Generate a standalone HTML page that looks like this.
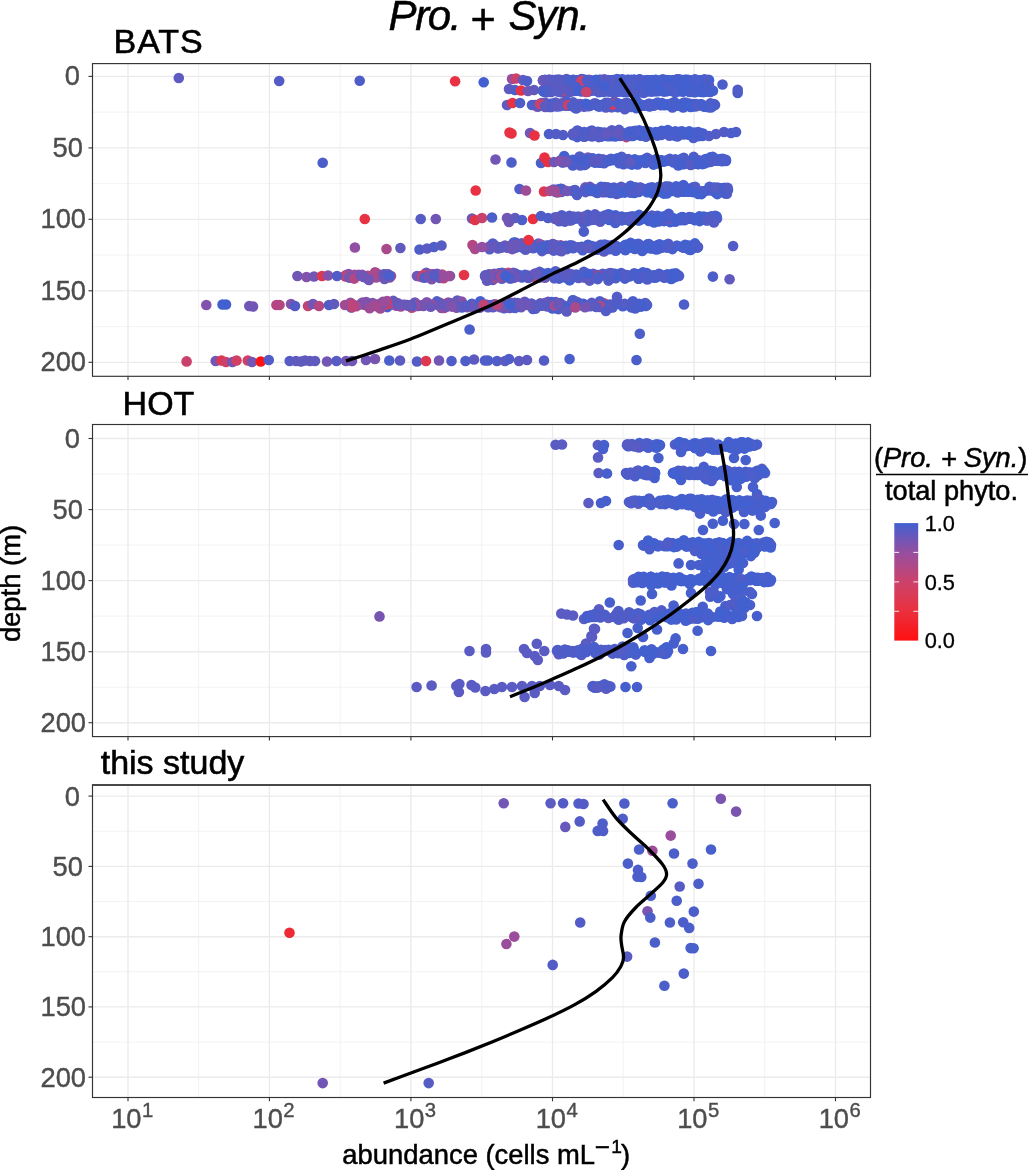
<!DOCTYPE html>
<html lang="en"><head><meta charset="utf-8"><title>Pro. + Syn.</title>
<style>html,body{margin:0;padding:0;background:#fff}body{width:1028px;height:1170px;overflow:hidden}svg{display:block}</style>
</head><body>
<svg width="1028" height="1170" viewBox="0 0 1028 1170" font-family='"Liberation Sans", Arial, Helvetica, sans-serif'>
<defs><linearGradient id="cb" x1="0" y1="1" x2="0" y2="0">
<stop offset="0" stop-color="#ff1010"/>
<stop offset="0.25" stop-color="#ea303e"/>
<stop offset="0.5" stop-color="#cc426a"/>
<stop offset="0.75" stop-color="#964ea0"/>
<stop offset="1" stop-color="#4260d0"/>
</linearGradient></defs>
<rect width="1028" height="1170" fill="#fff"/>
<text y="30.1" font-size="42" fill="#000" stroke="#000" stroke-width="0.5"><tspan x="388.6" font-style="italic" letter-spacing="-1.4">Pro. </tspan><tspan x="470.6" y="33.7" font-size="43.3">+ </tspan><tspan x="508.6" y="30.1" font-style="italic" letter-spacing="-0.7">Syn.</tspan></text>
<g>
<line x1="198.7" x2="198.7" y1="63.6" y2="376.3" stroke="#eeeeee" stroke-width="0.7"/>
<line x1="340.2" x2="340.2" y1="63.6" y2="376.3" stroke="#eeeeee" stroke-width="0.7"/>
<line x1="481.7" x2="481.7" y1="63.6" y2="376.3" stroke="#eeeeee" stroke-width="0.7"/>
<line x1="623.2" x2="623.2" y1="63.6" y2="376.3" stroke="#eeeeee" stroke-width="0.7"/>
<line x1="764.7" x2="764.7" y1="63.6" y2="376.3" stroke="#eeeeee" stroke-width="0.7"/>
<line x1="92.5" x2="870.5" y1="112.1" y2="112.1" stroke="#eeeeee" stroke-width="0.7"/>
<line x1="92.5" x2="870.5" y1="183.6" y2="183.6" stroke="#eeeeee" stroke-width="0.7"/>
<line x1="92.5" x2="870.5" y1="255.1" y2="255.1" stroke="#eeeeee" stroke-width="0.7"/>
<line x1="92.5" x2="870.5" y1="326.6" y2="326.6" stroke="#eeeeee" stroke-width="0.7"/>
<line x1="128.0" x2="128.0" y1="63.6" y2="376.3" stroke="#ebebeb" stroke-width="1.35"/>
<line x1="269.4" x2="269.4" y1="63.6" y2="376.3" stroke="#ebebeb" stroke-width="1.35"/>
<line x1="410.9" x2="410.9" y1="63.6" y2="376.3" stroke="#ebebeb" stroke-width="1.35"/>
<line x1="552.5" x2="552.5" y1="63.6" y2="376.3" stroke="#ebebeb" stroke-width="1.35"/>
<line x1="694.0" x2="694.0" y1="63.6" y2="376.3" stroke="#ebebeb" stroke-width="1.35"/>
<line x1="835.5" x2="835.5" y1="63.6" y2="376.3" stroke="#ebebeb" stroke-width="1.35"/>
<line x1="92.5" x2="870.5" y1="76.4" y2="76.4" stroke="#ebebeb" stroke-width="1.35"/>
<line x1="92.5" x2="870.5" y1="147.9" y2="147.9" stroke="#ebebeb" stroke-width="1.35"/>
<line x1="92.5" x2="870.5" y1="219.3" y2="219.3" stroke="#ebebeb" stroke-width="1.35"/>
<line x1="92.5" x2="870.5" y1="290.8" y2="290.8" stroke="#ebebeb" stroke-width="1.35"/>
<line x1="92.5" x2="870.5" y1="362.3" y2="362.3" stroke="#ebebeb" stroke-width="1.35"/>
<circle cx="500.9" cy="304.7" r="5.3" fill="#4d5eca"/>
<circle cx="694.7" cy="219.6" r="5.3" fill="#4260d0"/>
<circle cx="581.8" cy="79.1" r="5.3" fill="#4e5dc9"/>
<circle cx="572.7" cy="89.7" r="5.3" fill="#565cc5"/>
<circle cx="629.8" cy="216.7" r="5.3" fill="#4c5eca"/>
<circle cx="595.7" cy="248.5" r="5.3" fill="#4260d0"/>
<circle cx="632.4" cy="216.3" r="5.3" fill="#4260d0"/>
<circle cx="555.3" cy="248.8" r="5.3" fill="#465fce"/>
<circle cx="625.4" cy="250.2" r="5.3" fill="#4260d0"/>
<circle cx="697.5" cy="163.9" r="5.3" fill="#4260d0"/>
<circle cx="584.8" cy="80.5" r="5.3" fill="#545cc6"/>
<circle cx="599.4" cy="191.1" r="5.3" fill="#4260d0"/>
<circle cx="637.4" cy="90.7" r="5.3" fill="#4460cf"/>
<circle cx="695.3" cy="89.8" r="5.3" fill="#475fcd"/>
<circle cx="682.4" cy="162.1" r="5.3" fill="#4b5ecb"/>
<circle cx="696.8" cy="246.7" r="5.3" fill="#495fcc"/>
<circle cx="636.7" cy="216.3" r="5.3" fill="#4e5dc9"/>
<circle cx="667.2" cy="80.7" r="5.3" fill="#4f5dc8"/>
<circle cx="516.1" cy="273.9" r="5.3" fill="#495ecc"/>
<circle cx="380.1" cy="275.0" r="5.3" fill="#8851a8"/>
<circle cx="624.3" cy="188.4" r="5.3" fill="#4260d0"/>
<circle cx="647.8" cy="245.4" r="5.3" fill="#4360cf"/>
<circle cx="597.9" cy="131.8" r="5.3" fill="#535cc7"/>
<circle cx="567.4" cy="92.3" r="5.3" fill="#4e5dc9"/>
<circle cx="540.0" cy="277.5" r="5.3" fill="#6259be"/>
<circle cx="586.2" cy="83.1" r="5.3" fill="#5b5bc2"/>
<circle cx="555.4" cy="80.2" r="5.3" fill="#4260d0"/>
<circle cx="650.0" cy="80.6" r="5.3" fill="#4260d0"/>
<circle cx="690.4" cy="191.4" r="5.3" fill="#515dc7"/>
<circle cx="535.0" cy="105.0" r="5.3" fill="#4260d0"/>
<circle cx="572.7" cy="306.1" r="5.3" fill="#5c5ac1"/>
<circle cx="643.4" cy="218.8" r="5.3" fill="#4c5ecb"/>
<circle cx="634.5" cy="79.7" r="5.3" fill="#495fcc"/>
<circle cx="675.3" cy="276.9" r="5.3" fill="#4460cf"/>
<circle cx="622.2" cy="220.1" r="5.3" fill="#4260d0"/>
<circle cx="558.8" cy="104.9" r="5.3" fill="#545cc6"/>
<circle cx="566.9" cy="105.6" r="5.3" fill="#4f5dc9"/>
<circle cx="659.0" cy="273.7" r="5.3" fill="#4b5ecb"/>
<circle cx="644.4" cy="216.6" r="5.3" fill="#4e5dc9"/>
<circle cx="589.9" cy="159.3" r="5.3" fill="#4260d0"/>
<circle cx="646.7" cy="275.6" r="5.3" fill="#4260d0"/>
<circle cx="541.4" cy="103.1" r="5.3" fill="#515dc7"/>
<circle cx="691.6" cy="217.6" r="5.3" fill="#465fce"/>
<circle cx="628.6" cy="79.7" r="5.3" fill="#535cc6"/>
<circle cx="536.3" cy="276.6" r="5.3" fill="#6159be"/>
<circle cx="680.5" cy="161.9" r="5.3" fill="#4e5ec9"/>
<circle cx="585.1" cy="133.6" r="5.3" fill="#485fcc"/>
<circle cx="677.2" cy="79.4" r="5.3" fill="#585bc3"/>
<circle cx="674.6" cy="90.3" r="5.3" fill="#545cc6"/>
<circle cx="596.9" cy="86.7" r="5.3" fill="#4e5dc9"/>
<circle cx="692.4" cy="217.9" r="5.3" fill="#4a5ecb"/>
<circle cx="646.4" cy="134.9" r="5.3" fill="#4c5eca"/>
<circle cx="633.1" cy="132.5" r="5.3" fill="#525dc7"/>
<circle cx="567.1" cy="308.0" r="5.3" fill="#575bc4"/>
<circle cx="545.7" cy="246.6" r="5.3" fill="#8352ab"/>
<circle cx="693.5" cy="188.6" r="5.3" fill="#4360d0"/>
<circle cx="480.4" cy="303.2" r="5.3" fill="#7655b3"/>
<circle cx="710.3" cy="91.9" r="5.3" fill="#4a5ecb"/>
<circle cx="619.2" cy="163.3" r="5.3" fill="#4460cf"/>
<circle cx="573.1" cy="300.2" r="5.3" fill="#485fcd"/>
<circle cx="583.5" cy="79.8" r="5.3" fill="#595bc3"/>
<circle cx="594.3" cy="90.2" r="5.3" fill="#4c5eca"/>
<circle cx="572.8" cy="300.2" r="5.3" fill="#4f5dc8"/>
<circle cx="633.6" cy="192.1" r="5.3" fill="#4d5eca"/>
<circle cx="654.1" cy="105.6" r="5.3" fill="#4c5eca"/>
<circle cx="584.7" cy="165.0" r="5.3" fill="#4260d0"/>
<circle cx="486.7" cy="275.0" r="5.3" fill="#7555b3"/>
<circle cx="612.5" cy="307.5" r="5.3" fill="#485fcd"/>
<circle cx="608.7" cy="135.8" r="5.3" fill="#4d5eca"/>
<circle cx="562.6" cy="162.4" r="5.3" fill="#4260d0"/>
<circle cx="542.1" cy="104.2" r="5.3" fill="#475fcd"/>
<circle cx="656.6" cy="249.4" r="5.3" fill="#4260d0"/>
<circle cx="560.3" cy="189.6" r="5.3" fill="#6858ba"/>
<circle cx="552.7" cy="274.9" r="5.3" fill="#4260d0"/>
<circle cx="693.7" cy="156.9" r="5.3" fill="#505dc8"/>
<circle cx="689.0" cy="105.1" r="5.3" fill="#4c5eca"/>
<circle cx="440.0" cy="302.7" r="5.3" fill="#b54781"/>
<circle cx="598.2" cy="105.0" r="5.3" fill="#495ecc"/>
<circle cx="570.2" cy="86.5" r="5.3" fill="#595bc3"/>
<circle cx="630.6" cy="242.9" r="5.3" fill="#4260d0"/>
<circle cx="590.1" cy="158.6" r="5.3" fill="#4b5ecb"/>
<circle cx="621.4" cy="90.9" r="5.3" fill="#4b5ecb"/>
<circle cx="595.3" cy="274.8" r="5.3" fill="#4e5dc9"/>
<circle cx="562.0" cy="92.3" r="5.3" fill="#515dc7"/>
<circle cx="549.7" cy="80.2" r="5.3" fill="#525dc7"/>
<circle cx="700.2" cy="80.6" r="5.3" fill="#455fce"/>
<circle cx="634.9" cy="248.9" r="5.3" fill="#515dc7"/>
<circle cx="560.0" cy="303.1" r="5.3" fill="#595bc3"/>
<circle cx="699.1" cy="105.0" r="5.3" fill="#475fcd"/>
<circle cx="558.5" cy="309.1" r="5.3" fill="#585bc3"/>
<circle cx="713.5" cy="220.9" r="5.3" fill="#465fce"/>
<circle cx="547.9" cy="89.9" r="5.3" fill="#6758bb"/>
<circle cx="526.6" cy="247.0" r="5.3" fill="#495fcc"/>
<circle cx="540.2" cy="104.6" r="5.3" fill="#595bc3"/>
<circle cx="594.0" cy="132.3" r="5.3" fill="#485fcd"/>
<circle cx="496.0" cy="246.6" r="5.3" fill="#7056b6"/>
<circle cx="650.8" cy="248.5" r="5.3" fill="#4b5ecb"/>
<circle cx="637.7" cy="216.9" r="5.3" fill="#495fcc"/>
<circle cx="646.5" cy="305.1" r="5.3" fill="#4c5eca"/>
<circle cx="615.3" cy="222.9" r="5.3" fill="#495ecc"/>
<circle cx="599.2" cy="91.8" r="5.3" fill="#515dc7"/>
<circle cx="639.3" cy="130.4" r="5.3" fill="#4360cf"/>
<circle cx="619.6" cy="193.0" r="5.3" fill="#4c5eca"/>
<circle cx="644.1" cy="276.3" r="5.3" fill="#4260d0"/>
<circle cx="687.5" cy="162.9" r="5.3" fill="#465fce"/>
<circle cx="568.2" cy="103.7" r="5.3" fill="#5b5bc2"/>
<circle cx="604.0" cy="218.3" r="5.3" fill="#b7477f"/>
<circle cx="549.2" cy="80.1" r="5.3" fill="#575cc4"/>
<circle cx="604.6" cy="190.6" r="5.3" fill="#575cc4"/>
<circle cx="565.2" cy="275.9" r="5.3" fill="#6a57b9"/>
<circle cx="558.0" cy="104.7" r="5.3" fill="#4360cf"/>
<circle cx="665.8" cy="80.9" r="5.3" fill="#485fcc"/>
<circle cx="624.4" cy="192.0" r="5.3" fill="#505dc8"/>
<circle cx="682.8" cy="91.0" r="5.3" fill="#4f5dc8"/>
<circle cx="715.2" cy="192.2" r="5.3" fill="#4a5ecc"/>
<circle cx="668.7" cy="213.7" r="5.3" fill="#495fcc"/>
<circle cx="703.6" cy="92.1" r="5.3" fill="#4d5ec9"/>
<circle cx="612.9" cy="132.8" r="5.3" fill="#4260d0"/>
<circle cx="619.0" cy="129.9" r="5.3" fill="#4c5eca"/>
<circle cx="655.1" cy="249.0" r="5.3" fill="#4260d0"/>
<circle cx="621.7" cy="132.8" r="5.3" fill="#495ecc"/>
<circle cx="689.1" cy="85.6" r="5.3" fill="#4260d0"/>
<circle cx="669.7" cy="219.2" r="5.3" fill="#455fce"/>
<circle cx="645.6" cy="158.7" r="5.3" fill="#475fcd"/>
<circle cx="615.8" cy="90.0" r="5.3" fill="#575bc4"/>
<circle cx="543.0" cy="80.3" r="5.3" fill="#4e5dc9"/>
<circle cx="608.3" cy="132.6" r="5.3" fill="#535cc6"/>
<circle cx="631.6" cy="105.7" r="5.3" fill="#565cc5"/>
<circle cx="672.3" cy="273.8" r="5.3" fill="#4460cf"/>
<circle cx="546.3" cy="304.8" r="5.3" fill="#b7477f"/>
<circle cx="637.8" cy="104.2" r="5.3" fill="#545cc6"/>
<circle cx="557.7" cy="104.7" r="5.3" fill="#6259be"/>
<circle cx="463.5" cy="304.4" r="5.3" fill="#7355b4"/>
<circle cx="617.1" cy="91.8" r="5.3" fill="#545cc6"/>
<circle cx="697.0" cy="90.9" r="5.3" fill="#4b5ecb"/>
<circle cx="577.2" cy="84.7" r="5.3" fill="#525dc7"/>
<circle cx="692.3" cy="135.0" r="5.3" fill="#495ecc"/>
<circle cx="517.8" cy="306.6" r="5.3" fill="#6359bd"/>
<circle cx="629.8" cy="244.9" r="5.3" fill="#4f5dc9"/>
<circle cx="503.4" cy="246.9" r="5.3" fill="#565cc5"/>
<circle cx="545.6" cy="92.4" r="5.3" fill="#585bc4"/>
<circle cx="602.8" cy="106.0" r="5.3" fill="#515dc7"/>
<circle cx="595.2" cy="219.6" r="5.3" fill="#4d5eca"/>
<circle cx="617.9" cy="86.3" r="5.3" fill="#455fce"/>
<circle cx="571.4" cy="220.3" r="5.3" fill="#6a57b9"/>
<circle cx="653.7" cy="160.8" r="5.3" fill="#4b5ecb"/>
<circle cx="700.4" cy="104.4" r="5.3" fill="#4a5ecb"/>
<circle cx="646.8" cy="218.5" r="5.3" fill="#4e5dc9"/>
<circle cx="488.9" cy="274.4" r="5.3" fill="#6558bc"/>
<circle cx="624.6" cy="80.0" r="5.3" fill="#4d5eca"/>
<circle cx="537.4" cy="106.7" r="5.3" fill="#8452aa"/>
<circle cx="690.2" cy="85.4" r="5.3" fill="#495ecc"/>
<circle cx="592.7" cy="89.8" r="5.3" fill="#4260d0"/>
<circle cx="457.3" cy="300.6" r="5.3" fill="#5b5bc2"/>
<circle cx="393.2" cy="300.9" r="5.3" fill="#6159be"/>
<circle cx="612.8" cy="80.4" r="5.3" fill="#485fcd"/>
<circle cx="433.7" cy="274.3" r="5.3" fill="#7655b2"/>
<circle cx="589.5" cy="134.1" r="5.3" fill="#495fcc"/>
<circle cx="679.9" cy="105.8" r="5.3" fill="#4260d0"/>
<circle cx="669.8" cy="132.2" r="5.3" fill="#4460cf"/>
<circle cx="562.3" cy="189.3" r="5.3" fill="#4e5dc9"/>
<circle cx="532.7" cy="276.4" r="5.3" fill="#545cc6"/>
<circle cx="559.6" cy="106.2" r="5.3" fill="#5c5ac1"/>
<circle cx="610.8" cy="86.1" r="5.3" fill="#515dc8"/>
<circle cx="579.5" cy="303.3" r="5.3" fill="#595bc3"/>
<circle cx="652.4" cy="190.8" r="5.3" fill="#4260d0"/>
<circle cx="648.4" cy="277.0" r="5.3" fill="#4f5dc9"/>
<circle cx="586.6" cy="135.2" r="5.3" fill="#9d4c99"/>
<circle cx="625.9" cy="105.2" r="5.3" fill="#4260d0"/>
<circle cx="723.4" cy="159.9" r="5.3" fill="#475fcd"/>
<circle cx="604.0" cy="303.2" r="5.3" fill="#c64370"/>
<circle cx="549.3" cy="305.2" r="5.3" fill="#4c5ecb"/>
<circle cx="642.2" cy="251.0" r="5.3" fill="#4a5ecb"/>
<circle cx="659.0" cy="248.6" r="5.3" fill="#485fcc"/>
<circle cx="442.1" cy="274.6" r="5.3" fill="#c8436e"/>
<circle cx="689.7" cy="80.7" r="5.3" fill="#475fcd"/>
<circle cx="539.2" cy="106.1" r="5.3" fill="#5e5ac0"/>
<circle cx="510.1" cy="248.0" r="5.3" fill="#4360cf"/>
<circle cx="387.4" cy="302.5" r="5.3" fill="#a74a8f"/>
<circle cx="676.7" cy="163.2" r="5.3" fill="#475fcd"/>
<circle cx="472.0" cy="304.7" r="5.3" fill="#7b54af"/>
<circle cx="655.7" cy="277.5" r="5.3" fill="#445fcf"/>
<circle cx="605.8" cy="245.6" r="5.3" fill="#4c5eca"/>
<circle cx="683.8" cy="246.1" r="5.3" fill="#4260d0"/>
<circle cx="687.6" cy="189.0" r="5.3" fill="#4260d0"/>
<circle cx="667.7" cy="90.9" r="5.3" fill="#455fce"/>
<circle cx="655.9" cy="79.9" r="5.3" fill="#445fcf"/>
<circle cx="611.3" cy="273.7" r="5.3" fill="#575bc4"/>
<circle cx="662.9" cy="134.1" r="5.3" fill="#4e5dc9"/>
<circle cx="709.4" cy="218.8" r="5.3" fill="#4460cf"/>
<circle cx="545.4" cy="107.0" r="5.3" fill="#5b5bc1"/>
<circle cx="350.9" cy="277.1" r="5.3" fill="#b64780"/>
<circle cx="602.5" cy="159.6" r="5.3" fill="#465fce"/>
<circle cx="541.4" cy="249.1" r="5.3" fill="#5d5ac1"/>
<circle cx="682.7" cy="80.5" r="5.3" fill="#4a5ecc"/>
<circle cx="594.1" cy="133.2" r="5.3" fill="#4c5eca"/>
<circle cx="618.1" cy="90.9" r="5.3" fill="#4260d0"/>
<circle cx="622.4" cy="275.5" r="5.3" fill="#4360d0"/>
<circle cx="641.2" cy="306.6" r="5.3" fill="#4260d0"/>
<circle cx="649.8" cy="103.9" r="5.3" fill="#475fcd"/>
<circle cx="562.1" cy="247.1" r="5.3" fill="#6858ba"/>
<circle cx="608.2" cy="187.6" r="5.3" fill="#5f5abf"/>
<circle cx="548.5" cy="304.3" r="5.3" fill="#4260d0"/>
<circle cx="400.7" cy="306.5" r="5.3" fill="#a44b92"/>
<circle cx="684.1" cy="161.0" r="5.3" fill="#4c5eca"/>
<circle cx="652.0" cy="275.9" r="5.3" fill="#495fcc"/>
<circle cx="350.6" cy="277.4" r="5.3" fill="#9c4d9a"/>
<circle cx="535.9" cy="246.2" r="5.3" fill="#b54781"/>
<circle cx="559.1" cy="221.2" r="5.3" fill="#525dc7"/>
<circle cx="649.0" cy="221.0" r="5.3" fill="#455fce"/>
<circle cx="683.1" cy="107.5" r="5.3" fill="#4b5ecb"/>
<circle cx="549.4" cy="106.9" r="5.3" fill="#515dc7"/>
<circle cx="709.8" cy="158.8" r="5.3" fill="#4b5ecb"/>
<circle cx="673.0" cy="84.5" r="5.3" fill="#465fce"/>
<circle cx="548.6" cy="79.9" r="5.3" fill="#5d5ac0"/>
<circle cx="677.0" cy="91.1" r="5.3" fill="#4b5ecb"/>
<circle cx="607.0" cy="80.2" r="5.3" fill="#505dc8"/>
<circle cx="492.0" cy="278.1" r="5.3" fill="#6a57b9"/>
<circle cx="481.9" cy="305.9" r="5.3" fill="#545cc6"/>
<circle cx="634.6" cy="246.5" r="5.3" fill="#465fce"/>
<circle cx="515.4" cy="242.6" r="5.3" fill="#495fcc"/>
<circle cx="646.2" cy="274.8" r="5.3" fill="#505dc8"/>
<circle cx="608.1" cy="106.5" r="5.3" fill="#535cc6"/>
<circle cx="675.7" cy="273.3" r="5.3" fill="#4260d0"/>
<circle cx="606.2" cy="247.9" r="5.3" fill="#575cc4"/>
<circle cx="601.2" cy="105.0" r="5.3" fill="#4260d0"/>
<circle cx="617.9" cy="105.7" r="5.3" fill="#4260d0"/>
<circle cx="631.6" cy="307.5" r="5.3" fill="#4260d0"/>
<circle cx="639.1" cy="214.9" r="5.3" fill="#4260d0"/>
<circle cx="709.7" cy="217.9" r="5.3" fill="#455fcf"/>
<circle cx="696.9" cy="246.9" r="5.3" fill="#4c5eca"/>
<circle cx="620.4" cy="80.1" r="5.3" fill="#4c5eca"/>
<circle cx="572.7" cy="161.6" r="5.3" fill="#6c57b8"/>
<circle cx="426.3" cy="272.8" r="5.3" fill="#6858ba"/>
<circle cx="711.1" cy="105.8" r="5.3" fill="#4e5dc9"/>
<circle cx="676.1" cy="186.4" r="5.3" fill="#4260d0"/>
<circle cx="350.5" cy="302.8" r="5.3" fill="#904fa3"/>
<circle cx="548.2" cy="301.8" r="5.3" fill="#6459bc"/>
<circle cx="692.0" cy="106.3" r="5.3" fill="#4260d0"/>
<circle cx="683.4" cy="185.0" r="5.3" fill="#475fcd"/>
<circle cx="661.8" cy="132.7" r="5.3" fill="#455fce"/>
<circle cx="702.6" cy="164.1" r="5.3" fill="#4260d0"/>
<circle cx="618.1" cy="131.0" r="5.3" fill="#5f5abf"/>
<circle cx="600.2" cy="221.7" r="5.3" fill="#5b5bc2"/>
<circle cx="618.9" cy="87.0" r="5.3" fill="#575bc4"/>
<circle cx="654.1" cy="80.5" r="5.3" fill="#4460cf"/>
<circle cx="565.3" cy="105.3" r="5.3" fill="#4260d0"/>
<circle cx="605.3" cy="187.5" r="5.3" fill="#4b5ecb"/>
<circle cx="657.6" cy="215.9" r="5.3" fill="#455fce"/>
<circle cx="585.4" cy="134.4" r="5.3" fill="#4f5dc9"/>
<circle cx="603.4" cy="91.4" r="5.3" fill="#4c5eca"/>
<circle cx="461.9" cy="307.4" r="5.3" fill="#4260d0"/>
<circle cx="684.2" cy="187.7" r="5.3" fill="#4260d0"/>
<circle cx="694.2" cy="246.9" r="5.3" fill="#4260d0"/>
<circle cx="387.3" cy="307.1" r="5.3" fill="#4a5ecb"/>
<circle cx="700.5" cy="80.7" r="5.3" fill="#4b5ecb"/>
<circle cx="564.6" cy="102.1" r="5.3" fill="#6658bc"/>
<circle cx="612.7" cy="276.8" r="5.3" fill="#4360d0"/>
<circle cx="636.6" cy="162.8" r="5.3" fill="#4260d0"/>
<circle cx="550.9" cy="306.5" r="5.3" fill="#6059bf"/>
<circle cx="702.5" cy="105.8" r="5.3" fill="#4c5eca"/>
<circle cx="561.0" cy="160.0" r="5.3" fill="#5d5ac0"/>
<circle cx="647.3" cy="217.4" r="5.3" fill="#485fcd"/>
<circle cx="559.7" cy="219.3" r="5.3" fill="#4260d0"/>
<circle cx="512.9" cy="277.9" r="5.3" fill="#e53345"/>
<circle cx="605.7" cy="192.0" r="5.3" fill="#4260d0"/>
<circle cx="628.5" cy="162.9" r="5.3" fill="#535cc6"/>
<circle cx="346.1" cy="275.0" r="5.3" fill="#9e4c98"/>
<circle cx="651.8" cy="248.2" r="5.3" fill="#4260d0"/>
<circle cx="564.2" cy="105.4" r="5.3" fill="#4c5eca"/>
<circle cx="696.0" cy="87.5" r="5.3" fill="#4360cf"/>
<circle cx="504.1" cy="305.1" r="5.3" fill="#4260d0"/>
<circle cx="640.1" cy="161.6" r="5.3" fill="#4460cf"/>
<circle cx="650.0" cy="217.6" r="5.3" fill="#4460cf"/>
<circle cx="565.7" cy="245.9" r="5.3" fill="#5b5bc2"/>
<circle cx="602.0" cy="161.4" r="5.3" fill="#575bc4"/>
<circle cx="639.7" cy="162.5" r="5.3" fill="#485fcd"/>
<circle cx="539.2" cy="274.9" r="5.3" fill="#475fcd"/>
<circle cx="591.2" cy="134.7" r="5.3" fill="#4f5dc8"/>
<circle cx="606.8" cy="135.7" r="5.3" fill="#4260d0"/>
<circle cx="580.9" cy="161.9" r="5.3" fill="#555cc5"/>
<circle cx="570.7" cy="80.4" r="5.3" fill="#6459bc"/>
<circle cx="640.9" cy="105.9" r="5.3" fill="#4e5dc9"/>
<circle cx="677.5" cy="105.7" r="5.3" fill="#4260d0"/>
<circle cx="514.0" cy="277.5" r="5.3" fill="#485fcc"/>
<circle cx="376.9" cy="305.6" r="5.3" fill="#8f4fa4"/>
<circle cx="691.7" cy="189.9" r="5.3" fill="#4360cf"/>
<circle cx="655.0" cy="80.4" r="5.3" fill="#475fcd"/>
<circle cx="711.7" cy="217.2" r="5.3" fill="#4260d0"/>
<circle cx="666.0" cy="80.4" r="5.3" fill="#465fce"/>
<circle cx="621.7" cy="191.0" r="5.3" fill="#4e5dc9"/>
<circle cx="376.4" cy="273.3" r="5.3" fill="#5b5bc2"/>
<circle cx="608.1" cy="214.2" r="5.3" fill="#475fcd"/>
<circle cx="606.9" cy="307.0" r="5.3" fill="#495ecc"/>
<circle cx="572.9" cy="191.0" r="5.3" fill="#6259be"/>
<circle cx="609.6" cy="90.9" r="5.3" fill="#495ecc"/>
<circle cx="656.9" cy="188.3" r="5.3" fill="#4a5ecb"/>
<circle cx="437.9" cy="305.0" r="5.3" fill="#5a5bc2"/>
<circle cx="599.3" cy="79.9" r="5.3" fill="#495fcc"/>
<circle cx="567.2" cy="160.0" r="5.3" fill="#505dc8"/>
<circle cx="711.9" cy="217.4" r="5.3" fill="#4260d0"/>
<circle cx="397.4" cy="305.7" r="5.3" fill="#984d9e"/>
<circle cx="599.9" cy="80.2" r="5.3" fill="#4260d0"/>
<circle cx="599.0" cy="135.6" r="5.3" fill="#535cc6"/>
<circle cx="559.8" cy="303.9" r="5.3" fill="#4360d0"/>
<circle cx="690.3" cy="80.9" r="5.3" fill="#4d5eca"/>
<circle cx="369.5" cy="305.4" r="5.3" fill="#6f56b6"/>
<circle cx="682.4" cy="85.8" r="5.3" fill="#495fcc"/>
<circle cx="590.7" cy="247.5" r="5.3" fill="#5c5bc1"/>
<circle cx="636.3" cy="108.3" r="5.3" fill="#4260d0"/>
<circle cx="675.7" cy="80.3" r="5.3" fill="#525dc7"/>
<circle cx="581.6" cy="246.7" r="5.3" fill="#6459bc"/>
<circle cx="601.5" cy="306.8" r="5.3" fill="#505dc8"/>
<circle cx="574.8" cy="161.6" r="5.3" fill="#465fce"/>
<circle cx="555.1" cy="217.2" r="5.3" fill="#575cc4"/>
<circle cx="720.1" cy="159.6" r="5.3" fill="#4e5dc9"/>
<circle cx="597.5" cy="191.8" r="5.3" fill="#495ecc"/>
<circle cx="617.5" cy="190.5" r="5.3" fill="#4260d0"/>
<circle cx="568.4" cy="90.6" r="5.3" fill="#6658bb"/>
<circle cx="674.4" cy="104.9" r="5.3" fill="#455fce"/>
<circle cx="515.0" cy="306.7" r="5.3" fill="#6758bb"/>
<circle cx="699.9" cy="192.0" r="5.3" fill="#4b5ecb"/>
<circle cx="564.5" cy="80.3" r="5.3" fill="#495ecc"/>
<circle cx="633.2" cy="189.8" r="5.3" fill="#555cc5"/>
<circle cx="678.2" cy="275.3" r="5.3" fill="#495ecc"/>
<circle cx="688.9" cy="163.3" r="5.3" fill="#4f5dc9"/>
<circle cx="588.0" cy="157.5" r="5.3" fill="#6c57b8"/>
<circle cx="592.8" cy="160.6" r="5.3" fill="#455fce"/>
<circle cx="624.2" cy="135.2" r="5.3" fill="#555cc5"/>
<circle cx="385.4" cy="305.1" r="5.3" fill="#5d5ac1"/>
<circle cx="645.9" cy="136.8" r="5.3" fill="#525dc7"/>
<circle cx="485.9" cy="304.5" r="5.3" fill="#6259bd"/>
<circle cx="643.1" cy="87.5" r="5.3" fill="#4d5eca"/>
<circle cx="649.7" cy="90.3" r="5.3" fill="#4260d0"/>
<circle cx="696.7" cy="90.9" r="5.3" fill="#4b5ecb"/>
<circle cx="493.8" cy="275.4" r="5.3" fill="#6c57b8"/>
<circle cx="573.9" cy="84.2" r="5.3" fill="#4c5eca"/>
<circle cx="657.3" cy="87.8" r="5.3" fill="#4a5ecc"/>
<circle cx="565.0" cy="85.5" r="5.3" fill="#555cc5"/>
<circle cx="689.1" cy="218.2" r="5.3" fill="#475fcd"/>
<circle cx="566.6" cy="248.1" r="5.3" fill="#545cc6"/>
<circle cx="633.9" cy="80.5" r="5.3" fill="#495fcc"/>
<circle cx="690.4" cy="104.6" r="5.3" fill="#485fcc"/>
<circle cx="439.8" cy="277.9" r="5.3" fill="#595bc3"/>
<circle cx="564.0" cy="218.6" r="5.3" fill="#4c5eca"/>
<circle cx="609.9" cy="307.5" r="5.3" fill="#4c5eca"/>
<circle cx="629.1" cy="92.0" r="5.3" fill="#4d5eca"/>
<circle cx="665.5" cy="80.4" r="5.3" fill="#4260d0"/>
<circle cx="681.8" cy="158.7" r="5.3" fill="#4260d0"/>
<circle cx="658.4" cy="276.2" r="5.3" fill="#4260d0"/>
<circle cx="553.3" cy="80.6" r="5.3" fill="#545cc5"/>
<circle cx="567.2" cy="104.7" r="5.3" fill="#4a5ecc"/>
<circle cx="573.5" cy="276.3" r="5.3" fill="#535cc6"/>
<circle cx="443.7" cy="278.3" r="5.3" fill="#b8467e"/>
<circle cx="657.6" cy="245.0" r="5.3" fill="#4d5eca"/>
<circle cx="638.9" cy="278.8" r="5.3" fill="#4260d0"/>
<circle cx="662.2" cy="104.8" r="5.3" fill="#4260d0"/>
<circle cx="423.4" cy="306.0" r="5.3" fill="#7355b4"/>
<circle cx="656.8" cy="189.6" r="5.3" fill="#4460cf"/>
<circle cx="597.9" cy="275.1" r="5.3" fill="#455fce"/>
<circle cx="705.1" cy="219.5" r="5.3" fill="#515dc7"/>
<circle cx="467.2" cy="307.2" r="5.3" fill="#7c54af"/>
<circle cx="612.8" cy="91.3" r="5.3" fill="#505dc8"/>
<circle cx="659.0" cy="187.0" r="5.3" fill="#4260d0"/>
<circle cx="565.4" cy="277.6" r="5.3" fill="#575bc4"/>
<circle cx="649.9" cy="85.3" r="5.3" fill="#465fce"/>
<circle cx="543.0" cy="90.8" r="5.3" fill="#4e5dc9"/>
<circle cx="681.7" cy="162.7" r="5.3" fill="#4460cf"/>
<circle cx="651.3" cy="277.2" r="5.3" fill="#4360cf"/>
<circle cx="611.5" cy="219.2" r="5.3" fill="#4c5eca"/>
<circle cx="578.7" cy="132.5" r="5.3" fill="#605abf"/>
<circle cx="603.9" cy="251.4" r="5.3" fill="#6359bd"/>
<circle cx="496.1" cy="246.8" r="5.3" fill="#7c54af"/>
<circle cx="700.0" cy="80.8" r="5.3" fill="#4260d0"/>
<circle cx="577.7" cy="107.2" r="5.3" fill="#505dc8"/>
<circle cx="683.5" cy="247.2" r="5.3" fill="#475fcd"/>
<circle cx="510.9" cy="278.3" r="5.3" fill="#5e5ac0"/>
<circle cx="707.2" cy="217.4" r="5.3" fill="#475fcd"/>
<circle cx="597.4" cy="249.7" r="5.3" fill="#525dc7"/>
<circle cx="652.1" cy="90.7" r="5.3" fill="#4460cf"/>
<circle cx="582.4" cy="84.8" r="5.3" fill="#6858ba"/>
<circle cx="586.0" cy="306.0" r="5.3" fill="#595bc3"/>
<circle cx="564.1" cy="80.6" r="5.3" fill="#5c5ac1"/>
<circle cx="635.5" cy="219.2" r="5.3" fill="#4260d0"/>
<circle cx="623.5" cy="164.2" r="5.3" fill="#4b5ecb"/>
<circle cx="597.3" cy="192.9" r="5.3" fill="#485fcc"/>
<circle cx="604.5" cy="189.5" r="5.3" fill="#4a5ecb"/>
<circle cx="598.7" cy="158.7" r="5.3" fill="#445fcf"/>
<circle cx="652.8" cy="193.6" r="5.3" fill="#475fcd"/>
<circle cx="664.8" cy="80.4" r="5.3" fill="#4a5ecb"/>
<circle cx="681.9" cy="104.3" r="5.3" fill="#4260d0"/>
<circle cx="587.9" cy="134.5" r="5.3" fill="#4260d0"/>
<circle cx="683.9" cy="87.0" r="5.3" fill="#4a5ecc"/>
<circle cx="603.2" cy="191.6" r="5.3" fill="#545cc6"/>
<circle cx="623.7" cy="91.9" r="5.3" fill="#465fce"/>
<circle cx="568.8" cy="90.9" r="5.3" fill="#555cc5"/>
<circle cx="476.4" cy="305.7" r="5.3" fill="#af4887"/>
<circle cx="574.7" cy="160.6" r="5.3" fill="#4260d0"/>
<circle cx="587.1" cy="218.2" r="5.3" fill="#5d5ac1"/>
<circle cx="559.2" cy="218.2" r="5.3" fill="#535cc6"/>
<circle cx="498.1" cy="248.5" r="5.3" fill="#6a57b9"/>
<circle cx="369.0" cy="280.0" r="5.3" fill="#7954b0"/>
<circle cx="691.8" cy="105.1" r="5.3" fill="#4f5dc8"/>
<circle cx="561.8" cy="215.2" r="5.3" fill="#4e5dc9"/>
<circle cx="651.7" cy="91.2" r="5.3" fill="#455fce"/>
<circle cx="543.1" cy="245.5" r="5.3" fill="#7056b6"/>
<circle cx="618.8" cy="131.2" r="5.3" fill="#5f5ac0"/>
<circle cx="667.6" cy="217.5" r="5.3" fill="#4460cf"/>
<circle cx="572.7" cy="190.7" r="5.3" fill="#4c5eca"/>
<circle cx="511.4" cy="275.6" r="5.3" fill="#485fcc"/>
<circle cx="500.6" cy="276.2" r="5.3" fill="#6f56b6"/>
<circle cx="705.6" cy="90.7" r="5.3" fill="#4260d0"/>
<circle cx="620.7" cy="133.1" r="5.3" fill="#515dc7"/>
<circle cx="673.5" cy="276.6" r="5.3" fill="#465fce"/>
<circle cx="569.3" cy="105.4" r="5.3" fill="#4260d0"/>
<circle cx="680.0" cy="105.6" r="5.3" fill="#585bc3"/>
<circle cx="691.0" cy="218.7" r="5.3" fill="#495ecc"/>
<circle cx="678.0" cy="161.4" r="5.3" fill="#4260d0"/>
<circle cx="624.5" cy="189.2" r="5.3" fill="#555cc5"/>
<circle cx="566.5" cy="79.1" r="5.3" fill="#5b5bc2"/>
<circle cx="532.2" cy="247.7" r="5.3" fill="#505dc8"/>
<circle cx="513.6" cy="248.2" r="5.3" fill="#4f5dc8"/>
<circle cx="607.6" cy="217.2" r="5.3" fill="#545cc6"/>
<circle cx="662.6" cy="87.7" r="5.3" fill="#465fce"/>
<circle cx="519.6" cy="306.6" r="5.3" fill="#4260d0"/>
<circle cx="644.1" cy="303.9" r="5.3" fill="#565cc5"/>
<circle cx="689.4" cy="247.2" r="5.3" fill="#4260d0"/>
<circle cx="486.2" cy="276.3" r="5.3" fill="#6f56b7"/>
<circle cx="681.9" cy="162.1" r="5.3" fill="#555cc5"/>
<circle cx="616.5" cy="217.0" r="5.3" fill="#4460cf"/>
<circle cx="525.5" cy="249.8" r="5.3" fill="#5d5ac1"/>
<circle cx="693.0" cy="187.2" r="5.3" fill="#4260d0"/>
<circle cx="656.1" cy="84.2" r="5.3" fill="#4260d0"/>
<circle cx="665.2" cy="186.9" r="5.3" fill="#4460cf"/>
<circle cx="580.6" cy="79.8" r="5.3" fill="#cb426b"/>
<circle cx="637.4" cy="105.0" r="5.3" fill="#4260d0"/>
<circle cx="597.7" cy="105.7" r="5.3" fill="#485fcc"/>
<circle cx="660.0" cy="81.6" r="5.3" fill="#4260d0"/>
<circle cx="367.9" cy="275.7" r="5.3" fill="#b64780"/>
<circle cx="504.1" cy="308.2" r="5.3" fill="#525cc7"/>
<circle cx="632.0" cy="80.2" r="5.3" fill="#485fcd"/>
<circle cx="588.2" cy="135.3" r="5.3" fill="#575bc4"/>
<circle cx="551.2" cy="107.0" r="5.3" fill="#6858ba"/>
<circle cx="690.1" cy="191.0" r="5.3" fill="#485fcc"/>
<circle cx="560.6" cy="245.3" r="5.3" fill="#c64370"/>
<circle cx="513.6" cy="247.0" r="5.3" fill="#585bc3"/>
<circle cx="667.4" cy="274.4" r="5.3" fill="#455fce"/>
<circle cx="546.1" cy="80.2" r="5.3" fill="#595bc3"/>
<circle cx="355.7" cy="275.7" r="5.3" fill="#aa498c"/>
<circle cx="515.5" cy="276.3" r="5.3" fill="#8b50a6"/>
<circle cx="581.8" cy="132.7" r="5.3" fill="#4f5dc9"/>
<circle cx="496.5" cy="276.9" r="5.3" fill="#6758bb"/>
<circle cx="726.7" cy="188.4" r="5.3" fill="#475fcd"/>
<circle cx="615.2" cy="134.3" r="5.3" fill="#555cc5"/>
<circle cx="639.3" cy="303.8" r="5.3" fill="#4b5ecb"/>
<circle cx="667.6" cy="80.3" r="5.3" fill="#4260d0"/>
<circle cx="624.6" cy="103.9" r="5.3" fill="#4e5ec9"/>
<circle cx="699.9" cy="133.5" r="5.3" fill="#4260d0"/>
<circle cx="602.7" cy="273.7" r="5.3" fill="#5b5bc2"/>
<circle cx="551.2" cy="80.1" r="5.3" fill="#6f56b6"/>
<circle cx="437.0" cy="273.7" r="5.3" fill="#6159be"/>
<circle cx="696.0" cy="104.0" r="5.3" fill="#535cc7"/>
<circle cx="675.2" cy="221.8" r="5.3" fill="#4260d0"/>
<circle cx="675.4" cy="132.5" r="5.3" fill="#4260d0"/>
<circle cx="650.2" cy="188.3" r="5.3" fill="#455fce"/>
<circle cx="608.3" cy="80.4" r="5.3" fill="#4260d0"/>
<circle cx="582.4" cy="134.5" r="5.3" fill="#485fcd"/>
<circle cx="566.2" cy="92.2" r="5.3" fill="#4260d0"/>
<circle cx="599.7" cy="216.7" r="5.3" fill="#555cc5"/>
<circle cx="560.0" cy="91.9" r="5.3" fill="#4a5ecb"/>
<circle cx="589.6" cy="280.6" r="5.3" fill="#5c5bc1"/>
<circle cx="595.0" cy="214.4" r="5.3" fill="#585bc3"/>
<circle cx="593.1" cy="273.9" r="5.3" fill="#6159be"/>
<circle cx="693.7" cy="247.1" r="5.3" fill="#465fcd"/>
<circle cx="691.7" cy="248.9" r="5.3" fill="#4b5ecb"/>
<circle cx="678.2" cy="132.9" r="5.3" fill="#495fcc"/>
<circle cx="446.2" cy="303.9" r="5.3" fill="#6459bd"/>
<circle cx="610.9" cy="136.2" r="5.3" fill="#6558bc"/>
<circle cx="713.5" cy="190.3" r="5.3" fill="#4260d0"/>
<circle cx="599.5" cy="106.6" r="5.3" fill="#4260d0"/>
<circle cx="537.2" cy="247.2" r="5.3" fill="#5d5ac0"/>
<circle cx="448.3" cy="305.9" r="5.3" fill="#6858ba"/>
<circle cx="563.1" cy="274.6" r="5.3" fill="#585bc4"/>
<circle cx="636.7" cy="90.7" r="5.3" fill="#465fce"/>
<circle cx="568.0" cy="87.1" r="5.3" fill="#9d4c99"/>
<circle cx="686.4" cy="87.6" r="5.3" fill="#555cc5"/>
<circle cx="571.5" cy="274.4" r="5.3" fill="#4260d0"/>
<circle cx="685.1" cy="246.4" r="5.3" fill="#4260d0"/>
<circle cx="593.6" cy="80.7" r="5.3" fill="#545cc6"/>
<circle cx="612.6" cy="80.1" r="5.3" fill="#465fce"/>
<circle cx="580.7" cy="86.1" r="5.3" fill="#4260d0"/>
<circle cx="606.5" cy="245.0" r="5.3" fill="#575bc4"/>
<circle cx="645.9" cy="306.0" r="5.3" fill="#4d5ec9"/>
<circle cx="637.0" cy="191.3" r="5.3" fill="#4e5ec9"/>
<circle cx="490.3" cy="246.0" r="5.3" fill="#575cc4"/>
<circle cx="630.2" cy="188.9" r="5.3" fill="#4d5eca"/>
<circle cx="567.0" cy="249.1" r="5.3" fill="#565cc5"/>
<circle cx="514.7" cy="302.8" r="5.3" fill="#7256b4"/>
<circle cx="611.7" cy="107.2" r="5.3" fill="#5c5ac1"/>
<circle cx="585.5" cy="159.2" r="5.3" fill="#5c5ac1"/>
<circle cx="606.2" cy="134.9" r="5.3" fill="#5a5bc2"/>
<circle cx="616.4" cy="80.5" r="5.3" fill="#4d5eca"/>
<circle cx="494.3" cy="273.7" r="5.3" fill="#7356b4"/>
<circle cx="566.8" cy="276.1" r="5.3" fill="#6459bd"/>
<circle cx="613.1" cy="91.7" r="5.3" fill="#455fce"/>
<circle cx="544.1" cy="91.5" r="5.3" fill="#4260d0"/>
<circle cx="642.7" cy="188.8" r="5.3" fill="#4260d0"/>
<circle cx="656.1" cy="219.2" r="5.3" fill="#4460cf"/>
<circle cx="581.4" cy="91.5" r="5.3" fill="#565cc5"/>
<circle cx="545.4" cy="276.4" r="5.3" fill="#575cc4"/>
<circle cx="679.3" cy="134.1" r="5.3" fill="#4260d0"/>
<circle cx="615.4" cy="106.0" r="5.3" fill="#515dc7"/>
<circle cx="570.3" cy="91.2" r="5.3" fill="#7256b4"/>
<circle cx="639.8" cy="104.0" r="5.3" fill="#4260d0"/>
<circle cx="471.9" cy="303.7" r="5.3" fill="#4260d0"/>
<circle cx="398.6" cy="304.4" r="5.3" fill="#914fa3"/>
<circle cx="660.8" cy="160.4" r="5.3" fill="#4a5ecb"/>
<circle cx="348.7" cy="274.1" r="5.3" fill="#8252ab"/>
<circle cx="515.5" cy="247.6" r="5.3" fill="#4460cf"/>
<circle cx="702.5" cy="136.0" r="5.3" fill="#4d5eca"/>
<circle cx="655.9" cy="192.5" r="5.3" fill="#4b5ecb"/>
<circle cx="562.1" cy="247.7" r="5.3" fill="#4a5ecc"/>
<circle cx="545.3" cy="90.1" r="5.3" fill="#525cc7"/>
<circle cx="631.5" cy="79.8" r="5.3" fill="#4260d0"/>
<circle cx="603.5" cy="80.1" r="5.3" fill="#455fce"/>
<circle cx="503.8" cy="307.6" r="5.3" fill="#595bc3"/>
<circle cx="569.5" cy="161.7" r="5.3" fill="#be4578"/>
<circle cx="689.9" cy="91.6" r="5.3" fill="#475fcd"/>
<circle cx="452.9" cy="305.6" r="5.3" fill="#5f5ac0"/>
<circle cx="663.8" cy="192.5" r="5.3" fill="#4360d0"/>
<circle cx="678.2" cy="165.5" r="5.3" fill="#4d5ec9"/>
<circle cx="616.6" cy="194.0" r="5.3" fill="#5f5abf"/>
<circle cx="491.1" cy="305.3" r="5.3" fill="#8f4fa4"/>
<circle cx="704.3" cy="85.7" r="5.3" fill="#4360d0"/>
<circle cx="619.1" cy="80.0" r="5.3" fill="#455fce"/>
<circle cx="423.2" cy="276.4" r="5.3" fill="#974e9f"/>
<circle cx="704.6" cy="86.1" r="5.3" fill="#575cc4"/>
<circle cx="583.7" cy="247.7" r="5.3" fill="#555cc5"/>
<circle cx="663.7" cy="84.3" r="5.3" fill="#4360cf"/>
<circle cx="629.0" cy="246.4" r="5.3" fill="#485fcd"/>
<circle cx="591.0" cy="159.7" r="5.3" fill="#525dc7"/>
<circle cx="518.3" cy="275.3" r="5.3" fill="#565cc5"/>
<circle cx="603.4" cy="84.7" r="5.3" fill="#4c5eca"/>
<circle cx="683.5" cy="218.5" r="5.3" fill="#4260d0"/>
<circle cx="682.0" cy="246.9" r="5.3" fill="#455fce"/>
<circle cx="590.5" cy="105.5" r="5.3" fill="#6a57b9"/>
<circle cx="491.7" cy="246.3" r="5.3" fill="#565cc5"/>
<circle cx="554.5" cy="248.3" r="5.3" fill="#a04c96"/>
<circle cx="605.1" cy="246.1" r="5.3" fill="#495fcc"/>
<circle cx="377.4" cy="304.9" r="5.3" fill="#7356b4"/>
<circle cx="534.7" cy="273.8" r="5.3" fill="#5d5ac1"/>
<circle cx="561.2" cy="91.6" r="5.3" fill="#5c5ac1"/>
<circle cx="616.1" cy="80.4" r="5.3" fill="#535cc6"/>
<circle cx="503.0" cy="305.6" r="5.3" fill="#6658bb"/>
<circle cx="598.2" cy="189.8" r="5.3" fill="#bc467a"/>
<circle cx="686.9" cy="247.9" r="5.3" fill="#4b5ecb"/>
<circle cx="486.2" cy="305.7" r="5.3" fill="#585bc4"/>
<circle cx="629.4" cy="133.1" r="5.3" fill="#4260d0"/>
<circle cx="655.0" cy="90.4" r="5.3" fill="#485fcc"/>
<circle cx="582.7" cy="90.9" r="5.3" fill="#5e5ac0"/>
<circle cx="498.4" cy="273.6" r="5.3" fill="#7056b6"/>
<circle cx="596.3" cy="103.9" r="5.3" fill="#545cc6"/>
<circle cx="591.7" cy="302.9" r="5.3" fill="#5c5ac1"/>
<circle cx="654.4" cy="104.1" r="5.3" fill="#4260d0"/>
<circle cx="695.3" cy="80.0" r="5.3" fill="#4f5dc9"/>
<circle cx="667.4" cy="216.2" r="5.3" fill="#4d5eca"/>
<circle cx="693.7" cy="133.4" r="5.3" fill="#485fcc"/>
<circle cx="550.0" cy="89.6" r="5.3" fill="#a44b92"/>
<circle cx="559.1" cy="278.6" r="5.3" fill="#495ecc"/>
<circle cx="560.8" cy="249.6" r="5.3" fill="#6259bd"/>
<circle cx="637.5" cy="164.4" r="5.3" fill="#455fce"/>
<circle cx="592.0" cy="136.5" r="5.3" fill="#505dc8"/>
<circle cx="618.5" cy="160.7" r="5.3" fill="#495fcc"/>
<circle cx="712.6" cy="105.2" r="5.3" fill="#4260d0"/>
<circle cx="534.4" cy="274.6" r="5.3" fill="#545cc6"/>
<circle cx="554.2" cy="90.2" r="5.3" fill="#5f5abf"/>
<circle cx="692.8" cy="84.0" r="5.3" fill="#4260d0"/>
<circle cx="645.4" cy="81.5" r="5.3" fill="#495ecc"/>
<circle cx="604.8" cy="217.3" r="5.3" fill="#515dc7"/>
<circle cx="652.6" cy="246.4" r="5.3" fill="#4c5eca"/>
<circle cx="660.5" cy="275.0" r="5.3" fill="#485fcc"/>
<circle cx="616.5" cy="103.2" r="5.3" fill="#485fcc"/>
<circle cx="559.6" cy="246.3" r="5.3" fill="#6f56b6"/>
<circle cx="662.5" cy="91.1" r="5.3" fill="#4a5ecb"/>
<circle cx="493.7" cy="304.8" r="5.3" fill="#7256b5"/>
<circle cx="543.0" cy="273.5" r="5.3" fill="#6b57b9"/>
<circle cx="636.6" cy="134.8" r="5.3" fill="#535cc7"/>
<circle cx="635.2" cy="308.5" r="5.3" fill="#515dc7"/>
<circle cx="607.9" cy="305.1" r="5.3" fill="#4b5ecb"/>
<circle cx="629.9" cy="160.8" r="5.3" fill="#4b5ecb"/>
<circle cx="597.2" cy="276.0" r="5.3" fill="#4260d0"/>
<circle cx="550.9" cy="305.8" r="5.3" fill="#5c5ac1"/>
<circle cx="680.6" cy="189.4" r="5.3" fill="#4260d0"/>
<circle cx="638.8" cy="191.9" r="5.3" fill="#485fcc"/>
<circle cx="576.1" cy="108.4" r="5.3" fill="#525dc7"/>
<circle cx="579.6" cy="156.5" r="5.3" fill="#525dc7"/>
<circle cx="613.9" cy="187.5" r="5.3" fill="#555cc5"/>
<circle cx="707.2" cy="162.3" r="5.3" fill="#4a5ecb"/>
<circle cx="578.9" cy="277.0" r="5.3" fill="#505dc8"/>
<circle cx="649.3" cy="161.3" r="5.3" fill="#485fcd"/>
<circle cx="696.3" cy="85.9" r="5.3" fill="#4260d0"/>
<circle cx="609.7" cy="90.8" r="5.3" fill="#535cc6"/>
<circle cx="595.0" cy="217.9" r="5.3" fill="#495fcc"/>
<circle cx="628.0" cy="80.9" r="5.3" fill="#4260d0"/>
<circle cx="725.9" cy="159.8" r="5.3" fill="#465fce"/>
<circle cx="649.6" cy="187.7" r="5.3" fill="#4c5eca"/>
<circle cx="563.1" cy="104.8" r="5.3" fill="#5c5ac1"/>
<circle cx="647.9" cy="192.0" r="5.3" fill="#495fcc"/>
<circle cx="556.5" cy="190.3" r="5.3" fill="#4260d0"/>
<circle cx="588.8" cy="79.9" r="5.3" fill="#a84a8e"/>
<circle cx="686.8" cy="162.4" r="5.3" fill="#4260d0"/>
<circle cx="676.2" cy="133.0" r="5.3" fill="#4260d0"/>
<circle cx="669.6" cy="84.3" r="5.3" fill="#4260d0"/>
<circle cx="617.8" cy="248.3" r="5.3" fill="#4260d0"/>
<circle cx="647.2" cy="80.9" r="5.3" fill="#4a5ecb"/>
<circle cx="626.0" cy="161.3" r="5.3" fill="#495fcc"/>
<circle cx="654.6" cy="217.2" r="5.3" fill="#495ecc"/>
<circle cx="621.3" cy="84.0" r="5.3" fill="#4f5dc9"/>
<circle cx="680.1" cy="160.1" r="5.3" fill="#4b5ecb"/>
<circle cx="601.7" cy="305.3" r="5.3" fill="#a54b91"/>
<circle cx="615.1" cy="134.6" r="5.3" fill="#4b5ecb"/>
<circle cx="557.7" cy="247.4" r="5.3" fill="#455fce"/>
<circle cx="662.6" cy="88.0" r="5.3" fill="#465fce"/>
<circle cx="620.1" cy="219.8" r="5.3" fill="#4260d0"/>
<circle cx="565.7" cy="247.7" r="5.3" fill="#4260d0"/>
<circle cx="489.6" cy="249.2" r="5.3" fill="#545cc5"/>
<circle cx="617.2" cy="79.1" r="5.3" fill="#4260d0"/>
<circle cx="638.9" cy="83.5" r="5.3" fill="#4b5ecb"/>
<circle cx="693.7" cy="160.2" r="5.3" fill="#465fce"/>
<circle cx="726.0" cy="161.0" r="5.3" fill="#475fcd"/>
<circle cx="507.1" cy="247.5" r="5.3" fill="#6159be"/>
<circle cx="715.0" cy="105.0" r="5.3" fill="#535cc6"/>
<circle cx="657.1" cy="133.4" r="5.3" fill="#4d5eca"/>
<circle cx="689.6" cy="245.5" r="5.3" fill="#4260d0"/>
<circle cx="574.1" cy="80.1" r="5.3" fill="#6459bc"/>
<circle cx="642.5" cy="87.4" r="5.3" fill="#485fcc"/>
<circle cx="600.7" cy="219.4" r="5.3" fill="#4e5ec9"/>
<circle cx="635.4" cy="130.8" r="5.3" fill="#4260d0"/>
<circle cx="604.1" cy="192.3" r="5.3" fill="#595bc3"/>
<circle cx="720.9" cy="188.6" r="5.3" fill="#4260d0"/>
<circle cx="665.6" cy="161.0" r="5.3" fill="#495fcc"/>
<circle cx="715.7" cy="189.1" r="5.3" fill="#4d5eca"/>
<circle cx="715.5" cy="160.4" r="5.3" fill="#485fcd"/>
<circle cx="677.8" cy="160.4" r="5.3" fill="#465fce"/>
<circle cx="592.1" cy="276.1" r="5.3" fill="#bb467b"/>
<circle cx="512.5" cy="247.9" r="5.3" fill="#6d57b8"/>
<circle cx="378.8" cy="304.2" r="5.3" fill="#a34b93"/>
<circle cx="636.4" cy="104.5" r="5.3" fill="#465fce"/>
<circle cx="647.3" cy="279.5" r="5.3" fill="#515dc7"/>
<circle cx="597.0" cy="278.6" r="5.3" fill="#525dc7"/>
<circle cx="600.5" cy="218.4" r="5.3" fill="#6359bd"/>
<circle cx="583.4" cy="90.6" r="5.3" fill="#525cc7"/>
<circle cx="599.6" cy="247.2" r="5.3" fill="#505dc8"/>
<circle cx="591.2" cy="219.4" r="5.3" fill="#595bc3"/>
<circle cx="627.3" cy="217.5" r="5.3" fill="#485fcd"/>
<circle cx="555.3" cy="246.3" r="5.3" fill="#6559bc"/>
<circle cx="580.3" cy="104.2" r="5.3" fill="#5b5bc2"/>
<circle cx="578.5" cy="160.5" r="5.3" fill="#5e5ac0"/>
<circle cx="606.4" cy="248.7" r="5.3" fill="#4260d0"/>
<circle cx="688.3" cy="80.0" r="5.3" fill="#4260d0"/>
<circle cx="701.0" cy="162.3" r="5.3" fill="#4360cf"/>
<circle cx="672.1" cy="191.0" r="5.3" fill="#4260d0"/>
<circle cx="634.4" cy="192.9" r="5.3" fill="#4260d0"/>
<circle cx="614.1" cy="104.2" r="5.3" fill="#525dc7"/>
<circle cx="420.2" cy="276.4" r="5.3" fill="#7b54af"/>
<circle cx="673.6" cy="162.4" r="5.3" fill="#4d5eca"/>
<circle cx="599.4" cy="80.3" r="5.3" fill="#505dc8"/>
<circle cx="597.8" cy="191.7" r="5.3" fill="#555cc5"/>
<circle cx="373.4" cy="275.1" r="5.3" fill="#b04886"/>
<circle cx="572.5" cy="80.9" r="5.3" fill="#4b5ecb"/>
<circle cx="595.5" cy="161.0" r="5.3" fill="#4e5dc9"/>
<circle cx="611.8" cy="188.4" r="5.3" fill="#455fce"/>
<circle cx="509.7" cy="308.0" r="5.3" fill="#6a57b9"/>
<circle cx="362.5" cy="302.6" r="5.3" fill="#8a51a7"/>
<circle cx="694.5" cy="132.5" r="5.3" fill="#455fce"/>
<circle cx="630.9" cy="192.8" r="5.3" fill="#4b5ecb"/>
<circle cx="679.0" cy="80.6" r="5.3" fill="#4b5ecb"/>
<circle cx="646.8" cy="273.1" r="5.3" fill="#4b5ecb"/>
<circle cx="634.3" cy="273.2" r="5.3" fill="#4d5eca"/>
<circle cx="650.2" cy="247.4" r="5.3" fill="#4260d0"/>
<circle cx="587.7" cy="90.5" r="5.3" fill="#535cc6"/>
<circle cx="681.8" cy="132.6" r="5.3" fill="#465fce"/>
<circle cx="568.1" cy="80.5" r="5.3" fill="#535cc6"/>
<circle cx="653.0" cy="105.1" r="5.3" fill="#545cc6"/>
<circle cx="581.2" cy="80.6" r="5.3" fill="#525dc7"/>
<circle cx="611.6" cy="275.5" r="5.3" fill="#4e5dc9"/>
<circle cx="628.2" cy="159.1" r="5.3" fill="#535cc7"/>
<circle cx="593.9" cy="85.8" r="5.3" fill="#4d5eca"/>
<circle cx="580.0" cy="134.7" r="5.3" fill="#6a57b9"/>
<circle cx="545.1" cy="103.3" r="5.3" fill="#5c5ac1"/>
<circle cx="618.5" cy="135.3" r="5.3" fill="#455fce"/>
<circle cx="616.8" cy="189.8" r="5.3" fill="#585bc4"/>
<circle cx="620.1" cy="135.9" r="5.3" fill="#4b5ecb"/>
<circle cx="627.6" cy="132.8" r="5.3" fill="#515dc8"/>
<circle cx="494.5" cy="306.5" r="5.3" fill="#6d57b7"/>
<circle cx="674.9" cy="135.6" r="5.3" fill="#4260d0"/>
<circle cx="711.3" cy="219.4" r="5.3" fill="#5c5ac1"/>
<circle cx="635.4" cy="80.4" r="5.3" fill="#535cc6"/>
<circle cx="566.9" cy="105.8" r="5.3" fill="#5f5ac0"/>
<circle cx="672.4" cy="188.6" r="5.3" fill="#4260d0"/>
<circle cx="700.0" cy="217.0" r="5.3" fill="#4d5eca"/>
<circle cx="590.4" cy="190.9" r="5.3" fill="#aa498c"/>
<circle cx="599.7" cy="307.0" r="5.3" fill="#4260d0"/>
<circle cx="675.2" cy="160.1" r="5.3" fill="#465fcd"/>
<circle cx="596.3" cy="246.9" r="5.3" fill="#6758bb"/>
<circle cx="602.9" cy="90.7" r="5.3" fill="#485fcd"/>
<circle cx="591.6" cy="80.7" r="5.3" fill="#595bc3"/>
<circle cx="485.4" cy="275.3" r="5.3" fill="#5b5bc2"/>
<circle cx="417.0" cy="276.0" r="5.3" fill="#7056b6"/>
<circle cx="665.5" cy="192.5" r="5.3" fill="#4a5ecc"/>
<circle cx="679.6" cy="191.4" r="5.3" fill="#4260d0"/>
<circle cx="698.4" cy="80.6" r="5.3" fill="#4260d0"/>
<circle cx="670.5" cy="247.6" r="5.3" fill="#525dc7"/>
<circle cx="431.8" cy="275.8" r="5.3" fill="#6159be"/>
<circle cx="680.9" cy="217.6" r="5.3" fill="#4260d0"/>
<circle cx="567.1" cy="90.5" r="5.3" fill="#ca426c"/>
<circle cx="652.3" cy="187.2" r="5.3" fill="#485fcd"/>
<circle cx="645.9" cy="305.1" r="5.3" fill="#4260d0"/>
<circle cx="617.9" cy="219.1" r="5.3" fill="#485fcd"/>
<circle cx="667.1" cy="104.9" r="5.3" fill="#495fcc"/>
<circle cx="546.6" cy="247.2" r="5.3" fill="#6259be"/>
<circle cx="689.6" cy="217.4" r="5.3" fill="#465fcd"/>
<circle cx="583.2" cy="79.9" r="5.3" fill="#595bc3"/>
<circle cx="622.1" cy="275.1" r="5.3" fill="#6658bb"/>
<circle cx="677.1" cy="161.4" r="5.3" fill="#485fcd"/>
<circle cx="702.9" cy="86.6" r="5.3" fill="#495ecc"/>
<circle cx="481.3" cy="306.5" r="5.3" fill="#7455b3"/>
<circle cx="544.1" cy="91.3" r="5.3" fill="#6858ba"/>
<circle cx="588.7" cy="274.6" r="5.3" fill="#525dc7"/>
<circle cx="714.0" cy="104.0" r="5.3" fill="#4b5ecb"/>
<circle cx="686.8" cy="189.6" r="5.3" fill="#4c5eca"/>
<circle cx="549.5" cy="79.9" r="5.3" fill="#6e57b7"/>
<circle cx="620.4" cy="304.1" r="5.3" fill="#4e5ec9"/>
<circle cx="699.7" cy="134.8" r="5.3" fill="#4e5dc9"/>
<circle cx="653.7" cy="87.2" r="5.3" fill="#515dc7"/>
<circle cx="690.2" cy="104.8" r="5.3" fill="#4260d0"/>
<circle cx="640.8" cy="132.1" r="5.3" fill="#455fce"/>
<circle cx="497.0" cy="275.7" r="5.3" fill="#5d5ac1"/>
<circle cx="578.3" cy="131.9" r="5.3" fill="#6758bb"/>
<circle cx="568.9" cy="219.1" r="5.3" fill="#6359bd"/>
<circle cx="693.5" cy="90.8" r="5.3" fill="#4360d0"/>
<circle cx="696.6" cy="81.0" r="5.3" fill="#4260d0"/>
<circle cx="699.3" cy="133.1" r="5.3" fill="#475fcd"/>
<circle cx="555.3" cy="218.9" r="5.3" fill="#6259be"/>
<circle cx="617.2" cy="135.7" r="5.3" fill="#535cc7"/>
<circle cx="622.4" cy="79.5" r="5.3" fill="#4a5ecb"/>
<circle cx="710.9" cy="190.2" r="5.3" fill="#455fce"/>
<circle cx="661.4" cy="218.3" r="5.3" fill="#485fcc"/>
<circle cx="496.6" cy="246.6" r="5.3" fill="#6159be"/>
<circle cx="634.1" cy="79.9" r="5.3" fill="#4260d0"/>
<circle cx="573.8" cy="88.3" r="5.3" fill="#6a57b9"/>
<circle cx="680.2" cy="133.6" r="5.3" fill="#475fcd"/>
<circle cx="587.5" cy="83.4" r="5.3" fill="#5a5bc2"/>
<circle cx="674.9" cy="135.6" r="5.3" fill="#4260d0"/>
<circle cx="608.5" cy="280.6" r="5.3" fill="#535cc6"/>
<circle cx="636.9" cy="220.0" r="5.3" fill="#5e5ac0"/>
<circle cx="655.4" cy="247.3" r="5.3" fill="#4460cf"/>
<circle cx="605.7" cy="134.1" r="5.3" fill="#5a5bc2"/>
<circle cx="600.1" cy="80.6" r="5.3" fill="#4f5dc8"/>
<circle cx="545.8" cy="103.1" r="5.3" fill="#6359bd"/>
<circle cx="616.5" cy="220.2" r="5.3" fill="#475fcd"/>
<circle cx="561.5" cy="251.2" r="5.3" fill="#5c5ac1"/>
<circle cx="695.1" cy="246.3" r="5.3" fill="#4260d0"/>
<circle cx="530.6" cy="247.2" r="5.3" fill="#5f5abf"/>
<circle cx="588.5" cy="275.5" r="5.3" fill="#4260d0"/>
<circle cx="598.8" cy="91.6" r="5.3" fill="#4260d0"/>
<circle cx="630.2" cy="188.9" r="5.3" fill="#4b5ecb"/>
<circle cx="675.3" cy="131.3" r="5.3" fill="#485fcc"/>
<circle cx="649.9" cy="218.1" r="5.3" fill="#4260d0"/>
<circle cx="601.1" cy="186.8" r="5.3" fill="#4360d0"/>
<circle cx="683.9" cy="164.2" r="5.3" fill="#455fce"/>
<circle cx="624.4" cy="159.4" r="5.3" fill="#4260d0"/>
<circle cx="685.0" cy="79.9" r="5.3" fill="#475fcd"/>
<circle cx="612.8" cy="218.9" r="5.3" fill="#455fce"/>
<circle cx="621.6" cy="216.6" r="5.3" fill="#485fcd"/>
<circle cx="587.8" cy="214.9" r="5.3" fill="#4d5eca"/>
<circle cx="555.2" cy="302.5" r="5.3" fill="#4c5eca"/>
<circle cx="612.7" cy="90.7" r="5.3" fill="#465fce"/>
<circle cx="626.6" cy="102.5" r="5.3" fill="#515dc7"/>
<circle cx="665.7" cy="217.8" r="5.3" fill="#4260d0"/>
<circle cx="648.4" cy="189.3" r="5.3" fill="#4260d0"/>
<circle cx="613.4" cy="273.9" r="5.3" fill="#4260d0"/>
<circle cx="536.8" cy="277.9" r="5.3" fill="#bc467a"/>
<circle cx="587.9" cy="160.2" r="5.3" fill="#525cc7"/>
<circle cx="613.5" cy="276.1" r="5.3" fill="#555cc5"/>
<circle cx="638.7" cy="274.3" r="5.3" fill="#455fce"/>
<circle cx="446.9" cy="304.3" r="5.3" fill="#7854b1"/>
<circle cx="540.2" cy="303.4" r="5.3" fill="#6658bc"/>
<circle cx="436.9" cy="301.4" r="5.3" fill="#525dc7"/>
<circle cx="623.9" cy="80.2" r="5.3" fill="#495ecc"/>
<circle cx="698.4" cy="91.2" r="5.3" fill="#485fcc"/>
<circle cx="549.9" cy="306.1" r="5.3" fill="#4460cf"/>
<circle cx="647.6" cy="218.8" r="5.3" fill="#4260d0"/>
<circle cx="600.7" cy="132.4" r="5.3" fill="#4360d0"/>
<circle cx="615.6" cy="87.8" r="5.3" fill="#525dc7"/>
<circle cx="492.8" cy="243.5" r="5.3" fill="#4e5dc9"/>
<circle cx="623.1" cy="189.9" r="5.3" fill="#4a5ecb"/>
<circle cx="608.2" cy="190.1" r="5.3" fill="#4a5ecb"/>
<circle cx="589.4" cy="219.3" r="5.3" fill="#525dc7"/>
<circle cx="513.7" cy="242.6" r="5.3" fill="#4b5ecb"/>
<circle cx="502.0" cy="276.5" r="5.3" fill="#4b5ecb"/>
<circle cx="632.1" cy="161.8" r="5.3" fill="#4e5ec9"/>
<circle cx="590.9" cy="85.8" r="5.3" fill="#6359bd"/>
<circle cx="710.0" cy="188.5" r="5.3" fill="#4260d0"/>
<circle cx="636.6" cy="218.7" r="5.3" fill="#4b5ecb"/>
<circle cx="554.6" cy="273.3" r="5.3" fill="#475fcd"/>
<circle cx="631.5" cy="133.9" r="5.3" fill="#4a5ecb"/>
<circle cx="697.4" cy="89.9" r="5.3" fill="#4360cf"/>
<circle cx="676.9" cy="84.9" r="5.3" fill="#4360d0"/>
<circle cx="705.4" cy="159.0" r="5.3" fill="#475fcd"/>
<circle cx="686.4" cy="245.5" r="5.3" fill="#4b5ecb"/>
<circle cx="639.2" cy="105.1" r="5.3" fill="#4260d0"/>
<circle cx="580.2" cy="84.9" r="5.3" fill="#4b5ecb"/>
<circle cx="580.3" cy="104.1" r="5.3" fill="#525dc7"/>
<circle cx="503.5" cy="305.1" r="5.3" fill="#505dc8"/>
<circle cx="501.9" cy="278.7" r="5.3" fill="#5d5ac1"/>
<circle cx="372.6" cy="303.1" r="5.3" fill="#7c54af"/>
<circle cx="650.0" cy="90.8" r="5.3" fill="#4260d0"/>
<circle cx="407.4" cy="305.0" r="5.3" fill="#6658bc"/>
<circle cx="677.2" cy="82.0" r="5.3" fill="#4260d0"/>
<circle cx="650.3" cy="132.3" r="5.3" fill="#475fcd"/>
<circle cx="680.2" cy="80.0" r="5.3" fill="#4a5ecb"/>
<circle cx="575.1" cy="302.9" r="5.3" fill="#6259be"/>
<circle cx="708.6" cy="79.8" r="5.3" fill="#495ecc"/>
<circle cx="570.0" cy="280.0" r="5.3" fill="#575cc4"/>
<circle cx="680.6" cy="90.2" r="5.3" fill="#4d5eca"/>
<circle cx="578.6" cy="131.9" r="5.3" fill="#545cc6"/>
<circle cx="634.3" cy="86.1" r="5.3" fill="#455fce"/>
<circle cx="690.9" cy="218.7" r="5.3" fill="#4260d0"/>
<circle cx="629.6" cy="245.0" r="5.3" fill="#565cc5"/>
<circle cx="611.9" cy="248.2" r="5.3" fill="#4e5dc9"/>
<circle cx="681.0" cy="219.7" r="5.3" fill="#4e5dc9"/>
<circle cx="702.1" cy="191.6" r="5.3" fill="#485fcd"/>
<circle cx="686.1" cy="102.8" r="5.3" fill="#4c5ecb"/>
<circle cx="555.6" cy="302.0" r="5.3" fill="#6a58b9"/>
<circle cx="647.2" cy="157.9" r="5.3" fill="#4f5dc9"/>
<circle cx="621.9" cy="79.5" r="5.3" fill="#4c5ecb"/>
<circle cx="689.7" cy="191.5" r="5.3" fill="#4f5dc9"/>
<circle cx="633.4" cy="90.8" r="5.3" fill="#575bc4"/>
<circle cx="705.6" cy="106.8" r="5.3" fill="#4260d0"/>
<circle cx="583.3" cy="222.5" r="5.3" fill="#555cc5"/>
<circle cx="614.8" cy="89.4" r="5.3" fill="#535cc6"/>
<circle cx="654.1" cy="275.7" r="5.3" fill="#475fcd"/>
<circle cx="423.8" cy="274.9" r="5.3" fill="#c24474"/>
<circle cx="345.8" cy="276.5" r="5.3" fill="#e43447"/>
<circle cx="636.1" cy="106.4" r="5.3" fill="#4360cf"/>
<circle cx="576.8" cy="301.8" r="5.3" fill="#5e5ac0"/>
<circle cx="510.8" cy="302.9" r="5.3" fill="#6658bb"/>
<circle cx="643.0" cy="272.3" r="5.3" fill="#465fce"/>
<circle cx="650.8" cy="80.4" r="5.3" fill="#4260d0"/>
<circle cx="389.6" cy="277.4" r="5.3" fill="#8152ac"/>
<circle cx="597.6" cy="133.3" r="5.3" fill="#495ecc"/>
<circle cx="665.7" cy="80.6" r="5.3" fill="#485fcd"/>
<circle cx="662.4" cy="191.8" r="5.3" fill="#4260d0"/>
<circle cx="538.4" cy="243.5" r="5.3" fill="#6c57b8"/>
<circle cx="647.2" cy="133.6" r="5.3" fill="#4360d0"/>
<circle cx="572.2" cy="245.6" r="5.3" fill="#535cc6"/>
<circle cx="504.6" cy="306.8" r="5.3" fill="#6359bd"/>
<circle cx="659.5" cy="244.4" r="5.3" fill="#4460cf"/>
<circle cx="683.1" cy="247.6" r="5.3" fill="#4460cf"/>
<circle cx="592.0" cy="246.0" r="5.3" fill="#515dc7"/>
<circle cx="683.6" cy="102.7" r="5.3" fill="#4f5dc9"/>
<circle cx="615.0" cy="91.1" r="5.3" fill="#565cc5"/>
<circle cx="706.7" cy="220.5" r="5.3" fill="#4360cf"/>
<circle cx="573.0" cy="79.7" r="5.3" fill="#5d5ac0"/>
<circle cx="529.2" cy="245.7" r="5.3" fill="#6858ba"/>
<circle cx="709.6" cy="106.4" r="5.3" fill="#4260d0"/>
<circle cx="654.7" cy="277.7" r="5.3" fill="#455fcf"/>
<circle cx="684.2" cy="106.5" r="5.3" fill="#4260d0"/>
<circle cx="593.2" cy="189.7" r="5.3" fill="#4260d0"/>
<circle cx="589.9" cy="186.9" r="5.3" fill="#6359bd"/>
<circle cx="637.9" cy="305.6" r="5.3" fill="#4260d0"/>
<circle cx="604.9" cy="162.2" r="5.3" fill="#485fcc"/>
<circle cx="637.5" cy="219.2" r="5.3" fill="#455fce"/>
<circle cx="646.6" cy="134.3" r="5.3" fill="#4360d0"/>
<circle cx="505.4" cy="273.5" r="5.3" fill="#5b5bc2"/>
<circle cx="725.0" cy="189.7" r="5.3" fill="#4b5ecb"/>
<circle cx="672.4" cy="107.4" r="5.3" fill="#4b5ecb"/>
<circle cx="618.4" cy="91.7" r="5.3" fill="#4d5eca"/>
<circle cx="664.1" cy="80.0" r="5.3" fill="#4260d0"/>
<circle cx="607.6" cy="105.7" r="5.3" fill="#4c5eca"/>
<circle cx="577.3" cy="130.5" r="5.3" fill="#4f5dc9"/>
<circle cx="643.1" cy="275.5" r="5.3" fill="#4b5ecb"/>
<circle cx="644.2" cy="273.5" r="5.3" fill="#465fce"/>
<circle cx="695.4" cy="106.5" r="5.3" fill="#4b5ecb"/>
<circle cx="626.6" cy="133.8" r="5.3" fill="#465fce"/>
<circle cx="365.1" cy="305.0" r="5.3" fill="#e2354a"/>
<circle cx="516.5" cy="303.9" r="5.3" fill="#605abf"/>
<circle cx="648.9" cy="131.9" r="5.3" fill="#4260d0"/>
<circle cx="385.4" cy="303.4" r="5.3" fill="#7156b5"/>
<circle cx="677.3" cy="136.5" r="5.3" fill="#475fcd"/>
<circle cx="695.7" cy="247.1" r="5.3" fill="#465fce"/>
<circle cx="552.5" cy="80.1" r="5.3" fill="#5d5ac0"/>
<circle cx="575.8" cy="80.3" r="5.3" fill="#5d5ac0"/>
<circle cx="539.4" cy="105.0" r="5.3" fill="#595bc3"/>
<circle cx="553.9" cy="246.6" r="5.3" fill="#535cc6"/>
<circle cx="637.4" cy="92.1" r="5.3" fill="#475fcd"/>
<circle cx="576.9" cy="80.6" r="5.3" fill="#4260d0"/>
<circle cx="499.9" cy="273.8" r="5.3" fill="#445fcf"/>
<circle cx="659.4" cy="220.0" r="5.3" fill="#4260d0"/>
<circle cx="723.6" cy="189.1" r="5.3" fill="#455fcf"/>
<circle cx="720.8" cy="188.4" r="5.3" fill="#545cc6"/>
<circle cx="491.1" cy="305.8" r="5.3" fill="#7156b5"/>
<circle cx="687.2" cy="161.2" r="5.3" fill="#4360d0"/>
<circle cx="609.6" cy="105.4" r="5.3" fill="#545cc6"/>
<circle cx="603.5" cy="80.2" r="5.3" fill="#4e5dc9"/>
<circle cx="686.8" cy="188.4" r="5.3" fill="#4260d0"/>
<circle cx="626.3" cy="219.8" r="5.3" fill="#565cc4"/>
<circle cx="600.7" cy="162.1" r="5.3" fill="#535cc6"/>
<circle cx="658.9" cy="191.1" r="5.3" fill="#4260d0"/>
<circle cx="560.6" cy="247.8" r="5.3" fill="#5d5ac0"/>
<circle cx="664.9" cy="219.2" r="5.3" fill="#4e5ec9"/>
<circle cx="492.7" cy="279.9" r="5.3" fill="#6559bc"/>
<circle cx="580.7" cy="276.1" r="5.3" fill="#545cc5"/>
<circle cx="665.7" cy="81.1" r="5.3" fill="#4260d0"/>
<circle cx="583.9" cy="306.1" r="5.3" fill="#515dc8"/>
<circle cx="509.1" cy="276.8" r="5.3" fill="#7d53af"/>
<circle cx="553.0" cy="244.2" r="5.3" fill="#555cc5"/>
<circle cx="687.5" cy="190.0" r="5.3" fill="#4c5eca"/>
<circle cx="583.5" cy="303.9" r="5.3" fill="#4260d0"/>
<circle cx="707.8" cy="161.1" r="5.3" fill="#475fcd"/>
<circle cx="585.1" cy="90.4" r="5.3" fill="#465fce"/>
<circle cx="601.9" cy="192.1" r="5.3" fill="#575bc4"/>
<circle cx="627.1" cy="79.9" r="5.3" fill="#4360cf"/>
<circle cx="695.1" cy="79.5" r="5.3" fill="#535cc6"/>
<circle cx="591.9" cy="130.5" r="5.3" fill="#525cc7"/>
<circle cx="679.0" cy="276.0" r="5.3" fill="#4c5eca"/>
<circle cx="585.8" cy="216.4" r="5.3" fill="#505dc8"/>
<circle cx="594.7" cy="277.1" r="5.3" fill="#595bc3"/>
<circle cx="690.4" cy="88.2" r="5.3" fill="#475fcd"/>
<circle cx="682.8" cy="189.5" r="5.3" fill="#4a5ecb"/>
<circle cx="614.0" cy="274.6" r="5.3" fill="#475fcd"/>
<circle cx="444.7" cy="305.8" r="5.3" fill="#c64370"/>
<circle cx="709.6" cy="217.1" r="5.3" fill="#4260d0"/>
<circle cx="632.9" cy="301.2" r="5.3" fill="#4b5ecb"/>
<circle cx="696.6" cy="90.2" r="5.3" fill="#4e5dc9"/>
<circle cx="629.8" cy="192.1" r="5.3" fill="#4260d0"/>
<circle cx="630.7" cy="107.0" r="5.3" fill="#4b5ecb"/>
<circle cx="535.4" cy="308.7" r="5.3" fill="#5f5abf"/>
<circle cx="662.1" cy="189.7" r="5.3" fill="#4260d0"/>
<circle cx="559.3" cy="218.6" r="5.3" fill="#6d57b7"/>
<circle cx="598.6" cy="218.8" r="5.3" fill="#5c5ac1"/>
<circle cx="702.3" cy="191.2" r="5.3" fill="#4a5ecb"/>
<circle cx="647.5" cy="245.1" r="5.3" fill="#465fce"/>
<circle cx="647.5" cy="244.4" r="5.3" fill="#485fcd"/>
<circle cx="683.2" cy="159.8" r="5.3" fill="#485fcc"/>
<circle cx="570.6" cy="306.6" r="5.3" fill="#5e5ac0"/>
<circle cx="590.8" cy="90.8" r="5.3" fill="#485fcd"/>
<circle cx="492.9" cy="307.3" r="5.3" fill="#5f5abf"/>
<circle cx="554.7" cy="80.1" r="5.3" fill="#6459bd"/>
<circle cx="596.0" cy="79.7" r="5.3" fill="#4260d0"/>
<circle cx="701.7" cy="80.7" r="5.3" fill="#4360cf"/>
<circle cx="653.3" cy="190.8" r="5.3" fill="#4d5eca"/>
<circle cx="667.7" cy="215.5" r="5.3" fill="#465fce"/>
<circle cx="619.5" cy="80.3" r="5.3" fill="#585bc4"/>
<circle cx="597.3" cy="90.7" r="5.3" fill="#4f5dc8"/>
<circle cx="612.2" cy="247.3" r="5.3" fill="#515dc8"/>
<circle cx="589.4" cy="80.2" r="5.3" fill="#5c5bc1"/>
<circle cx="633.8" cy="80.0" r="5.3" fill="#4360cf"/>
<circle cx="627.7" cy="88.4" r="5.3" fill="#4d5eca"/>
<circle cx="507.1" cy="276.4" r="5.3" fill="#485fcc"/>
<circle cx="675.9" cy="79.9" r="5.3" fill="#4c5eca"/>
<circle cx="623.3" cy="305.8" r="5.3" fill="#4260d0"/>
<circle cx="621.2" cy="186.7" r="5.3" fill="#585bc3"/>
<circle cx="621.6" cy="156.7" r="5.3" fill="#515dc7"/>
<circle cx="546.2" cy="249.0" r="5.3" fill="#535cc6"/>
<circle cx="559.0" cy="79.5" r="5.3" fill="#575bc4"/>
<circle cx="667.0" cy="91.1" r="5.3" fill="#4260d0"/>
<circle cx="550.5" cy="248.5" r="5.3" fill="#6a57b9"/>
<circle cx="617.8" cy="107.2" r="5.3" fill="#495ecc"/>
<circle cx="677.8" cy="80.4" r="5.3" fill="#455fce"/>
<circle cx="682.0" cy="131.2" r="5.3" fill="#4c5eca"/>
<circle cx="626.8" cy="91.6" r="5.3" fill="#485fcd"/>
<circle cx="629.7" cy="217.4" r="5.3" fill="#4d5eca"/>
<circle cx="566.9" cy="80.6" r="5.3" fill="#4e5dc9"/>
<circle cx="411.8" cy="307.7" r="5.3" fill="#c8436e"/>
<circle cx="604.4" cy="217.9" r="5.3" fill="#5a5bc2"/>
<circle cx="376.2" cy="277.5" r="5.3" fill="#a04c96"/>
<circle cx="673.7" cy="103.9" r="5.3" fill="#4260d0"/>
<circle cx="426.7" cy="304.5" r="5.3" fill="#7555b3"/>
<circle cx="561.6" cy="275.9" r="5.3" fill="#4f5dc8"/>
<circle cx="360.3" cy="304.4" r="5.3" fill="#7f53ad"/>
<circle cx="538.8" cy="274.0" r="5.3" fill="#5e5ac0"/>
<circle cx="608.7" cy="188.2" r="5.3" fill="#4260d0"/>
<circle cx="579.8" cy="134.6" r="5.3" fill="#5d5ac1"/>
<circle cx="646.7" cy="217.0" r="5.3" fill="#4260d0"/>
<circle cx="450.0" cy="276.0" r="5.3" fill="#6c57b8"/>
<circle cx="695.4" cy="134.3" r="5.3" fill="#4260d0"/>
<circle cx="662.7" cy="190.6" r="5.3" fill="#445fcf"/>
<circle cx="678.0" cy="84.6" r="5.3" fill="#555cc5"/>
<circle cx="542.4" cy="104.0" r="5.3" fill="#6d57b7"/>
<circle cx="709.0" cy="80.3" r="5.3" fill="#4260d0"/>
<circle cx="578.3" cy="160.0" r="5.3" fill="#5a5bc2"/>
<circle cx="680.5" cy="104.5" r="5.3" fill="#4260d0"/>
<circle cx="692.4" cy="134.3" r="5.3" fill="#4260d0"/>
<circle cx="441.5" cy="308.0" r="5.3" fill="#8153ac"/>
<circle cx="447.8" cy="305.1" r="5.3" fill="#7854b1"/>
<circle cx="660.9" cy="105.0" r="5.3" fill="#4260d0"/>
<circle cx="676.0" cy="89.6" r="5.3" fill="#475fcd"/>
<circle cx="673.2" cy="275.6" r="5.3" fill="#4260d0"/>
<circle cx="582.4" cy="135.4" r="5.3" fill="#535cc6"/>
<circle cx="507.8" cy="247.7" r="5.3" fill="#6559bc"/>
<circle cx="586.3" cy="163.8" r="5.3" fill="#505dc8"/>
<circle cx="594.3" cy="104.6" r="5.3" fill="#455fce"/>
<circle cx="585.6" cy="105.5" r="5.3" fill="#565cc5"/>
<circle cx="708.4" cy="107.3" r="5.3" fill="#4260d0"/>
<circle cx="525.4" cy="247.1" r="5.3" fill="#4a5ecb"/>
<circle cx="657.3" cy="135.6" r="5.3" fill="#4a5ecb"/>
<circle cx="557.4" cy="192.5" r="5.3" fill="#6f56b6"/>
<circle cx="522.9" cy="244.8" r="5.3" fill="#505dc8"/>
<circle cx="557.9" cy="250.1" r="5.3" fill="#6259bd"/>
<circle cx="563.0" cy="90.3" r="5.3" fill="#6858ba"/>
<circle cx="590.2" cy="248.2" r="5.3" fill="#575bc4"/>
<circle cx="658.8" cy="91.1" r="5.3" fill="#4260d0"/>
<circle cx="661.6" cy="247.8" r="5.3" fill="#455fce"/>
<circle cx="587.2" cy="277.1" r="5.3" fill="#4a5ecb"/>
<circle cx="543.0" cy="80.4" r="5.3" fill="#4260d0"/>
<circle cx="501.6" cy="274.5" r="5.3" fill="#4d5eca"/>
<circle cx="659.8" cy="162.2" r="5.3" fill="#455fce"/>
<circle cx="651.0" cy="105.2" r="5.3" fill="#4260d0"/>
<circle cx="551.5" cy="302.0" r="5.3" fill="#455fce"/>
<circle cx="535.0" cy="277.2" r="5.3" fill="#c44472"/>
<circle cx="605.7" cy="102.9" r="5.3" fill="#4460cf"/>
<circle cx="585.9" cy="246.9" r="5.3" fill="#4f5dc9"/>
<circle cx="659.6" cy="160.5" r="5.3" fill="#4c5eca"/>
<circle cx="645.3" cy="105.2" r="5.3" fill="#4a5ecb"/>
<circle cx="563.5" cy="81.3" r="5.3" fill="#535cc6"/>
<circle cx="549.7" cy="91.9" r="5.3" fill="#475fcd"/>
<circle cx="363.2" cy="276.7" r="5.3" fill="#a14b95"/>
<circle cx="666.8" cy="132.5" r="5.3" fill="#4c5eca"/>
<circle cx="614.8" cy="216.7" r="5.3" fill="#495fcc"/>
<circle cx="603.3" cy="92.0" r="5.3" fill="#545cc6"/>
<circle cx="349.1" cy="304.5" r="5.3" fill="#a34b93"/>
<circle cx="414.5" cy="305.0" r="5.3" fill="#7a54b0"/>
<circle cx="682.5" cy="188.3" r="5.3" fill="#465fce"/>
<circle cx="414.9" cy="302.5" r="5.3" fill="#6958ba"/>
<circle cx="609.2" cy="192.5" r="5.3" fill="#475fcd"/>
<circle cx="542.3" cy="245.9" r="5.3" fill="#565cc5"/>
<circle cx="636.9" cy="160.8" r="5.3" fill="#4d5eca"/>
<circle cx="601.1" cy="85.7" r="5.3" fill="#525dc7"/>
<circle cx="651.9" cy="91.1" r="5.3" fill="#495fcc"/>
<circle cx="542.3" cy="304.5" r="5.3" fill="#545cc5"/>
<circle cx="569.4" cy="280.3" r="5.3" fill="#4260d0"/>
<circle cx="654.9" cy="91.2" r="5.3" fill="#555cc5"/>
<circle cx="686.6" cy="103.1" r="5.3" fill="#4c5eca"/>
<circle cx="604.0" cy="163.3" r="5.3" fill="#4d5eca"/>
<circle cx="640.9" cy="160.3" r="5.3" fill="#4c5eca"/>
<circle cx="604.8" cy="245.3" r="5.3" fill="#515dc7"/>
<circle cx="600.7" cy="79.9" r="5.3" fill="#4d5eca"/>
<circle cx="564.8" cy="160.3" r="5.3" fill="#515dc8"/>
<circle cx="558.9" cy="219.8" r="5.3" fill="#5c5bc1"/>
<circle cx="621.2" cy="273.0" r="5.3" fill="#4e5dc9"/>
<circle cx="653.6" cy="275.3" r="5.3" fill="#4260d0"/>
<circle cx="608.5" cy="134.1" r="5.3" fill="#475fcd"/>
<circle cx="638.0" cy="132.5" r="5.3" fill="#605abf"/>
<circle cx="646.4" cy="91.2" r="5.3" fill="#505dc8"/>
<circle cx="661.4" cy="81.1" r="5.3" fill="#495fcc"/>
<circle cx="634.2" cy="106.3" r="5.3" fill="#475fcd"/>
<circle cx="676.7" cy="91.2" r="5.3" fill="#455fce"/>
<circle cx="660.8" cy="245.5" r="5.3" fill="#4b5ecb"/>
<circle cx="713.6" cy="187.6" r="5.3" fill="#4d5eca"/>
<circle cx="513.4" cy="272.8" r="5.3" fill="#6159be"/>
<circle cx="624.7" cy="192.6" r="5.3" fill="#4260d0"/>
<circle cx="683.8" cy="134.5" r="5.3" fill="#4d5eca"/>
<circle cx="698.9" cy="160.3" r="5.3" fill="#4e5dc9"/>
<circle cx="669.2" cy="80.3" r="5.3" fill="#505dc8"/>
<circle cx="611.2" cy="85.1" r="5.3" fill="#575cc4"/>
<circle cx="592.6" cy="277.8" r="5.3" fill="#575bc4"/>
<circle cx="647.7" cy="89.9" r="5.3" fill="#4460cf"/>
<circle cx="666.9" cy="193.5" r="5.3" fill="#475fcd"/>
<circle cx="444.1" cy="307.9" r="5.3" fill="#a44b92"/>
<circle cx="722.8" cy="158.8" r="5.3" fill="#545cc6"/>
<circle cx="647.0" cy="305.0" r="5.3" fill="#465fce"/>
<circle cx="431.3" cy="304.5" r="5.3" fill="#a04c96"/>
<circle cx="690.5" cy="103.8" r="5.3" fill="#4d5ec9"/>
<circle cx="663.3" cy="245.8" r="5.3" fill="#4260d0"/>
<circle cx="559.6" cy="89.6" r="5.3" fill="#4c5eca"/>
<circle cx="583.8" cy="277.4" r="5.3" fill="#4f5dc8"/>
<circle cx="611.1" cy="192.9" r="5.3" fill="#4260d0"/>
<circle cx="630.4" cy="105.4" r="5.3" fill="#4f5dc9"/>
<circle cx="668.4" cy="134.1" r="5.3" fill="#4360cf"/>
<circle cx="582.6" cy="219.7" r="5.3" fill="#465fce"/>
<circle cx="717.0" cy="218.5" r="5.3" fill="#4a5ecc"/>
<circle cx="647.1" cy="84.9" r="5.3" fill="#4b5ecb"/>
<circle cx="608.6" cy="160.4" r="5.3" fill="#525dc7"/>
<circle cx="690.5" cy="106.9" r="5.3" fill="#4360cf"/>
<circle cx="659.0" cy="133.1" r="5.3" fill="#4d5eca"/>
<circle cx="611.4" cy="135.4" r="5.3" fill="#585bc3"/>
<circle cx="541.1" cy="103.8" r="5.3" fill="#575cc4"/>
<circle cx="662.7" cy="219.5" r="5.3" fill="#4260d0"/>
<circle cx="564.2" cy="246.4" r="5.3" fill="#6459bd"/>
<circle cx="448.8" cy="276.0" r="5.3" fill="#9d4c99"/>
<circle cx="553.1" cy="80.2" r="5.3" fill="#4460cf"/>
<circle cx="590.5" cy="131.2" r="5.3" fill="#4260d0"/>
<circle cx="489.0" cy="247.0" r="5.3" fill="#6a57b9"/>
<circle cx="582.2" cy="162.7" r="5.3" fill="#495ecc"/>
<circle cx="582.3" cy="86.7" r="5.3" fill="#555cc5"/>
<circle cx="646.4" cy="91.0" r="5.3" fill="#525dc7"/>
<circle cx="576.2" cy="274.5" r="5.3" fill="#565cc4"/>
<circle cx="560.4" cy="80.6" r="5.3" fill="#6658bc"/>
<circle cx="636.6" cy="274.5" r="5.3" fill="#4260d0"/>
<circle cx="667.8" cy="84.7" r="5.3" fill="#485fcc"/>
<circle cx="619.9" cy="91.1" r="5.3" fill="#475fcd"/>
<circle cx="638.1" cy="131.1" r="5.3" fill="#4260d0"/>
<circle cx="685.1" cy="80.1" r="5.3" fill="#4260d0"/>
<circle cx="658.7" cy="221.4" r="5.3" fill="#595bc3"/>
<circle cx="537.6" cy="246.6" r="5.3" fill="#6758bb"/>
<circle cx="651.8" cy="219.0" r="5.3" fill="#495ecc"/>
<circle cx="345.0" cy="305.0" r="5.3" fill="#a24b94"/>
<circle cx="580.3" cy="106.0" r="5.3" fill="#5b5bc2"/>
<circle cx="362.1" cy="274.8" r="5.3" fill="#8152ac"/>
<circle cx="694.6" cy="79.6" r="5.3" fill="#515dc7"/>
<circle cx="649.9" cy="105.9" r="5.3" fill="#4360cf"/>
<circle cx="555.3" cy="103.4" r="5.3" fill="#6559bc"/>
<circle cx="716.6" cy="216.6" r="5.3" fill="#515dc8"/>
<circle cx="626.7" cy="304.9" r="5.3" fill="#4360cf"/>
<circle cx="600.8" cy="244.8" r="5.3" fill="#595bc3"/>
<circle cx="672.7" cy="277.6" r="5.3" fill="#4a5ecb"/>
<circle cx="599.3" cy="90.5" r="5.3" fill="#485fcd"/>
<circle cx="702.1" cy="161.8" r="5.3" fill="#515dc8"/>
<circle cx="664.3" cy="91.6" r="5.3" fill="#505dc8"/>
<circle cx="490.2" cy="277.9" r="5.3" fill="#575bc4"/>
<circle cx="609.5" cy="219.3" r="5.3" fill="#4b5ecb"/>
<circle cx="575.8" cy="161.3" r="5.3" fill="#4a5ecb"/>
<circle cx="645.3" cy="86.7" r="5.3" fill="#4e5ec9"/>
<circle cx="622.5" cy="80.0" r="5.3" fill="#595bc3"/>
<circle cx="473.9" cy="305.0" r="5.3" fill="#6858ba"/>
<circle cx="416.9" cy="304.8" r="5.3" fill="#6d57b7"/>
<circle cx="600.8" cy="220.0" r="5.3" fill="#575bc4"/>
<circle cx="689.2" cy="217.0" r="5.3" fill="#475fcd"/>
<circle cx="643.3" cy="131.9" r="5.3" fill="#455fcf"/>
<circle cx="595.2" cy="304.4" r="5.3" fill="#575bc4"/>
<circle cx="694.2" cy="87.6" r="5.3" fill="#4f5dc9"/>
<circle cx="683.7" cy="90.0" r="5.3" fill="#4360d0"/>
<circle cx="667.2" cy="186.8" r="5.3" fill="#465fce"/>
<circle cx="689.3" cy="190.6" r="5.3" fill="#4360cf"/>
<circle cx="577.2" cy="137.1" r="5.3" fill="#495ecc"/>
<circle cx="564.7" cy="221.6" r="5.3" fill="#4460cf"/>
<circle cx="650.4" cy="81.2" r="5.3" fill="#485fcd"/>
<circle cx="539.6" cy="271.9" r="5.3" fill="#535cc6"/>
<circle cx="579.1" cy="80.1" r="5.3" fill="#4f5dc9"/>
<circle cx="585.3" cy="187.4" r="5.3" fill="#6e57b7"/>
<circle cx="623.4" cy="86.9" r="5.3" fill="#4360d0"/>
<circle cx="498.3" cy="247.7" r="5.3" fill="#575cc4"/>
<circle cx="375.1" cy="272.3" r="5.3" fill="#a94a8d"/>
<circle cx="557.8" cy="246.6" r="5.3" fill="#505dc8"/>
<circle cx="688.8" cy="132.1" r="5.3" fill="#4260d0"/>
<circle cx="553.0" cy="190.5" r="5.3" fill="#5c5bc1"/>
<circle cx="355.0" cy="275.5" r="5.3" fill="#7d53ae"/>
<circle cx="570.0" cy="245.2" r="5.3" fill="#4e5dc9"/>
<circle cx="689.9" cy="83.0" r="5.3" fill="#495fcc"/>
<circle cx="649.7" cy="80.5" r="5.3" fill="#455fce"/>
<circle cx="552.9" cy="305.6" r="5.3" fill="#7156b5"/>
<circle cx="554.6" cy="103.7" r="5.3" fill="#5d5ac1"/>
<circle cx="583.7" cy="105.2" r="5.3" fill="#5e5ac0"/>
<circle cx="525.0" cy="303.0" r="5.3" fill="#475fcd"/>
<circle cx="632.1" cy="244.9" r="5.3" fill="#475fcd"/>
<circle cx="702.8" cy="90.2" r="5.3" fill="#485fcd"/>
<circle cx="522.7" cy="305.6" r="5.3" fill="#6159bf"/>
<circle cx="531.4" cy="303.5" r="5.3" fill="#515dc8"/>
<circle cx="689.0" cy="249.3" r="5.3" fill="#4260d0"/>
<circle cx="587.3" cy="221.3" r="5.3" fill="#4d5ec9"/>
<circle cx="453.0" cy="305.0" r="5.3" fill="#b64780"/>
<circle cx="570.3" cy="218.1" r="5.3" fill="#4460cf"/>
<circle cx="550.4" cy="304.7" r="5.3" fill="#5a5bc3"/>
<circle cx="658.1" cy="162.2" r="5.3" fill="#4260d0"/>
<circle cx="655.2" cy="80.1" r="5.3" fill="#4260d0"/>
<circle cx="639.8" cy="247.2" r="5.3" fill="#525dc7"/>
<circle cx="584.9" cy="136.5" r="5.3" fill="#4e5ec9"/>
<circle cx="593.9" cy="277.5" r="5.3" fill="#575bc4"/>
<circle cx="659.5" cy="132.0" r="5.3" fill="#4260d0"/>
<circle cx="569.8" cy="220.4" r="5.3" fill="#5c5ac1"/>
<circle cx="638.3" cy="304.9" r="5.3" fill="#575cc4"/>
<circle cx="449.5" cy="304.8" r="5.3" fill="#8652a9"/>
<circle cx="602.7" cy="162.3" r="5.3" fill="#4e5dc9"/>
<circle cx="665.1" cy="190.0" r="5.3" fill="#485fcc"/>
<circle cx="578.5" cy="104.0" r="5.3" fill="#6e57b7"/>
<circle cx="695.5" cy="218.6" r="5.3" fill="#4260d0"/>
<circle cx="391.0" cy="276.0" r="5.3" fill="#934fa2"/>
<circle cx="688.7" cy="134.4" r="5.3" fill="#4f5dc9"/>
<circle cx="693.2" cy="192.1" r="5.3" fill="#465fcd"/>
<circle cx="382.9" cy="301.9" r="5.3" fill="#8053ad"/>
<circle cx="717.5" cy="187.6" r="5.3" fill="#4c5eca"/>
<circle cx="633.2" cy="80.9" r="5.3" fill="#485fcc"/>
<circle cx="675.1" cy="190.3" r="5.3" fill="#455fce"/>
<circle cx="664.5" cy="132.9" r="5.3" fill="#4b5ecb"/>
<circle cx="561.3" cy="191.9" r="5.3" fill="#565cc5"/>
<circle cx="661.5" cy="160.4" r="5.3" fill="#4260d0"/>
<circle cx="563.7" cy="91.1" r="5.3" fill="#585bc4"/>
<circle cx="682.6" cy="217.0" r="5.3" fill="#465fce"/>
<circle cx="616.1" cy="250.2" r="5.3" fill="#4260d0"/>
<circle cx="685.8" cy="90.7" r="5.3" fill="#4360d0"/>
<circle cx="590.7" cy="132.6" r="5.3" fill="#4e5dc9"/>
<circle cx="704.3" cy="80.2" r="5.3" fill="#475fcd"/>
<circle cx="621.8" cy="80.7" r="5.3" fill="#5b5bc2"/>
<circle cx="636.5" cy="247.9" r="5.3" fill="#575cc4"/>
<circle cx="620.5" cy="219.9" r="5.3" fill="#4e5dc9"/>
<circle cx="653.3" cy="189.6" r="5.3" fill="#4260d0"/>
<circle cx="602.2" cy="80.2" r="5.3" fill="#e0364d"/>
<circle cx="633.0" cy="131.4" r="5.3" fill="#4e5ec9"/>
<circle cx="621.8" cy="80.2" r="5.3" fill="#4260d0"/>
<circle cx="652.1" cy="216.1" r="5.3" fill="#4460cf"/>
<circle cx="571.7" cy="219.8" r="5.3" fill="#545cc6"/>
<circle cx="569.4" cy="215.9" r="5.3" fill="#535cc6"/>
<circle cx="495.2" cy="278.0" r="5.3" fill="#9f4c97"/>
<circle cx="613.5" cy="80.4" r="5.3" fill="#525dc7"/>
<circle cx="616.8" cy="192.6" r="5.3" fill="#485fcd"/>
<circle cx="686.3" cy="80.2" r="5.3" fill="#4c5eca"/>
<circle cx="625.1" cy="217.5" r="5.3" fill="#545cc6"/>
<circle cx="675.4" cy="80.3" r="5.3" fill="#4f5dc9"/>
<circle cx="512.2" cy="249.1" r="5.3" fill="#7156b5"/>
<circle cx="540.8" cy="244.6" r="5.3" fill="#8f50a4"/>
<circle cx="351.3" cy="307.5" r="5.3" fill="#495ecc"/>
<circle cx="599.4" cy="160.1" r="5.3" fill="#5a5bc2"/>
<circle cx="701.5" cy="194.1" r="5.3" fill="#4260d0"/>
<circle cx="543.8" cy="80.3" r="5.3" fill="#545cc6"/>
<circle cx="671.1" cy="279.0" r="5.3" fill="#495ecc"/>
<circle cx="594.6" cy="191.6" r="5.3" fill="#4c5ecb"/>
<circle cx="676.6" cy="245.9" r="5.3" fill="#4f5dc9"/>
<circle cx="702.7" cy="84.2" r="5.3" fill="#475fcd"/>
<circle cx="647.8" cy="89.9" r="5.3" fill="#4f5dc9"/>
<circle cx="695.6" cy="92.0" r="5.3" fill="#455fce"/>
<circle cx="573.0" cy="87.1" r="5.3" fill="#4460cf"/>
<circle cx="589.0" cy="80.2" r="5.3" fill="#605abf"/>
<circle cx="648.2" cy="105.3" r="5.3" fill="#4460cf"/>
<circle cx="624.9" cy="278.6" r="5.3" fill="#485fcc"/>
<circle cx="686.6" cy="133.2" r="5.3" fill="#4e5dc9"/>
<circle cx="699.6" cy="221.1" r="5.3" fill="#4260d0"/>
<circle cx="594.6" cy="103.3" r="5.3" fill="#525dc7"/>
<circle cx="651.9" cy="215.5" r="5.3" fill="#525dc7"/>
<circle cx="650.9" cy="90.8" r="5.3" fill="#495fcc"/>
<circle cx="658.7" cy="133.0" r="5.3" fill="#4260d0"/>
<circle cx="585.5" cy="192.1" r="5.3" fill="#595bc3"/>
<circle cx="547.5" cy="245.3" r="5.3" fill="#455fcf"/>
<circle cx="588.9" cy="160.4" r="5.3" fill="#515dc8"/>
<circle cx="692.9" cy="161.4" r="5.3" fill="#515dc7"/>
<circle cx="560.9" cy="246.0" r="5.3" fill="#4b5ecb"/>
<circle cx="679.2" cy="79.3" r="5.3" fill="#485fcd"/>
<circle cx="417.7" cy="304.7" r="5.3" fill="#b7477f"/>
<circle cx="403.1" cy="304.8" r="5.3" fill="#8f4fa4"/>
<circle cx="690.4" cy="105.7" r="5.3" fill="#4a5ecc"/>
<circle cx="642.0" cy="247.5" r="5.3" fill="#455fcf"/>
<circle cx="580.2" cy="219.1" r="5.3" fill="#595bc3"/>
<circle cx="595.2" cy="162.8" r="5.3" fill="#4260d0"/>
<circle cx="586.4" cy="161.3" r="5.3" fill="#5f5abf"/>
<circle cx="550.5" cy="103.7" r="5.3" fill="#6b57b9"/>
<circle cx="683.8" cy="191.6" r="5.3" fill="#4360cf"/>
<circle cx="694.3" cy="80.7" r="5.3" fill="#475fcd"/>
<circle cx="641.5" cy="246.1" r="5.3" fill="#4b5ecb"/>
<circle cx="607.2" cy="80.3" r="5.3" fill="#4460cf"/>
<circle cx="580.1" cy="80.1" r="5.3" fill="#495ecc"/>
<circle cx="652.8" cy="276.6" r="5.3" fill="#495fcc"/>
<circle cx="418.4" cy="305.9" r="5.3" fill="#7e53ad"/>
<circle cx="639.9" cy="81.9" r="5.3" fill="#4260d0"/>
<circle cx="652.1" cy="90.1" r="5.3" fill="#455fce"/>
<circle cx="355.1" cy="275.7" r="5.3" fill="#944ea1"/>
<circle cx="576.4" cy="90.6" r="5.3" fill="#585bc3"/>
<circle cx="614.1" cy="134.1" r="5.3" fill="#515dc8"/>
<circle cx="633.9" cy="244.2" r="5.3" fill="#4260d0"/>
<circle cx="725.4" cy="193.4" r="5.3" fill="#565cc4"/>
<circle cx="590.2" cy="306.3" r="5.3" fill="#575cc4"/>
<circle cx="352.9" cy="304.5" r="5.3" fill="#bd4579"/>
<circle cx="584.2" cy="80.7" r="5.3" fill="#6e57b7"/>
<circle cx="596.1" cy="90.1" r="5.3" fill="#555cc5"/>
<circle cx="603.5" cy="81.0" r="5.3" fill="#4260d0"/>
<circle cx="699.6" cy="80.9" r="5.3" fill="#455fce"/>
<circle cx="615.2" cy="217.9" r="5.3" fill="#4d5eca"/>
<circle cx="599.8" cy="301.3" r="5.3" fill="#565cc5"/>
<circle cx="605.3" cy="189.2" r="5.3" fill="#475fcd"/>
<circle cx="688.7" cy="134.4" r="5.3" fill="#4260d0"/>
<circle cx="544.8" cy="106.5" r="5.3" fill="#6658bb"/>
<circle cx="599.4" cy="105.5" r="5.3" fill="#4d5eca"/>
<circle cx="686.8" cy="79.9" r="5.3" fill="#455fce"/>
<circle cx="681.5" cy="88.0" r="5.3" fill="#505dc8"/>
<circle cx="669.5" cy="135.8" r="5.3" fill="#515dc8"/>
<circle cx="709.8" cy="190.1" r="5.3" fill="#505dc8"/>
<circle cx="585.3" cy="79.7" r="5.3" fill="#5c5ac1"/>
<circle cx="630.0" cy="80.6" r="5.3" fill="#4c5eca"/>
<circle cx="695.1" cy="219.9" r="5.3" fill="#4460cf"/>
<circle cx="565.2" cy="248.8" r="5.3" fill="#545cc5"/>
<circle cx="637.9" cy="160.5" r="5.3" fill="#4a5ecb"/>
<circle cx="367.6" cy="305.4" r="5.3" fill="#515dc7"/>
<circle cx="682.3" cy="217.4" r="5.3" fill="#465fce"/>
<circle cx="587.3" cy="84.7" r="5.3" fill="#495ecc"/>
<circle cx="479.7" cy="307.7" r="5.3" fill="#7954b1"/>
<circle cx="640.8" cy="135.8" r="5.3" fill="#4260d0"/>
<circle cx="672.0" cy="160.7" r="5.3" fill="#4c5eca"/>
<circle cx="694.0" cy="104.3" r="5.3" fill="#455fcf"/>
<circle cx="494.3" cy="246.3" r="5.3" fill="#6359bd"/>
<circle cx="615.7" cy="278.3" r="5.3" fill="#545cc6"/>
<circle cx="384.5" cy="278.9" r="5.3" fill="#6e57b7"/>
<circle cx="701.2" cy="92.0" r="5.3" fill="#4e5dc9"/>
<circle cx="669.1" cy="186.5" r="5.3" fill="#515dc7"/>
<circle cx="710.3" cy="91.2" r="5.3" fill="#525dc7"/>
<circle cx="489.0" cy="306.9" r="5.3" fill="#515dc8"/>
<circle cx="610.4" cy="276.8" r="5.3" fill="#4e5ec9"/>
<circle cx="597.7" cy="80.5" r="5.3" fill="#4260d0"/>
<circle cx="644.8" cy="134.1" r="5.3" fill="#4f5dc9"/>
<circle cx="530.3" cy="276.0" r="5.3" fill="#6758bb"/>
<circle cx="552.5" cy="273.8" r="5.3" fill="#585bc3"/>
<circle cx="662.0" cy="103.0" r="5.3" fill="#4260d0"/>
<circle cx="588.7" cy="276.6" r="5.3" fill="#4b5ecb"/>
<circle cx="686.7" cy="89.6" r="5.3" fill="#485fcd"/>
<circle cx="624.2" cy="106.1" r="5.3" fill="#4e5ec9"/>
<circle cx="555.4" cy="191.8" r="5.3" fill="#595bc3"/>
<circle cx="516.0" cy="244.8" r="5.3" fill="#6f56b6"/>
<circle cx="669.2" cy="219.3" r="5.3" fill="#4c5eca"/>
<circle cx="585.4" cy="134.2" r="5.3" fill="#475fcd"/>
<circle cx="604.0" cy="247.1" r="5.3" fill="#5b5bc2"/>
<circle cx="644.9" cy="190.0" r="5.3" fill="#445fcf"/>
<circle cx="602.2" cy="160.7" r="5.3" fill="#4e5dc9"/>
<circle cx="664.4" cy="277.7" r="5.3" fill="#4e5dc9"/>
<circle cx="660.2" cy="218.3" r="5.3" fill="#495fcc"/>
<circle cx="649.6" cy="106.5" r="5.3" fill="#455fce"/>
<circle cx="637.5" cy="217.7" r="5.3" fill="#4260d0"/>
<circle cx="499.4" cy="273.9" r="5.3" fill="#a14b95"/>
<circle cx="601.3" cy="190.9" r="5.3" fill="#5f5abf"/>
<circle cx="633.4" cy="133.3" r="5.3" fill="#555cc5"/>
<circle cx="516.5" cy="247.3" r="5.3" fill="#515dc8"/>
<circle cx="448.3" cy="302.6" r="5.3" fill="#8352ab"/>
<circle cx="664.9" cy="216.2" r="5.3" fill="#4a5ecc"/>
<circle cx="553.0" cy="105.9" r="5.3" fill="#4a5ecc"/>
<circle cx="636.7" cy="87.5" r="5.3" fill="#4c5eca"/>
<circle cx="576.4" cy="159.8" r="5.3" fill="#5a5bc2"/>
<circle cx="711.8" cy="90.5" r="5.3" fill="#505dc8"/>
<circle cx="644.3" cy="105.8" r="5.3" fill="#485fcd"/>
<circle cx="583.8" cy="271.9" r="5.3" fill="#4f5dc9"/>
<circle cx="632.3" cy="90.9" r="5.3" fill="#505dc8"/>
<circle cx="695.7" cy="79.9" r="5.3" fill="#485fcc"/>
<circle cx="487.8" cy="307.2" r="5.3" fill="#5f5abf"/>
<circle cx="614.7" cy="80.9" r="5.3" fill="#485fcc"/>
<circle cx="641.9" cy="86.0" r="5.3" fill="#455fce"/>
<circle cx="575.0" cy="190.5" r="5.3" fill="#535cc6"/>
<circle cx="487.0" cy="280.8" r="5.3" fill="#6259be"/>
<circle cx="706.8" cy="190.6" r="5.3" fill="#505dc8"/>
<circle cx="600.8" cy="162.5" r="5.3" fill="#5b5bc2"/>
<circle cx="568.6" cy="80.5" r="5.3" fill="#6259be"/>
<circle cx="658.1" cy="90.4" r="5.3" fill="#455fce"/>
<circle cx="694.9" cy="104.2" r="5.3" fill="#455fce"/>
<circle cx="670.2" cy="134.0" r="5.3" fill="#495ecc"/>
<circle cx="667.0" cy="104.6" r="5.3" fill="#4b5ecb"/>
<circle cx="555.6" cy="271.2" r="5.3" fill="#525dc7"/>
<circle cx="588.9" cy="105.3" r="5.3" fill="#505dc8"/>
<circle cx="500.9" cy="247.8" r="5.3" fill="#6259be"/>
<circle cx="638.3" cy="243.7" r="5.3" fill="#485fcd"/>
<circle cx="603.2" cy="159.6" r="5.3" fill="#5f5abf"/>
<circle cx="585.1" cy="275.2" r="5.3" fill="#545cc6"/>
<circle cx="665.2" cy="187.8" r="5.3" fill="#4260d0"/>
<circle cx="692.9" cy="191.6" r="5.3" fill="#465fce"/>
<circle cx="585.0" cy="190.0" r="5.3" fill="#4a5ecc"/>
<circle cx="568.2" cy="273.9" r="5.3" fill="#6159be"/>
<circle cx="706.5" cy="80.8" r="5.3" fill="#4260d0"/>
<circle cx="494.8" cy="304.2" r="5.3" fill="#6359bd"/>
<circle cx="566.2" cy="80.3" r="5.3" fill="#4c5eca"/>
<circle cx="713.0" cy="90.8" r="5.3" fill="#4360cf"/>
<circle cx="689.7" cy="83.4" r="5.3" fill="#465fce"/>
<circle cx="424.2" cy="304.5" r="5.3" fill="#8f50a4"/>
<circle cx="655.4" cy="219.2" r="5.3" fill="#475fcd"/>
<circle cx="405.0" cy="304.9" r="5.3" fill="#6b57b9"/>
<circle cx="645.5" cy="131.4" r="5.3" fill="#485fcd"/>
<circle cx="587.8" cy="88.5" r="5.3" fill="#495fcc"/>
<circle cx="563.9" cy="305.6" r="5.3" fill="#6f56b6"/>
<circle cx="542.9" cy="103.8" r="5.3" fill="#6559bc"/>
<circle cx="684.8" cy="84.5" r="5.3" fill="#485fcd"/>
<circle cx="640.1" cy="187.7" r="5.3" fill="#495ecc"/>
<circle cx="644.9" cy="80.5" r="5.3" fill="#4460cf"/>
<circle cx="593.1" cy="132.1" r="5.3" fill="#525dc7"/>
<circle cx="512.3" cy="276.5" r="5.3" fill="#6e57b7"/>
<circle cx="556.9" cy="106.4" r="5.3" fill="#455fcf"/>
<circle cx="641.2" cy="217.8" r="5.3" fill="#4360d0"/>
<circle cx="578.3" cy="161.7" r="5.3" fill="#5d5ac1"/>
<circle cx="660.7" cy="105.1" r="5.3" fill="#565cc4"/>
<circle cx="583.1" cy="162.2" r="5.3" fill="#525dc7"/>
<circle cx="564.9" cy="92.1" r="5.3" fill="#545cc6"/>
<circle cx="684.9" cy="161.6" r="5.3" fill="#4a5ecc"/>
<circle cx="610.4" cy="273.1" r="5.3" fill="#5a5bc2"/>
<circle cx="635.5" cy="191.3" r="5.3" fill="#455fce"/>
<circle cx="461.6" cy="301.5" r="5.3" fill="#8452aa"/>
<circle cx="679.8" cy="91.3" r="5.3" fill="#485fcd"/>
<circle cx="585.5" cy="189.7" r="5.3" fill="#565cc5"/>
<circle cx="630.6" cy="221.4" r="5.3" fill="#485fcc"/>
<circle cx="624.6" cy="163.1" r="5.3" fill="#495ecc"/>
<circle cx="589.6" cy="190.6" r="5.3" fill="#6259be"/>
<circle cx="636.5" cy="100.9" r="5.3" fill="#525dc7"/>
<circle cx="671.9" cy="278.6" r="5.3" fill="#4260d0"/>
<circle cx="709.9" cy="161.5" r="5.3" fill="#4360d0"/>
<circle cx="684.5" cy="80.6" r="5.3" fill="#535cc6"/>
<circle cx="693.4" cy="138.0" r="5.3" fill="#4c5eca"/>
<circle cx="610.0" cy="189.9" r="5.3" fill="#495fcc"/>
<circle cx="591.5" cy="133.7" r="5.3" fill="#5f5ac0"/>
<circle cx="560.9" cy="218.6" r="5.3" fill="#6559bc"/>
<circle cx="615.2" cy="219.2" r="5.3" fill="#5c5bc1"/>
<circle cx="673.2" cy="86.7" r="5.3" fill="#4a5ecc"/>
<circle cx="506.8" cy="276.7" r="5.3" fill="#585bc3"/>
<circle cx="638.9" cy="220.6" r="5.3" fill="#4260d0"/>
<circle cx="670.1" cy="105.3" r="5.3" fill="#4b5ecb"/>
<circle cx="548.3" cy="90.1" r="5.3" fill="#515dc7"/>
<circle cx="722.1" cy="161.2" r="5.3" fill="#495fcc"/>
<circle cx="654.8" cy="133.5" r="5.3" fill="#4f5dc9"/>
<circle cx="596.7" cy="219.4" r="5.3" fill="#5e5ac0"/>
<circle cx="553.6" cy="250.6" r="5.3" fill="#565cc5"/>
<circle cx="385.2" cy="274.3" r="5.3" fill="#934fa2"/>
<circle cx="648.9" cy="244.1" r="5.3" fill="#4a5ecb"/>
<circle cx="586.4" cy="189.9" r="5.3" fill="#4f5dc9"/>
<circle cx="613.9" cy="133.3" r="5.3" fill="#585bc4"/>
<circle cx="509.3" cy="307.3" r="5.3" fill="#6359bd"/>
<circle cx="612.1" cy="245.0" r="5.3" fill="#4d5eca"/>
<circle cx="566.7" cy="246.5" r="5.3" fill="#505dc8"/>
<circle cx="645.3" cy="303.0" r="5.3" fill="#525dc7"/>
<circle cx="626.3" cy="91.0" r="5.3" fill="#4c5ecb"/>
<circle cx="414.0" cy="305.5" r="5.3" fill="#535cc6"/>
<circle cx="616.8" cy="159.2" r="5.3" fill="#4c5eca"/>
<circle cx="579.4" cy="305.1" r="5.3" fill="#4260d0"/>
<circle cx="603.8" cy="218.4" r="5.3" fill="#515dc7"/>
<circle cx="571.6" cy="105.4" r="5.3" fill="#5b5bc1"/>
<circle cx="683.8" cy="189.2" r="5.3" fill="#455fcf"/>
<circle cx="552.9" cy="105.6" r="5.3" fill="#565cc5"/>
<circle cx="544.0" cy="247.0" r="5.3" fill="#5b5bc2"/>
<circle cx="556.3" cy="245.2" r="5.3" fill="#4e5dc9"/>
<circle cx="660.7" cy="90.0" r="5.3" fill="#4f5dc9"/>
<circle cx="656.5" cy="190.8" r="5.3" fill="#4260d0"/>
<circle cx="626.4" cy="85.7" r="5.3" fill="#4c5eca"/>
<circle cx="395.7" cy="302.7" r="5.3" fill="#6858ba"/>
<circle cx="700.9" cy="91.0" r="5.3" fill="#495fcc"/>
<circle cx="579.0" cy="84.7" r="5.3" fill="#4260d0"/>
<circle cx="679.3" cy="163.5" r="5.3" fill="#455fce"/>
<circle cx="602.0" cy="90.5" r="5.3" fill="#5c5ac1"/>
<circle cx="607.3" cy="84.4" r="5.3" fill="#4a5ecb"/>
<circle cx="604.3" cy="132.5" r="5.3" fill="#4260d0"/>
<circle cx="681.2" cy="133.9" r="5.3" fill="#4460cf"/>
<circle cx="508.3" cy="276.5" r="5.3" fill="#5d5ac0"/>
<circle cx="624.8" cy="109.3" r="5.3" fill="#545cc6"/>
<circle cx="692.6" cy="106.3" r="5.3" fill="#4460cf"/>
<circle cx="678.2" cy="84.9" r="5.3" fill="#505dc8"/>
<circle cx="491.3" cy="305.1" r="5.3" fill="#6658bc"/>
<circle cx="581.9" cy="79.7" r="5.3" fill="#4b5ecb"/>
<circle cx="704.7" cy="80.5" r="5.3" fill="#455fce"/>
<circle cx="614.1" cy="80.0" r="5.3" fill="#495ecc"/>
<circle cx="612.1" cy="160.2" r="5.3" fill="#4e5dc9"/>
<circle cx="697.1" cy="80.7" r="5.3" fill="#4260d0"/>
<circle cx="639.5" cy="84.9" r="5.3" fill="#4260d0"/>
<circle cx="682.6" cy="80.1" r="5.3" fill="#4260d0"/>
<circle cx="684.4" cy="220.3" r="5.3" fill="#525dc7"/>
<circle cx="580.1" cy="90.0" r="5.3" fill="#4b5ecb"/>
<circle cx="636.2" cy="91.9" r="5.3" fill="#4260d0"/>
<circle cx="630.4" cy="104.2" r="5.3" fill="#4e5ec9"/>
<circle cx="712.9" cy="106.1" r="5.3" fill="#4a5ecb"/>
<circle cx="443.2" cy="304.8" r="5.3" fill="#8a51a7"/>
<circle cx="545.0" cy="277.7" r="5.3" fill="#6d57b7"/>
<circle cx="573.2" cy="102.4" r="5.3" fill="#555cc5"/>
<circle cx="499.6" cy="273.3" r="5.3" fill="#535cc7"/>
<circle cx="504.1" cy="307.0" r="5.3" fill="#6958ba"/>
<circle cx="426.8" cy="302.3" r="5.3" fill="#7f53ad"/>
<circle cx="661.9" cy="80.7" r="5.3" fill="#4c5eca"/>
<circle cx="500.8" cy="275.2" r="5.3" fill="#4b5ecb"/>
<circle cx="609.2" cy="220.0" r="5.3" fill="#4460cf"/>
<circle cx="621.2" cy="248.0" r="5.3" fill="#4260d0"/>
<circle cx="491.1" cy="274.5" r="5.3" fill="#7755b2"/>
<circle cx="669.8" cy="158.9" r="5.3" fill="#4c5eca"/>
<circle cx="633.8" cy="85.2" r="5.3" fill="#4460cf"/>
<circle cx="658.6" cy="187.0" r="5.3" fill="#455fce"/>
<circle cx="675.9" cy="162.3" r="5.3" fill="#4460cf"/>
<circle cx="563.8" cy="217.6" r="5.3" fill="#505dc8"/>
<circle cx="524.7" cy="301.7" r="5.3" fill="#6159be"/>
<circle cx="683.3" cy="247.0" r="5.3" fill="#475fcd"/>
<circle cx="681.2" cy="164.3" r="5.3" fill="#4260d0"/>
<circle cx="640.8" cy="80.3" r="5.3" fill="#485fcd"/>
<circle cx="682.3" cy="91.0" r="5.3" fill="#495fcc"/>
<circle cx="531.5" cy="244.2" r="5.3" fill="#4260d0"/>
<circle cx="682.0" cy="132.3" r="5.3" fill="#455fce"/>
<circle cx="607.5" cy="91.2" r="5.3" fill="#535cc6"/>
<circle cx="588.0" cy="91.7" r="5.3" fill="#5b5bc2"/>
<circle cx="574.1" cy="90.0" r="5.3" fill="#6658bb"/>
<circle cx="651.0" cy="160.6" r="5.3" fill="#4260d0"/>
<circle cx="616.7" cy="275.0" r="5.3" fill="#445fcf"/>
<circle cx="672.4" cy="249.1" r="5.3" fill="#455fce"/>
<circle cx="684.4" cy="102.7" r="5.3" fill="#495ecc"/>
<circle cx="582.4" cy="158.3" r="5.3" fill="#4e5ec9"/>
<circle cx="380.3" cy="308.5" r="5.3" fill="#9f4c97"/>
<circle cx="544.9" cy="79.9" r="5.3" fill="#475fcd"/>
<circle cx="664.5" cy="216.6" r="5.3" fill="#475fcd"/>
<circle cx="677.7" cy="192.4" r="5.3" fill="#495fcc"/>
<circle cx="577.7" cy="82.6" r="5.3" fill="#5a5bc2"/>
<circle cx="588.1" cy="132.7" r="5.3" fill="#505dc8"/>
<circle cx="714.5" cy="158.5" r="5.3" fill="#535cc7"/>
<circle cx="543.3" cy="90.2" r="5.3" fill="#c54471"/>
<circle cx="660.8" cy="80.3" r="5.3" fill="#505dc8"/>
<circle cx="593.6" cy="159.7" r="5.3" fill="#5e5ac0"/>
<circle cx="595.9" cy="80.6" r="5.3" fill="#4360cf"/>
<circle cx="663.6" cy="217.8" r="5.3" fill="#4260d0"/>
<circle cx="615.4" cy="90.8" r="5.3" fill="#4c5eca"/>
<circle cx="615.0" cy="273.7" r="5.3" fill="#4260d0"/>
<circle cx="600.6" cy="162.6" r="5.3" fill="#4260d0"/>
<circle cx="594.9" cy="160.4" r="5.3" fill="#a34b93"/>
<circle cx="695.8" cy="133.2" r="5.3" fill="#4260d0"/>
<circle cx="648.7" cy="89.8" r="5.3" fill="#4260d0"/>
<circle cx="573.0" cy="135.2" r="5.3" fill="#485fcd"/>
<circle cx="364.5" cy="277.2" r="5.3" fill="#6559bc"/>
<circle cx="710.5" cy="217.1" r="5.3" fill="#4360d0"/>
<circle cx="689.6" cy="92.0" r="5.3" fill="#4260d0"/>
<circle cx="590.8" cy="133.8" r="5.3" fill="#4d5eca"/>
<circle cx="606.2" cy="245.6" r="5.3" fill="#455fce"/>
<circle cx="580.5" cy="162.5" r="5.3" fill="#4f5dc9"/>
<circle cx="557.4" cy="308.6" r="5.3" fill="#585bc3"/>
<circle cx="623.4" cy="246.4" r="5.3" fill="#525dc7"/>
<circle cx="430.5" cy="274.3" r="5.3" fill="#8152ac"/>
<circle cx="654.1" cy="133.0" r="5.3" fill="#4260d0"/>
<circle cx="577.8" cy="80.6" r="5.3" fill="#575cc4"/>
<circle cx="675.8" cy="132.9" r="5.3" fill="#495fcc"/>
<circle cx="492.0" cy="305.3" r="5.3" fill="#7e53ae"/>
<circle cx="580.7" cy="247.9" r="5.3" fill="#575bc4"/>
<circle cx="680.3" cy="220.2" r="5.3" fill="#4260d0"/>
<circle cx="622.2" cy="220.0" r="5.3" fill="#445fcf"/>
<circle cx="552.2" cy="89.9" r="5.3" fill="#7156b5"/>
<circle cx="649.9" cy="90.6" r="5.3" fill="#4e5dc9"/>
<circle cx="676.8" cy="134.1" r="5.3" fill="#4260d0"/>
<circle cx="608.7" cy="80.9" r="5.3" fill="#4f5dc9"/>
<circle cx="712.1" cy="219.6" r="5.3" fill="#505dc8"/>
<circle cx="634.3" cy="218.5" r="5.3" fill="#4360cf"/>
<circle cx="597.7" cy="279.1" r="5.3" fill="#525dc7"/>
<circle cx="666.2" cy="90.1" r="5.3" fill="#495fcc"/>
<circle cx="606.3" cy="246.9" r="5.3" fill="#4260d0"/>
<circle cx="614.1" cy="159.7" r="5.3" fill="#495fcc"/>
<circle cx="615.2" cy="136.4" r="5.3" fill="#4360cf"/>
<circle cx="586.0" cy="161.6" r="5.3" fill="#495ecc"/>
<circle cx="669.2" cy="104.3" r="5.3" fill="#465fce"/>
<circle cx="522.3" cy="247.5" r="5.3" fill="#575bc4"/>
<circle cx="595.8" cy="218.7" r="5.3" fill="#4260d0"/>
<circle cx="632.9" cy="275.1" r="5.3" fill="#455fce"/>
<circle cx="600.8" cy="302.3" r="5.3" fill="#505dc8"/>
<circle cx="704.4" cy="106.8" r="5.3" fill="#4260d0"/>
<circle cx="660.7" cy="133.5" r="5.3" fill="#4460cf"/>
<circle cx="608.1" cy="187.9" r="5.3" fill="#475fcd"/>
<circle cx="654.5" cy="90.8" r="5.3" fill="#4460cf"/>
<circle cx="527.9" cy="275.5" r="5.3" fill="#6f56b6"/>
<circle cx="665.4" cy="132.2" r="5.3" fill="#455fcf"/>
<circle cx="677.3" cy="245.7" r="5.3" fill="#485fcd"/>
<circle cx="518.9" cy="244.6" r="5.3" fill="#7056b6"/>
<circle cx="657.4" cy="85.3" r="5.3" fill="#4260d0"/>
<circle cx="709.0" cy="85.5" r="5.3" fill="#525dc7"/>
<circle cx="661.9" cy="90.4" r="5.3" fill="#475fcd"/>
<circle cx="683.4" cy="191.8" r="5.3" fill="#465fce"/>
<circle cx="642.4" cy="217.6" r="5.3" fill="#4c5eca"/>
<circle cx="430.8" cy="274.8" r="5.3" fill="#944ea1"/>
<circle cx="446.3" cy="306.7" r="5.3" fill="#6e57b7"/>
<circle cx="683.8" cy="157.8" r="5.3" fill="#4c5eca"/>
<circle cx="574.8" cy="218.8" r="5.3" fill="#4a5ecb"/>
<circle cx="545.5" cy="80.3" r="5.3" fill="#6359bd"/>
<circle cx="607.7" cy="217.1" r="5.3" fill="#595bc3"/>
<circle cx="559.8" cy="80.2" r="5.3" fill="#555cc5"/>
<circle cx="679.1" cy="80.8" r="5.3" fill="#495fcc"/>
<circle cx="661.0" cy="134.9" r="5.3" fill="#4d5ec9"/>
<circle cx="547.2" cy="306.5" r="5.3" fill="#6a57b9"/>
<circle cx="646.9" cy="189.3" r="5.3" fill="#4260d0"/>
<circle cx="588.4" cy="246.6" r="5.3" fill="#4d5eca"/>
<circle cx="630.5" cy="136.0" r="5.3" fill="#495fcc"/>
<circle cx="666.4" cy="80.1" r="5.3" fill="#4260d0"/>
<circle cx="366.2" cy="302.0" r="5.3" fill="#7f53ad"/>
<circle cx="542.4" cy="248.2" r="5.3" fill="#7655b3"/>
<circle cx="668.6" cy="159.9" r="5.3" fill="#495ecc"/>
<circle cx="614.2" cy="101.5" r="5.3" fill="#6359bd"/>
<circle cx="647.0" cy="80.1" r="5.3" fill="#4f5dc9"/>
<circle cx="566.6" cy="276.4" r="5.3" fill="#555cc5"/>
<circle cx="595.1" cy="90.5" r="5.3" fill="#5b5bc2"/>
<circle cx="560.3" cy="91.2" r="5.3" fill="#585bc3"/>
<circle cx="577.3" cy="105.8" r="5.3" fill="#535cc6"/>
<circle cx="661.9" cy="80.1" r="5.3" fill="#4260d0"/>
<circle cx="626.7" cy="246.6" r="5.3" fill="#475fcd"/>
<circle cx="547.5" cy="303.6" r="5.3" fill="#6a57b9"/>
<circle cx="728.0" cy="190.0" r="5.3" fill="#4260d0"/>
<circle cx="610.0" cy="304.5" r="5.3" fill="#505dc8"/>
<circle cx="652.1" cy="91.0" r="5.3" fill="#485fcd"/>
<circle cx="689.3" cy="249.4" r="5.3" fill="#4260d0"/>
<circle cx="543.7" cy="89.9" r="5.3" fill="#595bc3"/>
<circle cx="705.1" cy="81.2" r="5.3" fill="#4360cf"/>
<circle cx="687.6" cy="90.7" r="5.3" fill="#4260d0"/>
<circle cx="503.7" cy="305.5" r="5.3" fill="#6259be"/>
<circle cx="635.7" cy="187.2" r="5.3" fill="#565cc4"/>
<circle cx="578.2" cy="216.6" r="5.3" fill="#505dc8"/>
<circle cx="574.0" cy="91.0" r="5.3" fill="#4360cf"/>
<circle cx="521.2" cy="307.2" r="5.3" fill="#7156b5"/>
<circle cx="636.3" cy="102.9" r="5.3" fill="#465fce"/>
<circle cx="544.8" cy="303.0" r="5.3" fill="#6d57b8"/>
<circle cx="710.2" cy="157.4" r="5.3" fill="#4260d0"/>
<circle cx="410.2" cy="305.0" r="5.3" fill="#5b5bc2"/>
<circle cx="650.8" cy="91.3" r="5.3" fill="#4f5dc8"/>
<circle cx="681.2" cy="80.2" r="5.3" fill="#4c5ecb"/>
<circle cx="604.0" cy="246.4" r="5.3" fill="#485fcc"/>
<circle cx="718.4" cy="189.4" r="5.3" fill="#4260d0"/>
<circle cx="354.6" cy="274.8" r="5.3" fill="#9c4d9a"/>
<circle cx="582.6" cy="250.3" r="5.3" fill="#475fcd"/>
<circle cx="592.8" cy="132.1" r="5.3" fill="#5f5ac0"/>
<circle cx="549.4" cy="104.8" r="5.3" fill="#4b5ecb"/>
<circle cx="648.3" cy="159.7" r="5.3" fill="#4460cf"/>
<circle cx="674.1" cy="189.8" r="5.3" fill="#4260d0"/>
<circle cx="607.3" cy="274.1" r="5.3" fill="#4a5ecb"/>
<circle cx="581.7" cy="305.2" r="5.3" fill="#595bc3"/>
<circle cx="695.0" cy="243.4" r="5.3" fill="#4260d0"/>
<circle cx="721.4" cy="191.9" r="5.3" fill="#515dc8"/>
<circle cx="680.5" cy="162.0" r="5.3" fill="#485fcd"/>
<circle cx="600.8" cy="133.9" r="5.3" fill="#485fcd"/>
<circle cx="422.0" cy="305.2" r="5.3" fill="#7854b1"/>
<circle cx="638.9" cy="106.3" r="5.3" fill="#495ecc"/>
<circle cx="703.3" cy="91.7" r="5.3" fill="#485fcc"/>
<circle cx="687.9" cy="161.7" r="5.3" fill="#475fcd"/>
<circle cx="611.0" cy="158.8" r="5.3" fill="#465fce"/>
<circle cx="550.3" cy="80.8" r="5.3" fill="#7256b4"/>
<circle cx="709.8" cy="162.0" r="5.3" fill="#455fce"/>
<circle cx="578.9" cy="277.0" r="5.3" fill="#4b5ecb"/>
<circle cx="702.6" cy="134.3" r="5.3" fill="#4e5dc9"/>
<circle cx="541.6" cy="245.7" r="5.3" fill="#5c5bc1"/>
<circle cx="678.3" cy="187.3" r="5.3" fill="#4260d0"/>
<circle cx="557.0" cy="217.3" r="5.3" fill="#595bc3"/>
<circle cx="594.7" cy="81.6" r="5.3" fill="#505dc8"/>
<circle cx="698.0" cy="247.0" r="5.3" fill="#4e5dc9"/>
<circle cx="594.9" cy="189.3" r="5.3" fill="#535cc6"/>
<circle cx="621.0" cy="160.8" r="5.3" fill="#515dc8"/>
<circle cx="552.1" cy="245.5" r="5.3" fill="#6c57b8"/>
<circle cx="579.0" cy="88.3" r="5.3" fill="#5e5ac0"/>
<circle cx="548.0" cy="273.1" r="5.3" fill="#4260d0"/>
<circle cx="579.5" cy="80.0" r="5.3" fill="#465fcd"/>
<circle cx="633.0" cy="135.9" r="5.3" fill="#4260d0"/>
<circle cx="399.3" cy="305.0" r="5.3" fill="#7156b5"/>
<circle cx="714.8" cy="216.5" r="5.3" fill="#4260d0"/>
<circle cx="602.9" cy="217.7" r="5.3" fill="#565cc5"/>
<circle cx="671.4" cy="85.4" r="5.3" fill="#525cc7"/>
<circle cx="604.6" cy="133.0" r="5.3" fill="#5f5abf"/>
<circle cx="611.9" cy="130.3" r="5.3" fill="#6459bc"/>
<circle cx="521.7" cy="243.4" r="5.3" fill="#6459bc"/>
<circle cx="656.4" cy="246.8" r="5.3" fill="#445fcf"/>
<circle cx="608.2" cy="278.1" r="5.3" fill="#4a5ecc"/>
<circle cx="372.0" cy="305.0" r="5.3" fill="#8352ab"/>
<circle cx="674.4" cy="102.0" r="5.3" fill="#4b5ecb"/>
<circle cx="697.2" cy="191.3" r="5.3" fill="#4b5ecb"/>
<circle cx="693.3" cy="164.0" r="5.3" fill="#4b5ecb"/>
<circle cx="345.0" cy="276.0" r="5.3" fill="#bb467b"/>
<circle cx="589.4" cy="105.7" r="5.3" fill="#495ecc"/>
<circle cx="572.4" cy="302.0" r="5.3" fill="#4360d0"/>
<circle cx="577.9" cy="131.1" r="5.3" fill="#525dc7"/>
<circle cx="574.4" cy="90.1" r="5.3" fill="#545cc6"/>
<circle cx="587.1" cy="104.4" r="5.3" fill="#515dc7"/>
<circle cx="653.5" cy="164.6" r="5.3" fill="#4260d0"/>
<circle cx="636.0" cy="89.0" r="5.3" fill="#485fcd"/>
<circle cx="662.8" cy="79.2" r="5.3" fill="#465fce"/>
<circle cx="604.4" cy="244.5" r="5.3" fill="#455fce"/>
<circle cx="614.6" cy="91.0" r="5.3" fill="#4260d0"/>
<circle cx="543.5" cy="80.6" r="5.3" fill="#7056b6"/>
<circle cx="620.7" cy="135.5" r="5.3" fill="#4b5ecb"/>
<circle cx="681.5" cy="90.8" r="5.3" fill="#4260d0"/>
<circle cx="634.8" cy="104.1" r="5.3" fill="#4d5eca"/>
<circle cx="593.6" cy="216.9" r="5.3" fill="#555cc5"/>
<circle cx="715.1" cy="190.8" r="5.3" fill="#505dc8"/>
<circle cx="703.6" cy="81.1" r="5.3" fill="#4260d0"/>
<circle cx="383.7" cy="274.4" r="5.3" fill="#6359bd"/>
<circle cx="510.6" cy="306.5" r="5.3" fill="#5c5ac1"/>
<circle cx="645.4" cy="162.9" r="5.3" fill="#4a5ecb"/>
<circle cx="605.8" cy="107.4" r="5.3" fill="#525dc7"/>
<circle cx="648.8" cy="91.3" r="5.3" fill="#4460cf"/>
<circle cx="654.1" cy="222.4" r="5.3" fill="#4460cf"/>
<circle cx="698.6" cy="105.5" r="5.3" fill="#555cc5"/>
<circle cx="694.6" cy="220.1" r="5.3" fill="#4260d0"/>
<circle cx="685.9" cy="83.9" r="5.3" fill="#485fcd"/>
<circle cx="636.2" cy="274.3" r="5.3" fill="#4360cf"/>
<circle cx="640.2" cy="275.8" r="5.3" fill="#4260d0"/>
<circle cx="680.7" cy="188.2" r="5.3" fill="#485fcd"/>
<circle cx="598.9" cy="92.3" r="5.3" fill="#4460cf"/>
<circle cx="456.6" cy="307.7" r="5.3" fill="#8951a7"/>
<circle cx="653.6" cy="90.5" r="5.3" fill="#4260d0"/>
<circle cx="621.8" cy="80.0" r="5.3" fill="#4c5eca"/>
<circle cx="561.0" cy="161.0" r="5.3" fill="#6b57b8"/>
<circle cx="552.4" cy="308.4" r="5.3" fill="#4460cf"/>
<circle cx="602.2" cy="90.6" r="5.3" fill="#4a5ecb"/>
<circle cx="633.2" cy="90.8" r="5.3" fill="#525cc7"/>
<circle cx="599.8" cy="306.0" r="5.3" fill="#b54781"/>
<circle cx="683.7" cy="90.6" r="5.3" fill="#565cc5"/>
<circle cx="672.7" cy="91.2" r="5.3" fill="#455fcf"/>
<circle cx="673.0" cy="218.1" r="5.3" fill="#4260d0"/>
<circle cx="557.2" cy="189.5" r="5.3" fill="#5c5ac1"/>
<circle cx="614.3" cy="190.4" r="5.3" fill="#505dc8"/>
<circle cx="588.8" cy="189.1" r="5.3" fill="#465fce"/>
<circle cx="673.2" cy="80.2" r="5.3" fill="#4c5eca"/>
<circle cx="457.5" cy="306.2" r="5.3" fill="#5e5ac0"/>
<circle cx="508.4" cy="272.9" r="5.3" fill="#c8436e"/>
<circle cx="354.3" cy="276.5" r="5.3" fill="#6d57b8"/>
<circle cx="673.1" cy="132.6" r="5.3" fill="#475fcd"/>
<circle cx="567.1" cy="272.7" r="5.3" fill="#5c5ac1"/>
<circle cx="358.5" cy="274.9" r="5.3" fill="#8c50a5"/>
<circle cx="692.3" cy="80.5" r="5.3" fill="#545cc5"/>
<circle cx="506.3" cy="306.8" r="5.3" fill="#595bc3"/>
<circle cx="715.3" cy="215.7" r="5.3" fill="#4360d0"/>
<circle cx="507.6" cy="306.5" r="5.3" fill="#7655b2"/>
<circle cx="533.0" cy="309.0" r="5.3" fill="#4f5dc9"/>
<circle cx="614.0" cy="105.6" r="5.3" fill="#4460cf"/>
<circle cx="653.9" cy="105.2" r="5.3" fill="#4d5eca"/>
<circle cx="692.0" cy="191.1" r="5.3" fill="#4c5eca"/>
<circle cx="684.3" cy="89.4" r="5.3" fill="#4a5ecc"/>
<circle cx="657.5" cy="189.6" r="5.3" fill="#4260d0"/>
<circle cx="712.8" cy="156.9" r="5.3" fill="#485fcd"/>
<circle cx="661.8" cy="130.7" r="5.3" fill="#4460cf"/>
<circle cx="615.6" cy="215.4" r="5.3" fill="#4360d0"/>
<circle cx="633.9" cy="160.6" r="5.3" fill="#505dc8"/>
<circle cx="681.7" cy="133.1" r="5.3" fill="#465fce"/>
<circle cx="528.6" cy="305.2" r="5.3" fill="#7056b6"/>
<circle cx="431.7" cy="279.3" r="5.3" fill="#7a54b0"/>
<circle cx="706.6" cy="217.4" r="5.3" fill="#485fcd"/>
<circle cx="656.1" cy="91.2" r="5.3" fill="#4d5eca"/>
<circle cx="657.2" cy="162.6" r="5.3" fill="#4a5ecc"/>
<circle cx="682.2" cy="91.2" r="5.3" fill="#4e5dc9"/>
<circle cx="558.5" cy="307.2" r="5.3" fill="#5e5ac0"/>
<circle cx="562.2" cy="105.1" r="5.3" fill="#465fce"/>
<circle cx="692.7" cy="218.0" r="5.3" fill="#4b5ecb"/>
<circle cx="611.8" cy="91.7" r="5.3" fill="#5c5ac1"/>
<circle cx="669.2" cy="80.7" r="5.3" fill="#4260d0"/>
<circle cx="710.5" cy="160.4" r="5.3" fill="#455fce"/>
<circle cx="356.3" cy="306.2" r="5.3" fill="#a84a8e"/>
<circle cx="563.9" cy="90.8" r="5.3" fill="#4260d0"/>
<circle cx="682.8" cy="219.6" r="5.3" fill="#455fce"/>
<circle cx="587.6" cy="161.3" r="5.3" fill="#4260d0"/>
<circle cx="665.4" cy="132.2" r="5.3" fill="#4d5eca"/>
<circle cx="626.4" cy="218.6" r="5.3" fill="#525dc7"/>
<circle cx="679.8" cy="134.5" r="5.3" fill="#4f5dc9"/>
<circle cx="608.5" cy="160.9" r="5.3" fill="#4b5ecb"/>
<circle cx="569.0" cy="104.8" r="5.3" fill="#5a5bc2"/>
<circle cx="539.6" cy="275.1" r="5.3" fill="#505dc8"/>
<circle cx="565.4" cy="91.0" r="5.3" fill="#cc426a"/>
<circle cx="703.6" cy="191.5" r="5.3" fill="#4e5dc9"/>
<circle cx="694.0" cy="91.6" r="5.3" fill="#4b5ecb"/>
<circle cx="591.0" cy="90.6" r="5.3" fill="#5c5ac1"/>
<circle cx="567.1" cy="90.2" r="5.3" fill="#5e5ac0"/>
<circle cx="553.4" cy="80.3" r="5.3" fill="#595bc3"/>
<circle cx="441.6" cy="276.1" r="5.3" fill="#8053ad"/>
<circle cx="710.4" cy="103.4" r="5.3" fill="#505dc8"/>
<circle cx="553.2" cy="90.1" r="5.3" fill="#6658bc"/>
<circle cx="668.3" cy="243.8" r="5.3" fill="#575bc4"/>
<circle cx="630.1" cy="89.8" r="5.3" fill="#565cc4"/>
<circle cx="626.7" cy="80.8" r="5.3" fill="#585bc3"/>
<circle cx="685.2" cy="219.5" r="5.3" fill="#525dc7"/>
<circle cx="659.1" cy="161.2" r="5.3" fill="#4a5ecc"/>
<circle cx="681.2" cy="88.6" r="5.3" fill="#4260d0"/>
<circle cx="609.9" cy="214.8" r="5.3" fill="#4260d0"/>
<circle cx="618.6" cy="218.2" r="5.3" fill="#495ecc"/>
<circle cx="433.9" cy="274.4" r="5.3" fill="#8153ac"/>
<circle cx="655.6" cy="90.8" r="5.3" fill="#4b5ecb"/>
<circle cx="664.8" cy="246.9" r="5.3" fill="#495ecc"/>
<circle cx="573.1" cy="303.2" r="5.3" fill="#4b5ecb"/>
<circle cx="517.6" cy="303.1" r="5.3" fill="#495ecc"/>
<circle cx="515.2" cy="304.4" r="5.3" fill="#5b5bc2"/>
<circle cx="616.4" cy="246.0" r="5.3" fill="#4a5ecb"/>
<circle cx="612.4" cy="80.3" r="5.3" fill="#535cc6"/>
<circle cx="567.9" cy="219.2" r="5.3" fill="#5c5bc1"/>
<circle cx="694.2" cy="247.0" r="5.3" fill="#4d5eca"/>
<circle cx="632.5" cy="247.5" r="5.3" fill="#525dc7"/>
<circle cx="638.1" cy="104.6" r="5.3" fill="#535cc6"/>
<circle cx="569.8" cy="80.5" r="5.3" fill="#525dc7"/>
<circle cx="521.9" cy="277.5" r="5.3" fill="#4f5dc9"/>
<circle cx="588.5" cy="306.0" r="5.3" fill="#595bc3"/>
<circle cx="568.5" cy="80.8" r="5.3" fill="#6159bf"/>
<circle cx="616.1" cy="217.5" r="5.3" fill="#505dc8"/>
<circle cx="565.7" cy="83.8" r="5.3" fill="#585bc4"/>
<circle cx="583.0" cy="216.9" r="5.3" fill="#6159be"/>
<circle cx="579.3" cy="84.4" r="5.3" fill="#4b5ecb"/>
<circle cx="684.4" cy="104.3" r="5.3" fill="#4260d0"/>
<circle cx="703.0" cy="133.5" r="5.3" fill="#4260d0"/>
<circle cx="694.4" cy="92.2" r="5.3" fill="#4260d0"/>
<circle cx="717.3" cy="194.1" r="5.3" fill="#4260d0"/>
<circle cx="627.0" cy="219.7" r="5.3" fill="#4f5dc9"/>
<circle cx="632.4" cy="218.0" r="5.3" fill="#565cc4"/>
<circle cx="485.0" cy="276.0" r="5.3" fill="#555cc5"/>
<circle cx="695.3" cy="186.9" r="5.3" fill="#545cc6"/>
<circle cx="685.3" cy="247.3" r="5.3" fill="#4d5eca"/>
<circle cx="642.2" cy="91.2" r="5.3" fill="#455fce"/>
<circle cx="657.6" cy="102.5" r="5.3" fill="#465fce"/>
<circle cx="480.3" cy="301.2" r="5.3" fill="#465fce"/>
<circle cx="520.4" cy="304.0" r="5.3" fill="#6559bc"/>
<circle cx="527.7" cy="245.1" r="5.3" fill="#525dc7"/>
<circle cx="554.2" cy="278.3" r="5.3" fill="#5c5ac1"/>
<circle cx="648.0" cy="83.0" r="5.3" fill="#495fcc"/>
<circle cx="632.9" cy="218.6" r="5.3" fill="#4260d0"/>
<circle cx="633.1" cy="190.1" r="5.3" fill="#505dc8"/>
<circle cx="513.4" cy="247.0" r="5.3" fill="#6958ba"/>
<circle cx="422.0" cy="277.1" r="5.3" fill="#bf4577"/>
<circle cx="568.3" cy="161.7" r="5.3" fill="#4b5ecb"/>
<circle cx="649.4" cy="132.9" r="5.3" fill="#4260d0"/>
<circle cx="604.6" cy="215.6" r="5.3" fill="#525cc7"/>
<circle cx="596.2" cy="306.9" r="5.3" fill="#595bc3"/>
<circle cx="590.2" cy="105.0" r="5.3" fill="#525cc7"/>
<circle cx="706.3" cy="91.8" r="5.3" fill="#4360d0"/>
<circle cx="695.2" cy="160.8" r="5.3" fill="#475fcd"/>
<circle cx="654.8" cy="219.2" r="5.3" fill="#4260d0"/>
<circle cx="685.2" cy="244.7" r="5.3" fill="#4360cf"/>
<circle cx="609.5" cy="273.2" r="5.3" fill="#585bc3"/>
<circle cx="692.2" cy="81.1" r="5.3" fill="#495ecc"/>
<circle cx="588.5" cy="106.2" r="5.3" fill="#4e5dc9"/>
<circle cx="572.3" cy="80.3" r="5.3" fill="#4c5eca"/>
<circle cx="717.0" cy="160.8" r="5.3" fill="#545cc6"/>
<circle cx="542.2" cy="305.2" r="5.3" fill="#5a5bc2"/>
<circle cx="643.6" cy="92.9" r="5.3" fill="#505dc8"/>
<circle cx="573.0" cy="133.5" r="5.3" fill="#5a5bc2"/>
<circle cx="622.0" cy="220.1" r="5.3" fill="#515dc8"/>
<circle cx="565.6" cy="220.9" r="5.3" fill="#6159be"/>
<circle cx="560.2" cy="89.9" r="5.3" fill="#5f5ac0"/>
<circle cx="667.8" cy="130.1" r="5.3" fill="#4260d0"/>
<circle cx="652.6" cy="90.9" r="5.3" fill="#4d5eca"/>
<circle cx="644.5" cy="218.8" r="5.3" fill="#4260d0"/>
<circle cx="606.0" cy="86.8" r="5.3" fill="#4f5dc8"/>
<circle cx="643.7" cy="131.2" r="5.3" fill="#4b5ecb"/>
<circle cx="685.9" cy="85.0" r="5.3" fill="#4460cf"/>
<circle cx="505.0" cy="245.6" r="5.3" fill="#6858ba"/>
<circle cx="601.0" cy="136.7" r="5.3" fill="#545cc6"/>
<circle cx="628.2" cy="163.2" r="5.3" fill="#515dc7"/>
<circle cx="611.3" cy="106.9" r="5.3" fill="#535cc6"/>
<circle cx="556.8" cy="91.1" r="5.3" fill="#6c57b8"/>
<circle cx="720.4" cy="159.0" r="5.3" fill="#465fcd"/>
<circle cx="502.0" cy="272.8" r="5.3" fill="#5b5bc2"/>
<circle cx="572.6" cy="306.3" r="5.3" fill="#565cc5"/>
<circle cx="670.5" cy="83.4" r="5.3" fill="#4260d0"/>
<circle cx="573.2" cy="87.4" r="5.3" fill="#605abf"/>
<circle cx="622.2" cy="104.6" r="5.3" fill="#4d5eca"/>
<circle cx="641.6" cy="189.0" r="5.3" fill="#4260d0"/>
<circle cx="624.1" cy="133.9" r="5.3" fill="#505dc8"/>
<circle cx="705.4" cy="80.4" r="5.3" fill="#485fcd"/>
<circle cx="627.8" cy="217.3" r="5.3" fill="#4e5dc9"/>
<circle cx="648.2" cy="90.9" r="5.3" fill="#465fce"/>
<circle cx="668.7" cy="160.6" r="5.3" fill="#475fcd"/>
<circle cx="620.9" cy="160.9" r="5.3" fill="#5b5bc2"/>
<circle cx="648.7" cy="88.6" r="5.3" fill="#4260d0"/>
<circle cx="591.2" cy="220.0" r="5.3" fill="#515dc8"/>
<circle cx="572.0" cy="162.6" r="5.3" fill="#545cc6"/>
<circle cx="387.1" cy="301.0" r="5.3" fill="#a14b95"/>
<circle cx="489.1" cy="305.3" r="5.3" fill="#5b5bc2"/>
<circle cx="648.6" cy="159.8" r="5.3" fill="#4e5dc9"/>
<circle cx="630.1" cy="83.0" r="5.3" fill="#475fcd"/>
<circle cx="626.9" cy="275.1" r="5.3" fill="#4f5dc9"/>
<circle cx="704.5" cy="163.4" r="5.3" fill="#4460cf"/>
<circle cx="673.0" cy="90.4" r="5.3" fill="#4260d0"/>
<circle cx="434.8" cy="275.6" r="5.3" fill="#6658bb"/>
<circle cx="613.4" cy="247.5" r="5.3" fill="#545cc6"/>
<circle cx="688.5" cy="80.0" r="5.3" fill="#485fcd"/>
<circle cx="638.4" cy="278.7" r="5.3" fill="#4d5eca"/>
<circle cx="588.0" cy="244.7" r="5.3" fill="#4460cf"/>
<circle cx="558.6" cy="191.7" r="5.3" fill="#b9467d"/>
<circle cx="662.5" cy="84.9" r="5.3" fill="#4260d0"/>
<circle cx="622.7" cy="306.3" r="5.3" fill="#465fce"/>
<circle cx="585.0" cy="306.1" r="5.3" fill="#4260d0"/>
<circle cx="414.9" cy="306.3" r="5.3" fill="#944ea1"/>
<circle cx="349.1" cy="277.6" r="5.3" fill="#7256b4"/>
<circle cx="592.8" cy="158.4" r="5.3" fill="#465fce"/>
<circle cx="718.9" cy="192.0" r="5.3" fill="#4460cf"/>
<circle cx="592.2" cy="133.4" r="5.3" fill="#5e5ac0"/>
<circle cx="684.5" cy="219.5" r="5.3" fill="#4460cf"/>
<circle cx="483.6" cy="304.7" r="5.3" fill="#c04576"/>
<circle cx="703.8" cy="216.5" r="5.3" fill="#465fce"/>
<circle cx="700.4" cy="135.8" r="5.3" fill="#4260d0"/>
<circle cx="718.9" cy="160.5" r="5.3" fill="#4260d0"/>
<circle cx="588.9" cy="219.6" r="5.3" fill="#595bc3"/>
<circle cx="573.6" cy="216.5" r="5.3" fill="#555cc5"/>
<circle cx="368.2" cy="279.2" r="5.3" fill="#7056b6"/>
<circle cx="641.6" cy="133.1" r="5.3" fill="#485fcc"/>
<circle cx="616.0" cy="303.5" r="5.3" fill="#445fcf"/>
<circle cx="626.3" cy="137.1" r="5.3" fill="#af4887"/>
<circle cx="561.1" cy="188.8" r="5.3" fill="#6c57b8"/>
<circle cx="557.0" cy="91.1" r="5.3" fill="#555cc5"/>
<circle cx="699.2" cy="90.7" r="5.3" fill="#475fcd"/>
<circle cx="645.2" cy="275.1" r="5.3" fill="#4b5ecb"/>
<circle cx="625.8" cy="276.4" r="5.3" fill="#485fcd"/>
<circle cx="629.6" cy="87.7" r="5.3" fill="#4260d0"/>
<circle cx="593.3" cy="189.9" r="5.3" fill="#4f5dc8"/>
<circle cx="674.8" cy="103.7" r="5.3" fill="#4260d0"/>
<circle cx="685.3" cy="106.1" r="5.3" fill="#4260d0"/>
<circle cx="617.2" cy="135.0" r="5.3" fill="#475fcd"/>
<circle cx="525.0" cy="274.8" r="5.3" fill="#525dc7"/>
<circle cx="607.7" cy="136.2" r="5.3" fill="#455fce"/>
<circle cx="589.8" cy="189.5" r="5.3" fill="#4e5dc9"/>
<circle cx="654.9" cy="275.2" r="5.3" fill="#4e5dc9"/>
<circle cx="393.7" cy="304.6" r="5.3" fill="#6c57b8"/>
<circle cx="555.0" cy="218.5" r="5.3" fill="#6359bd"/>
<circle cx="551.2" cy="92.0" r="5.3" fill="#595bc3"/>
<circle cx="559.1" cy="105.2" r="5.3" fill="#6858ba"/>
<circle cx="612.6" cy="304.5" r="5.3" fill="#5a5bc2"/>
<circle cx="671.4" cy="133.6" r="5.3" fill="#4d5eca"/>
<circle cx="655.6" cy="189.3" r="5.3" fill="#455fce"/>
<circle cx="584.2" cy="274.1" r="5.3" fill="#5e5ac0"/>
<circle cx="670.1" cy="222.1" r="5.3" fill="#4260d0"/>
<circle cx="711.5" cy="216.2" r="5.3" fill="#4f5dc9"/>
<circle cx="677.0" cy="219.1" r="5.3" fill="#485fcc"/>
<circle cx="702.1" cy="193.1" r="5.3" fill="#4b5ecb"/>
<circle cx="571.6" cy="304.4" r="5.3" fill="#595bc3"/>
<circle cx="652.6" cy="133.2" r="5.3" fill="#4260d0"/>
<circle cx="699.4" cy="216.4" r="5.3" fill="#4260d0"/>
<circle cx="591.0" cy="219.1" r="5.3" fill="#4f5dc9"/>
<circle cx="675.6" cy="92.2" r="5.3" fill="#4460cf"/>
<circle cx="630.9" cy="134.1" r="5.3" fill="#4a5ecc"/>
<circle cx="533.3" cy="248.2" r="5.3" fill="#525dc7"/>
<circle cx="664.1" cy="221.1" r="5.3" fill="#455fce"/>
<circle cx="594.1" cy="132.0" r="5.3" fill="#595bc3"/>
<circle cx="633.5" cy="304.8" r="5.3" fill="#505dc8"/>
<circle cx="665.2" cy="245.2" r="5.3" fill="#4260d0"/>
<circle cx="680.8" cy="189.0" r="5.3" fill="#4c5ecb"/>
<circle cx="589.1" cy="80.5" r="5.3" fill="#485fcc"/>
<circle cx="647.4" cy="276.3" r="5.3" fill="#485fcd"/>
<circle cx="589.8" cy="305.6" r="5.3" fill="#5e5ac0"/>
<circle cx="564.9" cy="306.7" r="5.3" fill="#4360cf"/>
<circle cx="554.7" cy="277.9" r="5.3" fill="#515dc8"/>
<circle cx="679.7" cy="131.9" r="5.3" fill="#445fcf"/>
<circle cx="693.6" cy="90.6" r="5.3" fill="#485fcd"/>
<circle cx="497.8" cy="247.2" r="5.3" fill="#6658bc"/>
<circle cx="702.7" cy="192.0" r="5.3" fill="#4460cf"/>
<circle cx="611.0" cy="131.7" r="5.3" fill="#505dc8"/>
<circle cx="637.6" cy="190.1" r="5.3" fill="#485fcc"/>
<circle cx="585.3" cy="247.6" r="5.3" fill="#5c5ac1"/>
<circle cx="581.4" cy="80.8" r="5.3" fill="#cc426a"/>
<circle cx="613.3" cy="104.4" r="5.3" fill="#d83b58"/>
<circle cx="663.8" cy="193.6" r="5.3" fill="#4360d0"/>
<circle cx="673.6" cy="274.3" r="5.3" fill="#4260d0"/>
<circle cx="627.4" cy="135.4" r="5.3" fill="#525dc7"/>
<circle cx="587.3" cy="91.4" r="5.3" fill="#555cc5"/>
<circle cx="617.4" cy="158.3" r="5.3" fill="#455fce"/>
<circle cx="658.1" cy="219.1" r="5.3" fill="#4260d0"/>
<circle cx="566.7" cy="311.4" r="5.3" fill="#5f5ac0"/>
<circle cx="584.1" cy="106.8" r="5.3" fill="#5c5bc1"/>
<circle cx="549.9" cy="80.7" r="5.3" fill="#575bc4"/>
<circle cx="643.0" cy="217.5" r="5.3" fill="#575cc4"/>
<circle cx="699.1" cy="163.8" r="5.3" fill="#475fcd"/>
<circle cx="598.5" cy="276.4" r="5.3" fill="#d63c5b"/>
<circle cx="593.5" cy="190.3" r="5.3" fill="#575cc4"/>
<circle cx="689.8" cy="86.2" r="5.3" fill="#495ecc"/>
<circle cx="631.6" cy="91.1" r="5.3" fill="#4c5eca"/>
<circle cx="599.7" cy="162.8" r="5.3" fill="#4e5dc9"/>
<circle cx="584.4" cy="277.0" r="5.3" fill="#5f5abf"/>
<circle cx="609.7" cy="85.6" r="5.3" fill="#475fcd"/>
<circle cx="564.2" cy="275.3" r="5.3" fill="#585bc3"/>
<circle cx="644.9" cy="276.9" r="5.3" fill="#515dc7"/>
<circle cx="387.3" cy="304.0" r="5.3" fill="#dc3953"/>
<circle cx="671.9" cy="103.3" r="5.3" fill="#4c5ecb"/>
<circle cx="700.4" cy="89.5" r="5.3" fill="#4260d0"/>
<circle cx="622.2" cy="105.3" r="5.3" fill="#525dc7"/>
<circle cx="698.1" cy="136.3" r="5.3" fill="#4d5eca"/>
<circle cx="351.9" cy="307.3" r="5.3" fill="#be4578"/>
<circle cx="388.3" cy="274.4" r="5.3" fill="#6558bc"/>
<circle cx="717.9" cy="188.7" r="5.3" fill="#4d5eca"/>
<circle cx="675.3" cy="159.3" r="5.3" fill="#4c5eca"/>
<circle cx="627.4" cy="85.2" r="5.3" fill="#4b5ecb"/>
<circle cx="701.6" cy="104.3" r="5.3" fill="#475fcd"/>
<circle cx="674.7" cy="91.8" r="5.3" fill="#4c5eca"/>
<circle cx="687.7" cy="80.1" r="5.3" fill="#465fce"/>
<circle cx="552.8" cy="244.1" r="5.3" fill="#5c5ac1"/>
<circle cx="663.0" cy="133.0" r="5.3" fill="#545cc6"/>
<circle cx="607.7" cy="277.0" r="5.3" fill="#515dc7"/>
<circle cx="652.7" cy="161.9" r="5.3" fill="#4e5dc9"/>
<circle cx="546.8" cy="80.9" r="5.3" fill="#5f5ac0"/>
<circle cx="600.3" cy="246.5" r="5.3" fill="#535cc6"/>
<circle cx="726.9" cy="193.7" r="5.3" fill="#4f5dc9"/>
<circle cx="580.3" cy="165.5" r="5.3" fill="#555cc5"/>
<circle cx="629.3" cy="276.4" r="5.3" fill="#4460cf"/>
<circle cx="636.6" cy="133.4" r="5.3" fill="#4260d0"/>
<circle cx="618.3" cy="190.9" r="5.3" fill="#4260d0"/>
<circle cx="497.9" cy="275.9" r="5.3" fill="#7455b3"/>
<circle cx="640.4" cy="187.6" r="5.3" fill="#515dc7"/>
<circle cx="575.4" cy="247.1" r="5.3" fill="#555cc5"/>
<circle cx="572.7" cy="159.9" r="5.3" fill="#455fce"/>
<circle cx="679.4" cy="80.8" r="5.3" fill="#495fcc"/>
<circle cx="567.7" cy="105.0" r="5.3" fill="#5a5bc2"/>
<circle cx="722.3" cy="188.2" r="5.3" fill="#4260d0"/>
<circle cx="553.4" cy="189.6" r="5.3" fill="#6958ba"/>
<circle cx="637.7" cy="131.7" r="5.3" fill="#4260d0"/>
<circle cx="603.1" cy="247.8" r="5.3" fill="#515dc7"/>
<circle cx="639.1" cy="218.9" r="5.3" fill="#5d5ac0"/>
<circle cx="609.0" cy="219.1" r="5.3" fill="#4260d0"/>
<circle cx="602.6" cy="81.2" r="5.3" fill="#6059bf"/>
<circle cx="678.3" cy="86.6" r="5.3" fill="#4d5ec9"/>
<circle cx="690.6" cy="164.9" r="5.3" fill="#565cc4"/>
<circle cx="605.9" cy="310.9" r="5.3" fill="#535cc6"/>
<circle cx="384.0" cy="303.3" r="5.3" fill="#6e57b7"/>
<circle cx="500.4" cy="307.2" r="5.3" fill="#7655b2"/>
<circle cx="618.0" cy="103.2" r="5.3" fill="#4a5ecb"/>
<circle cx="707.1" cy="219.0" r="5.3" fill="#4e5dc9"/>
<circle cx="665.7" cy="85.6" r="5.3" fill="#465fce"/>
<circle cx="609.0" cy="159.8" r="5.3" fill="#535cc6"/>
<circle cx="389.3" cy="275.8" r="5.3" fill="#4c5ecb"/>
<circle cx="709.4" cy="186.9" r="5.3" fill="#4a5ecc"/>
<circle cx="628.0" cy="132.7" r="5.3" fill="#515dc8"/>
<circle cx="713.9" cy="222.5" r="5.3" fill="#545cc6"/>
<circle cx="642.6" cy="246.0" r="5.3" fill="#535cc6"/>
<circle cx="395.9" cy="305.6" r="5.3" fill="#8552aa"/>
<circle cx="681.1" cy="85.7" r="5.3" fill="#465fce"/>
<circle cx="633.4" cy="161.7" r="5.3" fill="#465fce"/>
<circle cx="573.1" cy="248.2" r="5.3" fill="#4c5eca"/>
<circle cx="666.8" cy="90.8" r="5.3" fill="#465fce"/>
<circle cx="670.5" cy="218.3" r="5.3" fill="#4c5ecb"/>
<circle cx="592.9" cy="81.0" r="5.3" fill="#565cc4"/>
<circle cx="542.0" cy="251.1" r="5.3" fill="#555cc5"/>
<circle cx="646.8" cy="217.8" r="5.3" fill="#485fcd"/>
<circle cx="608.1" cy="80.1" r="5.3" fill="#4c5eca"/>
<circle cx="640.2" cy="79.5" r="5.3" fill="#4b5ecb"/>
<circle cx="570.5" cy="218.1" r="5.3" fill="#5a5bc2"/>
<circle cx="605.9" cy="80.4" r="5.3" fill="#525dc7"/>
<circle cx="656.2" cy="159.0" r="5.3" fill="#495ecc"/>
<circle cx="600.6" cy="91.3" r="5.3" fill="#575bc4"/>
<circle cx="627.1" cy="104.0" r="5.3" fill="#4b5ecb"/>
<circle cx="695.0" cy="88.0" r="5.3" fill="#4e5dc9"/>
<circle cx="614.7" cy="219.2" r="5.3" fill="#455fce"/>
<circle cx="556.4" cy="79.7" r="5.3" fill="#525dc7"/>
<circle cx="724.6" cy="187.8" r="5.3" fill="#4a5ecc"/>
<circle cx="567.8" cy="102.1" r="5.3" fill="#4b5ecb"/>
<circle cx="694.2" cy="218.3" r="5.3" fill="#475fcd"/>
<circle cx="592.3" cy="161.4" r="5.3" fill="#535cc6"/>
<circle cx="699.5" cy="191.9" r="5.3" fill="#505dc8"/>
<circle cx="688.4" cy="190.8" r="5.3" fill="#495ecc"/>
<circle cx="544.6" cy="247.1" r="5.3" fill="#4a5ecc"/>
<circle cx="604.9" cy="187.0" r="5.3" fill="#4f5dc8"/>
<circle cx="515.0" cy="308.0" r="5.3" fill="#4b5ecb"/>
<circle cx="586.8" cy="277.8" r="5.3" fill="#6159be"/>
<circle cx="643.7" cy="217.1" r="5.3" fill="#4260d0"/>
<circle cx="721.6" cy="160.7" r="5.3" fill="#4b5ecb"/>
<circle cx="664.3" cy="105.2" r="5.3" fill="#4260d0"/>
<circle cx="633.2" cy="90.4" r="5.3" fill="#545cc6"/>
<circle cx="655.7" cy="132.0" r="5.3" fill="#505dc8"/>
<circle cx="718.3" cy="189.3" r="5.3" fill="#4260d0"/>
<circle cx="601.5" cy="187.9" r="5.3" fill="#505dc8"/>
<circle cx="665.9" cy="186.6" r="5.3" fill="#4f5dc9"/>
<circle cx="644.8" cy="248.7" r="5.3" fill="#465fce"/>
<circle cx="613.8" cy="219.2" r="5.3" fill="#505dc8"/>
<circle cx="568.7" cy="246.9" r="5.3" fill="#4f5dc9"/>
<circle cx="535.5" cy="305.6" r="5.3" fill="#6159be"/>
<circle cx="564.5" cy="80.1" r="5.3" fill="#565cc5"/>
<circle cx="558.1" cy="80.5" r="5.3" fill="#585bc3"/>
<circle cx="541.9" cy="305.8" r="5.3" fill="#5e5ac0"/>
<circle cx="701.5" cy="133.5" r="5.3" fill="#475fcd"/>
<circle cx="604.7" cy="246.5" r="5.3" fill="#6459bd"/>
<circle cx="634.7" cy="159.4" r="5.3" fill="#4260d0"/>
<circle cx="638.0" cy="216.8" r="5.3" fill="#465fce"/>
<circle cx="570.9" cy="80.4" r="5.3" fill="#525dc7"/>
<circle cx="609.0" cy="91.6" r="5.3" fill="#4c5eca"/>
<circle cx="638.5" cy="244.3" r="5.3" fill="#475fcd"/>
<circle cx="639.3" cy="79.4" r="5.3" fill="#455fce"/>
<circle cx="561.0" cy="103.6" r="5.3" fill="#6b57b9"/>
<circle cx="647.6" cy="132.7" r="5.3" fill="#4260d0"/>
<circle cx="560.9" cy="250.5" r="5.3" fill="#5d5ac1"/>
<circle cx="666.0" cy="160.5" r="5.3" fill="#4e5dc9"/>
<circle cx="647.1" cy="275.6" r="5.3" fill="#495fcc"/>
<circle cx="354.2" cy="278.6" r="5.3" fill="#b14885"/>
<circle cx="710.9" cy="107.4" r="5.3" fill="#485fcc"/>
<circle cx="597.6" cy="190.7" r="5.3" fill="#475fcd"/>
<circle cx="704.5" cy="79.3" r="5.3" fill="#4f5dc9"/>
<circle cx="614.4" cy="135.6" r="5.3" fill="#4260d0"/>
<circle cx="694.2" cy="91.0" r="5.3" fill="#475fcd"/>
<circle cx="604.3" cy="79.2" r="5.3" fill="#595bc3"/>
<circle cx="569.8" cy="80.5" r="5.3" fill="#495fcc"/>
<circle cx="617.0" cy="80.4" r="5.3" fill="#4260d0"/>
<circle cx="549.6" cy="91.2" r="5.3" fill="#595bc3"/>
<circle cx="575.5" cy="218.2" r="5.3" fill="#545cc6"/>
<circle cx="636.9" cy="191.6" r="5.3" fill="#4b5ecb"/>
<circle cx="689.1" cy="134.5" r="5.3" fill="#455fce"/>
<circle cx="677.9" cy="87.0" r="5.3" fill="#4e5ec9"/>
<circle cx="603.8" cy="135.2" r="5.3" fill="#4260d0"/>
<circle cx="620.4" cy="81.1" r="5.3" fill="#4260d0"/>
<circle cx="660.9" cy="89.7" r="5.3" fill="#475fcd"/>
<circle cx="648.4" cy="103.9" r="5.3" fill="#4b5ecb"/>
<circle cx="411.5" cy="305.9" r="5.3" fill="#555cc5"/>
<circle cx="569.2" cy="105.1" r="5.3" fill="#4260d0"/>
<circle cx="698.8" cy="80.4" r="5.3" fill="#465fce"/>
<circle cx="631.4" cy="191.3" r="5.3" fill="#4d5eca"/>
<circle cx="727.7" cy="187.9" r="5.3" fill="#525dc7"/>
<circle cx="674.5" cy="90.4" r="5.3" fill="#495fcc"/>
<circle cx="538.8" cy="104.6" r="5.3" fill="#585bc3"/>
<circle cx="578.5" cy="278.0" r="5.3" fill="#5c5ac1"/>
<circle cx="689.2" cy="131.2" r="5.3" fill="#4260d0"/>
<circle cx="563.4" cy="161.5" r="5.3" fill="#5c5ac1"/>
<circle cx="625.5" cy="244.8" r="5.3" fill="#4260d0"/>
<circle cx="543.2" cy="91.2" r="5.3" fill="#4360d0"/>
<circle cx="555.6" cy="102.5" r="5.3" fill="#595bc3"/>
<circle cx="510.2" cy="274.1" r="5.3" fill="#7056b6"/>
<circle cx="613.4" cy="191.2" r="5.3" fill="#5b5bc2"/>
<circle cx="427.2" cy="277.1" r="5.3" fill="#974e9f"/>
<circle cx="708.4" cy="217.9" r="5.3" fill="#4d5eca"/>
<circle cx="582.1" cy="247.1" r="5.3" fill="#4c5ecb"/>
<circle cx="452.9" cy="304.3" r="5.3" fill="#535cc6"/>
<circle cx="672.3" cy="80.4" r="5.3" fill="#4260d0"/>
<circle cx="634.2" cy="247.9" r="5.3" fill="#465fce"/>
<circle cx="711.4" cy="161.5" r="5.3" fill="#4e5dc9"/>
<circle cx="626.5" cy="89.8" r="5.3" fill="#4b5ecb"/>
<circle cx="606.1" cy="161.1" r="5.3" fill="#555cc5"/>
<circle cx="576.4" cy="87.4" r="5.3" fill="#4b5ecb"/>
<circle cx="624.4" cy="274.9" r="5.3" fill="#535cc6"/>
<circle cx="640.0" cy="80.9" r="5.3" fill="#505dc8"/>
<circle cx="683.9" cy="80.7" r="5.3" fill="#455fce"/>
<circle cx="581.8" cy="161.6" r="5.3" fill="#475fcd"/>
<circle cx="652.4" cy="81.0" r="5.3" fill="#4360d0"/>
<circle cx="657.7" cy="163.5" r="5.3" fill="#4260d0"/>
<circle cx="599.7" cy="162.1" r="5.3" fill="#4460cf"/>
<circle cx="686.6" cy="90.7" r="5.3" fill="#525dc7"/>
<circle cx="485.5" cy="276.8" r="5.3" fill="#6559bc"/>
<circle cx="609.0" cy="85.0" r="5.3" fill="#525dc7"/>
<circle cx="555.3" cy="308.0" r="5.3" fill="#4260d0"/>
<circle cx="384.9" cy="302.0" r="5.3" fill="#9b4d9b"/>
<circle cx="646.4" cy="81.9" r="5.3" fill="#475fcd"/>
<circle cx="424.4" cy="277.8" r="5.3" fill="#555cc5"/>
<circle cx="630.1" cy="83.9" r="5.3" fill="#4260d0"/>
<circle cx="666.0" cy="86.4" r="5.3" fill="#4d5eca"/>
<circle cx="714.1" cy="190.1" r="5.3" fill="#475fcd"/>
<circle cx="606.0" cy="90.4" r="5.3" fill="#4f5dc9"/>
<circle cx="652.6" cy="90.1" r="5.3" fill="#4d5eca"/>
<circle cx="607.9" cy="189.9" r="5.3" fill="#505dc8"/>
<circle cx="641.1" cy="305.1" r="5.3" fill="#4260d0"/>
<circle cx="684.7" cy="219.0" r="5.3" fill="#4b5ecb"/>
<circle cx="540.7" cy="305.7" r="5.3" fill="#575cc4"/>
<circle cx="698.3" cy="193.9" r="5.3" fill="#4260d0"/>
<circle cx="496.9" cy="304.8" r="5.3" fill="#ba467c"/>
<circle cx="627.7" cy="275.7" r="5.3" fill="#4f5dc8"/>
<circle cx="660.2" cy="133.9" r="5.3" fill="#485fcd"/>
<circle cx="661.1" cy="132.7" r="5.3" fill="#465fce"/>
<circle cx="575.3" cy="307.4" r="5.3" fill="#a94a8d"/>
<circle cx="682.9" cy="86.7" r="5.3" fill="#485fcc"/>
<circle cx="631.3" cy="188.5" r="5.3" fill="#555cc5"/>
<circle cx="680.6" cy="133.1" r="5.3" fill="#465fce"/>
<circle cx="598.7" cy="137.1" r="5.3" fill="#555cc5"/>
<circle cx="598.3" cy="106.2" r="5.3" fill="#4c5eca"/>
<circle cx="587.8" cy="273.7" r="5.3" fill="#4260d0"/>
<circle cx="667.0" cy="219.7" r="5.3" fill="#4260d0"/>
<circle cx="622.6" cy="79.7" r="5.3" fill="#4b5ecb"/>
<circle cx="509.8" cy="246.0" r="5.3" fill="#6c57b8"/>
<circle cx="717.1" cy="188.7" r="5.3" fill="#4260d0"/>
<circle cx="683.3" cy="160.4" r="5.3" fill="#515dc7"/>
<circle cx="594.8" cy="80.6" r="5.3" fill="#4260d0"/>
<circle cx="609.1" cy="249.3" r="5.3" fill="#4260d0"/>
<circle cx="591.5" cy="85.2" r="5.3" fill="#4b5ecb"/>
<circle cx="616.6" cy="303.4" r="5.3" fill="#4b5ecb"/>
<circle cx="550.6" cy="305.1" r="5.3" fill="#585bc3"/>
<circle cx="633.8" cy="133.3" r="5.3" fill="#535cc6"/>
<circle cx="636.1" cy="84.2" r="5.3" fill="#495ecc"/>
<circle cx="399.6" cy="305.2" r="5.3" fill="#8152ac"/>
<circle cx="528.2" cy="246.9" r="5.3" fill="#6159be"/>
<circle cx="667.8" cy="218.4" r="5.3" fill="#515dc8"/>
<circle cx="674.4" cy="105.3" r="5.3" fill="#485fcc"/>
<circle cx="690.6" cy="85.4" r="5.3" fill="#4360d0"/>
<circle cx="633.0" cy="248.0" r="5.3" fill="#4260d0"/>
<circle cx="649.6" cy="188.8" r="5.3" fill="#495ecc"/>
<circle cx="643.9" cy="276.9" r="5.3" fill="#4e5dc9"/>
<circle cx="472.3" cy="306.8" r="5.3" fill="#6758bb"/>
<circle cx="547.6" cy="90.6" r="5.3" fill="#4e5ec9"/>
<circle cx="655.5" cy="86.2" r="5.3" fill="#4360cf"/>
<circle cx="598.9" cy="160.9" r="5.3" fill="#575bc4"/>
<circle cx="374.9" cy="305.5" r="5.3" fill="#a44b92"/>
<circle cx="598.6" cy="277.0" r="5.3" fill="#4c5ecb"/>
<circle cx="663.5" cy="161.7" r="5.3" fill="#4260d0"/>
<circle cx="699.9" cy="134.9" r="5.3" fill="#455fce"/>
<circle cx="683.2" cy="91.6" r="5.3" fill="#4260d0"/>
<circle cx="430.7" cy="306.8" r="5.3" fill="#6a57b9"/>
<circle cx="563.1" cy="162.2" r="5.3" fill="#5a5bc3"/>
<circle cx="519.6" cy="275.2" r="5.3" fill="#525dc7"/>
<circle cx="441.7" cy="275.2" r="5.3" fill="#984e9e"/>
<circle cx="554.8" cy="305.7" r="5.3" fill="#a44b92"/>
<circle cx="644.3" cy="160.6" r="5.3" fill="#4260d0"/>
<circle cx="540.8" cy="248.2" r="5.3" fill="#495fcc"/>
<circle cx="605.0" cy="245.9" r="5.3" fill="#4e5dc9"/>
<circle cx="615.6" cy="250.8" r="5.3" fill="#4b5ecb"/>
<circle cx="624.0" cy="104.0" r="5.3" fill="#4c5eca"/>
<circle cx="672.8" cy="218.8" r="5.3" fill="#4260d0"/>
<circle cx="517.1" cy="305.0" r="5.3" fill="#6858ba"/>
<circle cx="572.8" cy="165.4" r="5.3" fill="#4c5ecb"/>
<circle cx="697.5" cy="247.6" r="5.3" fill="#4e5dc9"/>
<circle cx="616.1" cy="221.4" r="5.3" fill="#495ecc"/>
<circle cx="498.4" cy="274.8" r="5.3" fill="#a44b92"/>
<circle cx="558.0" cy="304.6" r="5.3" fill="#6b57b8"/>
<circle cx="679.6" cy="80.4" r="5.3" fill="#505dc8"/>
<circle cx="570.0" cy="91.9" r="5.3" fill="#595bc3"/>
<circle cx="618.7" cy="218.5" r="5.3" fill="#545cc6"/>
<circle cx="515.7" cy="276.9" r="5.3" fill="#6a57b9"/>
<circle cx="680.5" cy="162.8" r="5.3" fill="#455fcf"/>
<circle cx="681.9" cy="84.6" r="5.3" fill="#495ecc"/>
<circle cx="617.5" cy="91.2" r="5.3" fill="#4f5dc9"/>
<circle cx="642.1" cy="219.1" r="5.3" fill="#4260d0"/>
<circle cx="398.1" cy="303.4" r="5.3" fill="#6758bb"/>
<circle cx="608.2" cy="80.8" r="5.3" fill="#565cc4"/>
<circle cx="667.9" cy="219.6" r="5.3" fill="#5d5ac1"/>
<circle cx="664.9" cy="275.4" r="5.3" fill="#4260d0"/>
<circle cx="622.3" cy="134.7" r="5.3" fill="#5f5ac0"/>
<circle cx="656.3" cy="133.8" r="5.3" fill="#4a5ecb"/>
<circle cx="408.1" cy="305.8" r="5.3" fill="#6858ba"/>
<circle cx="630.5" cy="185.7" r="5.3" fill="#475fcd"/>
<circle cx="565.5" cy="104.9" r="5.3" fill="#505dc8"/>
<circle cx="635.8" cy="131.2" r="5.3" fill="#4c5eca"/>
<circle cx="681.2" cy="85.0" r="5.3" fill="#4460cf"/>
<circle cx="600.4" cy="247.8" r="5.3" fill="#4260d0"/>
<circle cx="652.7" cy="80.1" r="5.3" fill="#455fce"/>
<circle cx="614.9" cy="131.9" r="5.3" fill="#545cc6"/>
<circle cx="668.3" cy="216.5" r="5.3" fill="#4b5ecb"/>
<circle cx="535.5" cy="273.6" r="5.3" fill="#6658bc"/>
<circle cx="660.8" cy="90.2" r="5.3" fill="#4260d0"/>
<circle cx="498.8" cy="275.7" r="5.3" fill="#6658bc"/>
<circle cx="676.2" cy="104.6" r="5.3" fill="#475fcd"/>
<circle cx="608.0" cy="102.8" r="5.3" fill="#505dc8"/>
<circle cx="561.8" cy="161.6" r="5.3" fill="#575bc4"/>
<circle cx="585.0" cy="307.3" r="5.3" fill="#7555b3"/>
<circle cx="690.5" cy="250.0" r="5.3" fill="#4460cf"/>
<circle cx="376.2" cy="306.2" r="5.3" fill="#a64a90"/>
<circle cx="584.3" cy="132.0" r="5.3" fill="#4d5eca"/>
<circle cx="642.0" cy="105.2" r="5.3" fill="#4c5eca"/>
<circle cx="564.2" cy="156.1" r="5.3" fill="#4260d0"/>
<circle cx="574.3" cy="107.3" r="5.3" fill="#4f5dc8"/>
<circle cx="663.8" cy="276.9" r="5.3" fill="#505dc8"/>
<circle cx="621.7" cy="80.2" r="5.3" fill="#4f5dc9"/>
<circle cx="706.9" cy="89.2" r="5.3" fill="#475fcd"/>
<circle cx="369.6" cy="308.3" r="5.3" fill="#9f4c97"/>
<circle cx="621.4" cy="162.2" r="5.3" fill="#4e5ec9"/>
<circle cx="695.2" cy="90.3" r="5.3" fill="#465fce"/>
<circle cx="638.0" cy="188.7" r="5.3" fill="#445fcf"/>
<circle cx="451.1" cy="303.2" r="5.3" fill="#7156b5"/>
<circle cx="593.9" cy="219.3" r="5.3" fill="#575bc4"/>
<circle cx="551.8" cy="103.7" r="5.3" fill="#4a5ecc"/>
<circle cx="627.5" cy="135.1" r="5.3" fill="#4c5eca"/>
<circle cx="606.8" cy="133.8" r="5.3" fill="#6259be"/>
<circle cx="654.8" cy="133.6" r="5.3" fill="#475fcd"/>
<circle cx="608.1" cy="248.6" r="5.3" fill="#565cc5"/>
<circle cx="633.4" cy="274.3" r="5.3" fill="#4a5ecb"/>
<circle cx="629.6" cy="131.5" r="5.3" fill="#475fcd"/>
<circle cx="501.7" cy="276.6" r="5.3" fill="#ba467c"/>
<circle cx="587.1" cy="80.2" r="5.3" fill="#4e5dc9"/>
<circle cx="691.5" cy="191.0" r="5.3" fill="#445fcf"/>
<circle cx="647.0" cy="192.3" r="5.3" fill="#4260d0"/>
<circle cx="650.8" cy="247.0" r="5.3" fill="#505dc8"/>
<circle cx="647.5" cy="80.7" r="5.3" fill="#465fce"/>
<circle cx="510.0" cy="278.5" r="5.3" fill="#535cc6"/>
<circle cx="650.9" cy="134.0" r="5.3" fill="#4260d0"/>
<circle cx="718.0" cy="191.9" r="5.3" fill="#495fcc"/>
<circle cx="661.6" cy="216.8" r="5.3" fill="#4260d0"/>
<circle cx="631.8" cy="164.6" r="5.3" fill="#4260d0"/>
<circle cx="503.4" cy="276.2" r="5.3" fill="#8552aa"/>
<circle cx="587.6" cy="247.5" r="5.3" fill="#5b5bc2"/>
<circle cx="630.8" cy="220.3" r="5.3" fill="#4260d0"/>
<circle cx="465.9" cy="305.7" r="5.3" fill="#585bc4"/>
<circle cx="633.3" cy="217.8" r="5.3" fill="#4d5eca"/>
<circle cx="637.0" cy="307.0" r="5.3" fill="#4a5ecb"/>
<circle cx="626.3" cy="219.2" r="5.3" fill="#4b5ecb"/>
<circle cx="584.0" cy="136.7" r="5.3" fill="#515dc7"/>
<circle cx="594.9" cy="160.2" r="5.3" fill="#595bc3"/>
<circle cx="677.8" cy="190.7" r="5.3" fill="#4a5ecb"/>
<circle cx="624.6" cy="303.7" r="5.3" fill="#545cc6"/>
<circle cx="670.5" cy="132.4" r="5.3" fill="#475fcd"/>
<circle cx="578.0" cy="90.7" r="5.3" fill="#4260d0"/>
<circle cx="637.2" cy="104.4" r="5.3" fill="#4260d0"/>
<circle cx="629.1" cy="219.3" r="5.3" fill="#525dc7"/>
<circle cx="578.9" cy="247.3" r="5.3" fill="#555cc5"/>
<circle cx="428.9" cy="276.3" r="5.3" fill="#7555b3"/>
<circle cx="617.0" cy="133.0" r="5.3" fill="#565cc5"/>
<circle cx="618.2" cy="133.3" r="5.3" fill="#6159be"/>
<circle cx="650.6" cy="90.9" r="5.3" fill="#475fcd"/>
<circle cx="681.6" cy="80.4" r="5.3" fill="#4260d0"/>
<circle cx="591.1" cy="189.9" r="5.3" fill="#4260d0"/>
<circle cx="560.3" cy="189.1" r="5.3" fill="#4c5eca"/>
<circle cx="501.2" cy="247.3" r="5.3" fill="#5b5bc1"/>
<circle cx="624.9" cy="104.4" r="5.3" fill="#4f5dc9"/>
<circle cx="515.6" cy="303.9" r="5.3" fill="#6159be"/>
<circle cx="630.4" cy="162.3" r="5.3" fill="#5b5bc2"/>
<circle cx="618.2" cy="80.0" r="5.3" fill="#4260d0"/>
<circle cx="606.1" cy="247.7" r="5.3" fill="#475fcd"/>
<circle cx="608.7" cy="160.6" r="5.3" fill="#475fcd"/>
<circle cx="631.4" cy="83.4" r="5.3" fill="#4e5ec9"/>
<circle cx="441.9" cy="304.9" r="5.3" fill="#6758bb"/>
<circle cx="620.2" cy="85.3" r="5.3" fill="#4d5eca"/>
<circle cx="667.4" cy="247.8" r="5.3" fill="#4e5dc9"/>
<circle cx="586.2" cy="92.0" r="5.3" fill="#cb426b"/>
<circle cx="695.6" cy="80.6" r="5.3" fill="#485fcd"/>
<circle cx="681.7" cy="83.9" r="5.3" fill="#4260d0"/>
<circle cx="707.0" cy="220.2" r="5.3" fill="#535cc6"/>
<circle cx="528.3" cy="277.9" r="5.3" fill="#5c5ac1"/>
<circle cx="662.3" cy="217.5" r="5.3" fill="#465fce"/>
<circle cx="626.9" cy="80.5" r="5.3" fill="#4e5dc9"/>
<circle cx="698.3" cy="164.1" r="5.3" fill="#455fcf"/>
<circle cx="604.4" cy="86.1" r="5.3" fill="#4260d0"/>
<circle cx="520.4" cy="304.4" r="5.3" fill="#6c57b8"/>
<circle cx="649.9" cy="246.5" r="5.3" fill="#4360d0"/>
<circle cx="714.7" cy="187.7" r="5.3" fill="#555cc5"/>
<circle cx="567.5" cy="105.4" r="5.3" fill="#5c5bc1"/>
<circle cx="361.0" cy="275.8" r="5.3" fill="#7056b6"/>
<circle cx="566.0" cy="218.9" r="5.3" fill="#575bc4"/>
<circle cx="509.7" cy="304.7" r="5.3" fill="#4260d0"/>
<circle cx="602.6" cy="249.7" r="5.3" fill="#4f5dc9"/>
<circle cx="687.5" cy="191.8" r="5.3" fill="#4260d0"/>
<circle cx="434.2" cy="275.5" r="5.3" fill="#585bc4"/>
<circle cx="607.8" cy="216.5" r="5.3" fill="#525dc7"/>
<circle cx="563.2" cy="160.8" r="5.3" fill="#4260d0"/>
<circle cx="578.2" cy="275.2" r="5.3" fill="#4c5eca"/>
<circle cx="638.7" cy="189.0" r="5.3" fill="#535cc6"/>
<circle cx="565.6" cy="160.6" r="5.3" fill="#5e5ac0"/>
<circle cx="621.6" cy="80.4" r="5.3" fill="#475fcd"/>
<circle cx="505.7" cy="276.0" r="5.3" fill="#4260d0"/>
<circle cx="698.2" cy="132.1" r="5.3" fill="#495ecc"/>
<circle cx="585.7" cy="103.9" r="5.3" fill="#4260d0"/>
<circle cx="614.6" cy="80.0" r="5.3" fill="#505dc8"/>
<circle cx="452.0" cy="306.6" r="5.3" fill="#8153ac"/>
<circle cx="614.0" cy="189.7" r="5.3" fill="#4b5ecb"/>
<circle cx="178.8" cy="78.0" r="5.3" fill="#5d5ac1"/>
<circle cx="279.2" cy="81.0" r="5.3" fill="#535cc6"/>
<circle cx="322.7" cy="162.7" r="5.3" fill="#4c5eca"/>
<circle cx="359.7" cy="80.7" r="5.3" fill="#4f5dc8"/>
<circle cx="455.1" cy="81.2" r="5.3" fill="#e83142"/>
<circle cx="483.7" cy="82.3" r="5.3" fill="#4260d0"/>
<circle cx="512.0" cy="79.0" r="5.3" fill="#934fa2"/>
<circle cx="516.0" cy="78.5" r="5.3" fill="#ca426c"/>
<circle cx="523.0" cy="80.0" r="5.3" fill="#605abf"/>
<circle cx="527.0" cy="81.0" r="5.3" fill="#4f5dc8"/>
<circle cx="509.0" cy="89.0" r="5.3" fill="#605abf"/>
<circle cx="515.0" cy="90.0" r="5.3" fill="#4f5dc8"/>
<circle cx="521.0" cy="90.5" r="5.3" fill="#e83142"/>
<circle cx="528.0" cy="91.0" r="5.3" fill="#7156b5"/>
<circle cx="534.0" cy="90.0" r="5.3" fill="#605abf"/>
<circle cx="507.0" cy="105.0" r="5.3" fill="#605abf"/>
<circle cx="512.5" cy="103.0" r="5.3" fill="#e83142"/>
<circle cx="520.0" cy="103.0" r="5.3" fill="#4c5eca"/>
<circle cx="532.0" cy="105.0" r="5.3" fill="#4f5dc8"/>
<circle cx="540.0" cy="104.0" r="5.3" fill="#ca426c"/>
<circle cx="545.0" cy="106.0" r="5.3" fill="#605abf"/>
<circle cx="551.0" cy="106.0" r="5.3" fill="#4f5dc8"/>
<circle cx="556.0" cy="106.0" r="5.3" fill="#5d5ac1"/>
<circle cx="568.0" cy="105.0" r="5.3" fill="#ca426c"/>
<circle cx="572.0" cy="106.0" r="5.3" fill="#4f5dc8"/>
<circle cx="509.5" cy="132.5" r="5.3" fill="#e83142"/>
<circle cx="511.5" cy="133.5" r="5.3" fill="#e83142"/>
<circle cx="530.0" cy="133.0" r="5.3" fill="#7156b5"/>
<circle cx="534.5" cy="135.5" r="5.3" fill="#e83142"/>
<circle cx="549.0" cy="134.0" r="5.3" fill="#4c5eca"/>
<circle cx="556.0" cy="134.0" r="5.3" fill="#535cc6"/>
<circle cx="563.0" cy="135.0" r="5.3" fill="#535cc6"/>
<circle cx="495.5" cy="159.5" r="5.3" fill="#7156b5"/>
<circle cx="511.5" cy="162.5" r="5.3" fill="#4f5dc8"/>
<circle cx="541.0" cy="163.0" r="5.3" fill="#4c5eca"/>
<circle cx="544.5" cy="157.5" r="5.3" fill="#e83142"/>
<circle cx="548.0" cy="162.0" r="5.3" fill="#ea303e"/>
<circle cx="554.0" cy="162.0" r="5.3" fill="#7156b5"/>
<circle cx="560.0" cy="161.0" r="5.3" fill="#8252ac"/>
<circle cx="566.0" cy="162.0" r="5.3" fill="#7156b5"/>
<circle cx="475.7" cy="190.5" r="5.3" fill="#e83142"/>
<circle cx="519.5" cy="189.0" r="5.3" fill="#535cc6"/>
<circle cx="526.0" cy="190.5" r="5.3" fill="#9f4c97"/>
<circle cx="544.0" cy="191.5" r="5.3" fill="#de3750"/>
<circle cx="550.0" cy="191.0" r="5.3" fill="#a94a8d"/>
<circle cx="555.0" cy="191.0" r="5.3" fill="#9f4c97"/>
<circle cx="567.0" cy="191.0" r="5.3" fill="#7156b5"/>
<circle cx="575.0" cy="190.0" r="5.3" fill="#535cc6"/>
<circle cx="577.0" cy="195.0" r="5.3" fill="#4f5dc8"/>
<circle cx="364.8" cy="219.0" r="5.3" fill="#e83142"/>
<circle cx="420.7" cy="219.0" r="5.3" fill="#565cc4"/>
<circle cx="435.8" cy="219.0" r="5.3" fill="#7156b5"/>
<circle cx="472.0" cy="218.5" r="5.3" fill="#7156b5"/>
<circle cx="475.0" cy="220.0" r="5.3" fill="#e43447"/>
<circle cx="482.0" cy="218.0" r="5.3" fill="#ca426c"/>
<circle cx="492.0" cy="217.5" r="5.3" fill="#4c5eca"/>
<circle cx="507.0" cy="218.0" r="5.3" fill="#7156b5"/>
<circle cx="509.0" cy="222.0" r="5.3" fill="#7156b5"/>
<circle cx="515.0" cy="218.0" r="5.3" fill="#605abf"/>
<circle cx="522.0" cy="220.0" r="5.3" fill="#4f5dc8"/>
<circle cx="533.0" cy="219.0" r="5.3" fill="#ea303e"/>
<circle cx="541.0" cy="216.0" r="5.3" fill="#4f5dc8"/>
<circle cx="548.0" cy="218.0" r="5.3" fill="#4f5dc8"/>
<circle cx="583.8" cy="231.6" r="5.3" fill="#4c5eca"/>
<circle cx="354.9" cy="247.5" r="5.3" fill="#934fa2"/>
<circle cx="386.5" cy="249.0" r="5.3" fill="#a94a8d"/>
<circle cx="400.4" cy="248.0" r="5.3" fill="#605abf"/>
<circle cx="419.5" cy="249.5" r="5.3" fill="#4f5dc8"/>
<circle cx="427.0" cy="248.5" r="5.3" fill="#5d5ac1"/>
<circle cx="434.0" cy="247.0" r="5.3" fill="#4f5dc8"/>
<circle cx="441.5" cy="245.5" r="5.3" fill="#565cc4"/>
<circle cx="472.5" cy="245.0" r="5.3" fill="#b44782"/>
<circle cx="475.0" cy="249.0" r="5.3" fill="#a94a8d"/>
<circle cx="482.0" cy="247.0" r="5.3" fill="#934fa2"/>
<circle cx="528.5" cy="240.0" r="5.3" fill="#e83142"/>
<circle cx="733.1" cy="246.0" r="5.3" fill="#535cc6"/>
<circle cx="712.9" cy="276.6" r="5.3" fill="#4c5eca"/>
<circle cx="729.6" cy="279.2" r="5.3" fill="#605abf"/>
<circle cx="464.0" cy="275.0" r="5.3" fill="#e43447"/>
<circle cx="297.4" cy="276.0" r="5.3" fill="#7156b5"/>
<circle cx="306.5" cy="277.0" r="5.3" fill="#8252ac"/>
<circle cx="314.0" cy="276.5" r="5.3" fill="#7156b5"/>
<circle cx="322.0" cy="276.0" r="5.3" fill="#de3750"/>
<circle cx="328.0" cy="275.5" r="5.3" fill="#8252ac"/>
<circle cx="337.0" cy="276.0" r="5.3" fill="#535cc6"/>
<circle cx="206.3" cy="305.0" r="5.3" fill="#8252ac"/>
<circle cx="222.5" cy="304.5" r="5.3" fill="#4260d0"/>
<circle cx="226.0" cy="304.5" r="5.3" fill="#4260d0"/>
<circle cx="249.3" cy="306.0" r="5.3" fill="#7156b5"/>
<circle cx="253.0" cy="306.5" r="5.3" fill="#7156b5"/>
<circle cx="276.4" cy="305.0" r="5.3" fill="#b44782"/>
<circle cx="279.5" cy="305.0" r="5.3" fill="#b44782"/>
<circle cx="291.0" cy="304.0" r="5.3" fill="#8252ac"/>
<circle cx="295.0" cy="306.0" r="5.3" fill="#535cc6"/>
<circle cx="308.0" cy="306.0" r="5.3" fill="#bf4577"/>
<circle cx="313.0" cy="304.0" r="5.3" fill="#7156b5"/>
<circle cx="319.0" cy="306.0" r="5.3" fill="#b44782"/>
<circle cx="329.0" cy="305.0" r="5.3" fill="#4f5dc8"/>
<circle cx="334.0" cy="304.0" r="5.3" fill="#605abf"/>
<circle cx="684.0" cy="304.5" r="5.3" fill="#4c5eca"/>
<circle cx="617.0" cy="296.9" r="5.3" fill="#535cc6"/>
<circle cx="469.6" cy="329.5" r="5.3" fill="#4c5eca"/>
<circle cx="639.8" cy="333.8" r="5.3" fill="#4c5eca"/>
<circle cx="636.5" cy="360.0" r="5.3" fill="#4c5eca"/>
<circle cx="186.6" cy="361.4" r="5.3" fill="#ca426c"/>
<circle cx="215.7" cy="361.0" r="5.3" fill="#7156b5"/>
<circle cx="221.5" cy="360.5" r="5.3" fill="#de3750"/>
<circle cx="226.0" cy="362.0" r="5.3" fill="#ca426c"/>
<circle cx="232.5" cy="362.0" r="5.3" fill="#7156b5"/>
<circle cx="236.5" cy="360.5" r="5.3" fill="#d13f63"/>
<circle cx="247.8" cy="360.5" r="5.3" fill="#d13f63"/>
<circle cx="252.0" cy="362.0" r="5.3" fill="#7156b5"/>
<circle cx="260.7" cy="361.5" r="5.3" fill="#fc1517"/>
<circle cx="268.8" cy="360.0" r="5.3" fill="#535cc6"/>
<circle cx="289.7" cy="361.0" r="5.3" fill="#565cc4"/>
<circle cx="296.0" cy="361.0" r="5.3" fill="#605abf"/>
<circle cx="301.0" cy="361.5" r="5.3" fill="#605abf"/>
<circle cx="305.0" cy="360.5" r="5.3" fill="#605abf"/>
<circle cx="310.0" cy="361.0" r="5.3" fill="#605abf"/>
<circle cx="315.0" cy="361.0" r="5.3" fill="#605abf"/>
<circle cx="327.0" cy="361.5" r="5.3" fill="#7156b5"/>
<circle cx="336.5" cy="361.0" r="5.3" fill="#565cc4"/>
<circle cx="346.0" cy="361.0" r="5.3" fill="#7156b5"/>
<circle cx="352.0" cy="361.0" r="5.3" fill="#7156b5"/>
<circle cx="366.0" cy="360.0" r="5.3" fill="#7156b5"/>
<circle cx="375.0" cy="359.0" r="5.3" fill="#7854b1"/>
<circle cx="389.3" cy="360.5" r="5.3" fill="#4c5eca"/>
<circle cx="400.0" cy="360.5" r="5.3" fill="#5d5ac1"/>
<circle cx="417.0" cy="361.5" r="5.3" fill="#535cc6"/>
<circle cx="426.0" cy="361.0" r="5.3" fill="#de3750"/>
<circle cx="439.0" cy="360.5" r="5.3" fill="#7156b5"/>
<circle cx="451.5" cy="361.0" r="5.3" fill="#4f5dc8"/>
<circle cx="465.5" cy="361.0" r="5.3" fill="#4f5dc8"/>
<circle cx="474.0" cy="359.5" r="5.3" fill="#5d5ac1"/>
<circle cx="485.0" cy="360.5" r="5.3" fill="#4f5dc8"/>
<circle cx="488.0" cy="360.5" r="5.3" fill="#4f5dc8"/>
<circle cx="497.0" cy="361.0" r="5.3" fill="#4f5dc8"/>
<circle cx="505.0" cy="361.0" r="5.3" fill="#5d5ac1"/>
<circle cx="509.0" cy="359.0" r="5.3" fill="#4f5dc8"/>
<circle cx="519.0" cy="361.0" r="5.3" fill="#5d5ac1"/>
<circle cx="527.0" cy="360.0" r="5.3" fill="#5d5ac1"/>
<circle cx="544.0" cy="360.5" r="5.3" fill="#535cc6"/>
<circle cx="569.6" cy="359.0" r="5.3" fill="#495fcc"/>
<circle cx="722.5" cy="84.5" r="5.3" fill="#4c5eca"/>
<circle cx="737.7" cy="89.8" r="5.3" fill="#535cc6"/>
<circle cx="737.7" cy="93.0" r="5.3" fill="#4f5dc8"/>
<circle cx="709.0" cy="136.0" r="5.3" fill="#4f5dc8"/>
<circle cx="716.0" cy="134.0" r="5.3" fill="#535cc6"/>
<circle cx="724.0" cy="132.0" r="5.3" fill="#535cc6"/>
<circle cx="731.0" cy="133.0" r="5.3" fill="#4c5eca"/>
<circle cx="736.0" cy="132.0" r="5.3" fill="#4c5eca"/>
<path d="M619.8 78.2 C622.6 82.8 631.6 95.9 636.8 105.5 C641.9 115.1 647.0 126.6 650.7 135.9 C654.4 145.2 657.1 154.5 658.8 161.2 C660.5 167.9 661.0 171.2 660.8 176.3 C660.6 181.4 659.7 186.4 657.8 191.5 C655.9 196.6 652.6 202.2 649.5 206.7 C646.4 211.2 643.6 214.1 639.4 218.5 C635.1 222.9 629.8 228.2 624.0 233.0 C618.2 237.8 612.2 242.7 604.5 247.5 C596.8 252.3 587.4 257.2 578.0 262.0 C568.6 266.8 558.0 271.2 548.4 276.0 C538.8 280.8 530.0 285.7 520.5 290.5 C511.1 295.3 503.1 299.8 491.7 305.0 C480.3 310.2 465.5 316.3 452.0 322.0 C438.5 327.7 423.6 334.1 410.8 339.0 C398.0 343.9 385.8 347.8 375.0 351.5 C364.2 355.2 350.8 359.4 346.0 361.0" fill="none" stroke="#000" stroke-width="3.3" stroke-linecap="butt" stroke-linejoin="round"/>
<rect x="92.5" y="63.6" width="778.0" height="312.7" fill="none" stroke="#333" stroke-width="1.15"/>
<line x1="88.5" x2="92.5" y1="76.4" y2="76.4" stroke="#333" stroke-width="1.1"/>
<text x="64.8" y="85.2" font-size="27.3" fill="#4d4d4d" stroke="#4d4d4d" stroke-width="0.4">0</text>
<line x1="88.5" x2="92.5" y1="147.9" y2="147.9" stroke="#333" stroke-width="1.1"/>
<text x="52.6" y="156.7" font-size="27.3" fill="#4d4d4d" stroke="#4d4d4d" stroke-width="0.4">50</text>
<line x1="88.5" x2="92.5" y1="219.3" y2="219.3" stroke="#333" stroke-width="1.1"/>
<text x="40.5" y="228.2" font-size="27.3" fill="#4d4d4d" stroke="#4d4d4d" stroke-width="0.4">100</text>
<line x1="88.5" x2="92.5" y1="290.8" y2="290.8" stroke="#333" stroke-width="1.1"/>
<text x="40.5" y="299.6" font-size="27.3" fill="#4d4d4d" stroke="#4d4d4d" stroke-width="0.4">150</text>
<line x1="88.5" x2="92.5" y1="362.3" y2="362.3" stroke="#333" stroke-width="1.1"/>
<text x="40.5" y="371.1" font-size="27.3" fill="#4d4d4d" stroke="#4d4d4d" stroke-width="0.4">200</text>
<line x1="128.0" x2="128.0" y1="376.3" y2="380.1" stroke="#333" stroke-width="1.1"/>
<line x1="269.4" x2="269.4" y1="376.3" y2="380.1" stroke="#333" stroke-width="1.1"/>
<line x1="410.9" x2="410.9" y1="376.3" y2="380.1" stroke="#333" stroke-width="1.1"/>
<line x1="552.5" x2="552.5" y1="376.3" y2="380.1" stroke="#333" stroke-width="1.1"/>
<line x1="694.0" x2="694.0" y1="376.3" y2="380.1" stroke="#333" stroke-width="1.1"/>
<line x1="835.5" x2="835.5" y1="376.3" y2="380.1" stroke="#333" stroke-width="1.1"/>
<text x="113.5" y="52.9" font-size="34.0" letter-spacing="1" fill="#000" stroke="#000" stroke-width="0.6">BATS</text>
</g>
<g>
<line x1="198.7" x2="198.7" y1="424.5" y2="736.6" stroke="#eeeeee" stroke-width="0.7"/>
<line x1="340.2" x2="340.2" y1="424.5" y2="736.6" stroke="#eeeeee" stroke-width="0.7"/>
<line x1="481.7" x2="481.7" y1="424.5" y2="736.6" stroke="#eeeeee" stroke-width="0.7"/>
<line x1="623.2" x2="623.2" y1="424.5" y2="736.6" stroke="#eeeeee" stroke-width="0.7"/>
<line x1="764.7" x2="764.7" y1="424.5" y2="736.6" stroke="#eeeeee" stroke-width="0.7"/>
<line x1="92.5" x2="870.5" y1="474.0" y2="474.0" stroke="#eeeeee" stroke-width="0.7"/>
<line x1="92.5" x2="870.5" y1="545.1" y2="545.1" stroke="#eeeeee" stroke-width="0.7"/>
<line x1="92.5" x2="870.5" y1="616.1" y2="616.1" stroke="#eeeeee" stroke-width="0.7"/>
<line x1="92.5" x2="870.5" y1="687.2" y2="687.2" stroke="#eeeeee" stroke-width="0.7"/>
<line x1="128.0" x2="128.0" y1="424.5" y2="736.6" stroke="#ebebeb" stroke-width="1.35"/>
<line x1="269.4" x2="269.4" y1="424.5" y2="736.6" stroke="#ebebeb" stroke-width="1.35"/>
<line x1="410.9" x2="410.9" y1="424.5" y2="736.6" stroke="#ebebeb" stroke-width="1.35"/>
<line x1="552.5" x2="552.5" y1="424.5" y2="736.6" stroke="#ebebeb" stroke-width="1.35"/>
<line x1="694.0" x2="694.0" y1="424.5" y2="736.6" stroke="#ebebeb" stroke-width="1.35"/>
<line x1="835.5" x2="835.5" y1="424.5" y2="736.6" stroke="#ebebeb" stroke-width="1.35"/>
<line x1="92.5" x2="870.5" y1="438.5" y2="438.5" stroke="#ebebeb" stroke-width="1.35"/>
<line x1="92.5" x2="870.5" y1="509.6" y2="509.6" stroke="#ebebeb" stroke-width="1.35"/>
<line x1="92.5" x2="870.5" y1="580.6" y2="580.6" stroke="#ebebeb" stroke-width="1.35"/>
<line x1="92.5" x2="870.5" y1="651.7" y2="651.7" stroke="#ebebeb" stroke-width="1.35"/>
<line x1="92.5" x2="870.5" y1="722.7" y2="722.7" stroke="#ebebeb" stroke-width="1.35"/>
<circle cx="555.6" cy="444.8" r="5.3" fill="#5a5bc3"/>
<circle cx="562.0" cy="444.5" r="5.3" fill="#5a5bc3"/>
<circle cx="597.8" cy="445.0" r="5.3" fill="#5a5bc3"/>
<circle cx="604.0" cy="445.0" r="5.3" fill="#475fcd"/>
<circle cx="603.0" cy="449.0" r="5.3" fill="#475fcd"/>
<circle cx="598.0" cy="457.4" r="5.3" fill="#5a5bc3"/>
<circle cx="598.6" cy="473.0" r="5.3" fill="#5a5bc3"/>
<circle cx="607.0" cy="473.5" r="5.3" fill="#475fcd"/>
<circle cx="588.5" cy="503.0" r="5.3" fill="#5a5bc3"/>
<circle cx="601.0" cy="503.0" r="5.3" fill="#475fcd"/>
<circle cx="606.0" cy="501.0" r="5.3" fill="#475fcd"/>
<circle cx="658.4" cy="458.0" r="5.3" fill="#475fcd"/>
<circle cx="681.0" cy="452.0" r="5.3" fill="#475fcd"/>
<circle cx="734.0" cy="458.0" r="5.3" fill="#475fcd"/>
<circle cx="745.7" cy="460.0" r="5.3" fill="#475fcd"/>
<circle cx="654.6" cy="478.0" r="5.3" fill="#475fcd"/>
<circle cx="681.0" cy="480.0" r="5.3" fill="#475fcd"/>
<circle cx="711.5" cy="481.0" r="5.3" fill="#475fcd"/>
<circle cx="736.8" cy="487.0" r="5.3" fill="#475fcd"/>
<circle cx="753.0" cy="487.0" r="5.3" fill="#475fcd"/>
<circle cx="757.0" cy="494.0" r="5.3" fill="#475fcd"/>
<circle cx="700.0" cy="513.6" r="5.3" fill="#475fcd"/>
<circle cx="744.0" cy="512.0" r="5.3" fill="#475fcd"/>
<circle cx="760.8" cy="515.6" r="5.3" fill="#475fcd"/>
<circle cx="703.0" cy="530.0" r="5.3" fill="#475fcd"/>
<circle cx="712.8" cy="523.7" r="5.3" fill="#475fcd"/>
<circle cx="722.9" cy="520.7" r="5.3" fill="#475fcd"/>
<circle cx="734.0" cy="524.0" r="5.3" fill="#475fcd"/>
<circle cx="744.4" cy="524.0" r="5.3" fill="#475fcd"/>
<circle cx="758.8" cy="530.0" r="5.3" fill="#475fcd"/>
<circle cx="774.7" cy="523.0" r="5.3" fill="#475fcd"/>
<circle cx="618.7" cy="545.0" r="5.3" fill="#475fcd"/>
<circle cx="678.6" cy="563.4" r="5.3" fill="#475fcd"/>
<circle cx="691.0" cy="565.0" r="5.3" fill="#475fcd"/>
<circle cx="699.0" cy="565.0" r="5.3" fill="#475fcd"/>
<circle cx="652.0" cy="594.0" r="5.3" fill="#475fcd"/>
<circle cx="640.7" cy="600.5" r="5.3" fill="#475fcd"/>
<circle cx="609.8" cy="602.5" r="5.3" fill="#475fcd"/>
<circle cx="599.0" cy="609.3" r="5.3" fill="#5a5bc3"/>
<circle cx="673.6" cy="605.5" r="5.3" fill="#475fcd"/>
<circle cx="691.0" cy="593.0" r="5.3" fill="#475fcd"/>
<circle cx="702.7" cy="606.8" r="5.3" fill="#475fcd"/>
<circle cx="718.0" cy="598.0" r="5.3" fill="#475fcd"/>
<circle cx="733.0" cy="594.0" r="5.3" fill="#475fcd"/>
<circle cx="742.0" cy="600.0" r="5.3" fill="#475fcd"/>
<circle cx="752.0" cy="594.0" r="5.3" fill="#475fcd"/>
<circle cx="725.4" cy="606.0" r="5.3" fill="#475fcd"/>
<circle cx="744.4" cy="608.0" r="5.3" fill="#475fcd"/>
<circle cx="757.0" cy="616.0" r="5.3" fill="#475fcd"/>
<circle cx="594.0" cy="628.8" r="5.3" fill="#5a5bc3"/>
<circle cx="591.4" cy="636.0" r="5.3" fill="#5a5bc3"/>
<circle cx="586.0" cy="643.5" r="5.3" fill="#5a5bc3"/>
<circle cx="627.5" cy="633.0" r="5.3" fill="#475fcd"/>
<circle cx="637.7" cy="628.0" r="5.3" fill="#475fcd"/>
<circle cx="643.0" cy="637.0" r="5.3" fill="#475fcd"/>
<circle cx="657.0" cy="629.5" r="5.3" fill="#475fcd"/>
<circle cx="675.6" cy="638.4" r="5.3" fill="#475fcd"/>
<circle cx="697.6" cy="630.8" r="5.3" fill="#475fcd"/>
<circle cx="673.6" cy="643.5" r="5.3" fill="#475fcd"/>
<circle cx="683.0" cy="649.0" r="5.3" fill="#475fcd"/>
<circle cx="711.0" cy="651.0" r="5.3" fill="#475fcd"/>
<circle cx="649.5" cy="658.0" r="5.3" fill="#475fcd"/>
<circle cx="631.3" cy="666.2" r="5.3" fill="#475fcd"/>
<circle cx="561.3" cy="613.6" r="5.3" fill="#5a5bc3"/>
<circle cx="567.0" cy="614.5" r="5.3" fill="#5a5bc3"/>
<circle cx="573.0" cy="615.5" r="5.3" fill="#5a5bc3"/>
<circle cx="584.0" cy="619.0" r="5.3" fill="#5a5bc3"/>
<circle cx="592.0" cy="617.0" r="5.3" fill="#5a5bc3"/>
<circle cx="598.0" cy="612.0" r="5.3" fill="#5a5bc3"/>
<circle cx="469.5" cy="651.0" r="5.3" fill="#5a5bc3"/>
<circle cx="486.0" cy="649.0" r="5.3" fill="#5a5bc3"/>
<circle cx="486.0" cy="652.5" r="5.3" fill="#5a5bc3"/>
<circle cx="524.0" cy="649.0" r="5.3" fill="#5a5bc3"/>
<circle cx="527.0" cy="653.0" r="5.3" fill="#5a5bc3"/>
<circle cx="536.8" cy="643.7" r="5.3" fill="#5a5bc3"/>
<circle cx="534.7" cy="656.0" r="5.3" fill="#5a5bc3"/>
<circle cx="537.8" cy="660.0" r="5.3" fill="#5a5bc3"/>
<circle cx="544.3" cy="651.0" r="5.3" fill="#5a5bc3"/>
<circle cx="581.5" cy="655.0" r="5.3" fill="#5a5bc3"/>
<circle cx="586.6" cy="645.0" r="5.3" fill="#5a5bc3"/>
<circle cx="592.0" cy="637.0" r="5.3" fill="#5a5bc3"/>
<circle cx="595.0" cy="629.0" r="5.3" fill="#5a5bc3"/>
<circle cx="416.6" cy="687.0" r="5.3" fill="#5a5bc3"/>
<circle cx="431.6" cy="685.5" r="5.3" fill="#5a5bc3"/>
<circle cx="456.3" cy="686.0" r="5.3" fill="#5a5bc3"/>
<circle cx="459.4" cy="684.0" r="5.3" fill="#5a5bc3"/>
<circle cx="458.9" cy="692.0" r="5.3" fill="#5a5bc3"/>
<circle cx="471.5" cy="685.0" r="5.3" fill="#5a5bc3"/>
<circle cx="475.3" cy="687.5" r="5.3" fill="#5a5bc3"/>
<circle cx="485.4" cy="691.0" r="5.3" fill="#5a5bc3"/>
<circle cx="494.3" cy="689.0" r="5.3" fill="#5a5bc3"/>
<circle cx="501.9" cy="687.0" r="5.3" fill="#5a5bc3"/>
<circle cx="512.0" cy="687.0" r="5.3" fill="#5a5bc3"/>
<circle cx="522.0" cy="686.0" r="5.3" fill="#5a5bc3"/>
<circle cx="524.6" cy="697.0" r="5.3" fill="#5a5bc3"/>
<circle cx="532.0" cy="686.0" r="5.3" fill="#5a5bc3"/>
<circle cx="534.7" cy="693.0" r="5.3" fill="#5a5bc3"/>
<circle cx="539.8" cy="686.0" r="5.3" fill="#5a5bc3"/>
<circle cx="550.0" cy="685.0" r="5.3" fill="#5a5bc3"/>
<circle cx="558.8" cy="686.0" r="5.3" fill="#5a5bc3"/>
<circle cx="565.0" cy="690.0" r="5.3" fill="#5a5bc3"/>
<circle cx="625.5" cy="687.0" r="5.3" fill="#475fcd"/>
<circle cx="637.0" cy="687.0" r="5.3" fill="#475fcd"/>
<circle cx="379.5" cy="616.4" r="5.3" fill="#7854b1"/>
<circle cx="627.0" cy="445.3" r="5.3" fill="#535cc6"/>
<circle cx="660.0" cy="445.3" r="5.3" fill="#4c5eca"/>
<circle cx="659.6" cy="444.9" r="5.3" fill="#4260d0"/>
<circle cx="648.2" cy="443.7" r="5.3" fill="#475fcd"/>
<circle cx="655.8" cy="447.4" r="5.3" fill="#4a5ecc"/>
<circle cx="634.2" cy="446.3" r="5.3" fill="#4f5dc8"/>
<circle cx="648.2" cy="447.8" r="5.3" fill="#4d5eca"/>
<circle cx="633.1" cy="445.9" r="5.3" fill="#495ecc"/>
<circle cx="646.0" cy="445.3" r="5.3" fill="#4260d0"/>
<circle cx="637.7" cy="446.8" r="5.3" fill="#505dc8"/>
<circle cx="638.9" cy="447.4" r="5.3" fill="#505dc8"/>
<circle cx="639.4" cy="443.1" r="5.3" fill="#4360d0"/>
<circle cx="645.2" cy="445.8" r="5.3" fill="#4d5eca"/>
<circle cx="645.1" cy="444.3" r="5.3" fill="#4360cf"/>
<circle cx="659.0" cy="445.2" r="5.3" fill="#495fcc"/>
<circle cx="656.9" cy="444.4" r="5.3" fill="#4260d0"/>
<circle cx="627.3" cy="444.2" r="5.3" fill="#545cc5"/>
<circle cx="645.9" cy="444.4" r="5.3" fill="#4260d0"/>
<circle cx="654.9" cy="444.7" r="5.3" fill="#465fce"/>
<circle cx="628.2" cy="446.2" r="5.3" fill="#4b5ecb"/>
<circle cx="644.5" cy="445.9" r="5.3" fill="#4260d0"/>
<circle cx="636.5" cy="445.0" r="5.3" fill="#565cc4"/>
<circle cx="638.7" cy="446.6" r="5.3" fill="#515dc7"/>
<circle cx="628.4" cy="444.7" r="5.3" fill="#595bc3"/>
<circle cx="631.4" cy="444.3" r="5.3" fill="#465fce"/>
<circle cx="629.2" cy="445.9" r="5.3" fill="#465fce"/>
<circle cx="632.3" cy="444.4" r="5.3" fill="#515dc7"/>
<circle cx="629.9" cy="445.5" r="5.3" fill="#585bc4"/>
<circle cx="657.0" cy="447.4" r="5.3" fill="#4360cf"/>
<circle cx="646.3" cy="443.4" r="5.3" fill="#4d5ec9"/>
<circle cx="643.4" cy="445.2" r="5.3" fill="#4e5dc9"/>
<circle cx="636.9" cy="446.8" r="5.3" fill="#585bc4"/>
<circle cx="675.0" cy="444.5" r="5.3" fill="#535cc6"/>
<circle cx="757.0" cy="444.5" r="5.3" fill="#4c5eca"/>
<circle cx="754.0" cy="445.8" r="5.3" fill="#485fcd"/>
<circle cx="708.0" cy="445.9" r="5.3" fill="#4260d0"/>
<circle cx="739.7" cy="446.0" r="5.3" fill="#4260d0"/>
<circle cx="698.3" cy="446.2" r="5.3" fill="#4e5dc9"/>
<circle cx="684.5" cy="443.2" r="5.3" fill="#485fcd"/>
<circle cx="728.0" cy="444.6" r="5.3" fill="#465fce"/>
<circle cx="693.9" cy="443.5" r="5.3" fill="#465fce"/>
<circle cx="748.2" cy="445.8" r="5.3" fill="#4260d0"/>
<circle cx="707.3" cy="442.5" r="5.3" fill="#485fcd"/>
<circle cx="712.7" cy="444.8" r="5.3" fill="#4260d0"/>
<circle cx="707.3" cy="444.3" r="5.3" fill="#4260d0"/>
<circle cx="699.7" cy="447.4" r="5.3" fill="#465fce"/>
<circle cx="731.6" cy="444.5" r="5.3" fill="#505dc8"/>
<circle cx="734.2" cy="444.2" r="5.3" fill="#4460cf"/>
<circle cx="695.6" cy="443.3" r="5.3" fill="#455fce"/>
<circle cx="751.8" cy="444.2" r="5.3" fill="#455fce"/>
<circle cx="704.6" cy="442.7" r="5.3" fill="#4260d0"/>
<circle cx="738.4" cy="445.5" r="5.3" fill="#4260d0"/>
<circle cx="731.2" cy="445.0" r="5.3" fill="#4f5dc8"/>
<circle cx="708.7" cy="445.0" r="5.3" fill="#4260d0"/>
<circle cx="701.4" cy="444.1" r="5.3" fill="#4c5eca"/>
<circle cx="711.9" cy="444.0" r="5.3" fill="#4260d0"/>
<circle cx="742.1" cy="442.2" r="5.3" fill="#4460cf"/>
<circle cx="719.6" cy="446.4" r="5.3" fill="#455fce"/>
<circle cx="741.6" cy="444.4" r="5.3" fill="#475fcd"/>
<circle cx="745.1" cy="444.8" r="5.3" fill="#4e5dc9"/>
<circle cx="735.7" cy="443.6" r="5.3" fill="#4e5dc9"/>
<circle cx="679.6" cy="442.0" r="5.3" fill="#465fce"/>
<circle cx="727.2" cy="445.3" r="5.3" fill="#4360cf"/>
<circle cx="686.2" cy="444.9" r="5.3" fill="#4260d0"/>
<circle cx="712.3" cy="446.3" r="5.3" fill="#455fce"/>
<circle cx="718.3" cy="444.6" r="5.3" fill="#4460cf"/>
<circle cx="679.6" cy="445.2" r="5.3" fill="#4260d0"/>
<circle cx="688.7" cy="445.8" r="5.3" fill="#485fcd"/>
<circle cx="735.3" cy="444.7" r="5.3" fill="#4260d0"/>
<circle cx="680.9" cy="443.5" r="5.3" fill="#4260d0"/>
<circle cx="728.3" cy="444.4" r="5.3" fill="#4360cf"/>
<circle cx="748.1" cy="442.7" r="5.3" fill="#4260d0"/>
<circle cx="749.4" cy="446.5" r="5.3" fill="#4260d0"/>
<circle cx="710.8" cy="442.6" r="5.3" fill="#515dc8"/>
<circle cx="706.1" cy="444.3" r="5.3" fill="#4460cf"/>
<circle cx="691.7" cy="444.9" r="5.3" fill="#4260d0"/>
<circle cx="700.3" cy="447.3" r="5.3" fill="#4f5dc9"/>
<circle cx="731.7" cy="448.0" r="5.3" fill="#475fcd"/>
<circle cx="705.0" cy="444.8" r="5.3" fill="#485fcd"/>
<circle cx="709.5" cy="448.3" r="5.3" fill="#4260d0"/>
<circle cx="678.9" cy="444.3" r="5.3" fill="#4260d0"/>
<circle cx="739.6" cy="444.1" r="5.3" fill="#485fcc"/>
<circle cx="743.4" cy="443.8" r="5.3" fill="#555cc5"/>
<circle cx="720.8" cy="446.5" r="5.3" fill="#4260d0"/>
<circle cx="705.8" cy="443.2" r="5.3" fill="#485fcd"/>
<circle cx="728.7" cy="442.1" r="5.3" fill="#4260d0"/>
<circle cx="737.5" cy="444.9" r="5.3" fill="#4360d0"/>
<circle cx="680.5" cy="445.2" r="5.3" fill="#475fcd"/>
<circle cx="744.5" cy="444.3" r="5.3" fill="#575cc4"/>
<circle cx="735.2" cy="447.2" r="5.3" fill="#485fcd"/>
<circle cx="710.0" cy="444.9" r="5.3" fill="#4e5dc9"/>
<circle cx="748.1" cy="442.5" r="5.3" fill="#445fcf"/>
<circle cx="729.5" cy="444.8" r="5.3" fill="#475fcd"/>
<circle cx="740.9" cy="442.4" r="5.3" fill="#4260d0"/>
<circle cx="742.4" cy="442.4" r="5.3" fill="#4260d0"/>
<circle cx="729.6" cy="447.2" r="5.3" fill="#4260d0"/>
<circle cx="727.6" cy="445.0" r="5.3" fill="#495ecc"/>
<circle cx="697.9" cy="448.0" r="5.3" fill="#4c5ecb"/>
<circle cx="752.1" cy="444.7" r="5.3" fill="#485fcc"/>
<circle cx="734.3" cy="447.7" r="5.3" fill="#525cc7"/>
<circle cx="747.5" cy="442.9" r="5.3" fill="#4460cf"/>
<circle cx="678.6" cy="442.5" r="5.3" fill="#4260d0"/>
<circle cx="684.6" cy="446.8" r="5.3" fill="#485fcd"/>
<circle cx="706.8" cy="443.3" r="5.3" fill="#4260d0"/>
<circle cx="695.0" cy="448.0" r="5.3" fill="#535cc6"/>
<circle cx="745.0" cy="448.0" r="5.3" fill="#4c5eca"/>
<circle cx="732.4" cy="445.4" r="5.3" fill="#4c5ecb"/>
<circle cx="744.3" cy="448.6" r="5.3" fill="#4260d0"/>
<circle cx="698.9" cy="447.1" r="5.3" fill="#4260d0"/>
<circle cx="700.9" cy="447.7" r="5.3" fill="#465fce"/>
<circle cx="732.7" cy="447.2" r="5.3" fill="#455fce"/>
<circle cx="740.4" cy="447.2" r="5.3" fill="#4260d0"/>
<circle cx="744.1" cy="448.0" r="5.3" fill="#4260d0"/>
<circle cx="736.2" cy="446.4" r="5.3" fill="#4260d0"/>
<circle cx="699.2" cy="447.1" r="5.3" fill="#4b5ecb"/>
<circle cx="713.3" cy="449.7" r="5.3" fill="#4260d0"/>
<circle cx="702.1" cy="449.4" r="5.3" fill="#475fcd"/>
<circle cx="731.3" cy="448.1" r="5.3" fill="#4260d0"/>
<circle cx="700.4" cy="451.4" r="5.3" fill="#4a5ecb"/>
<circle cx="704.9" cy="446.4" r="5.3" fill="#4a5ecc"/>
<circle cx="725.8" cy="446.6" r="5.3" fill="#4260d0"/>
<circle cx="736.8" cy="449.6" r="5.3" fill="#475fcd"/>
<circle cx="711.7" cy="447.2" r="5.3" fill="#4260d0"/>
<circle cx="718.9" cy="447.7" r="5.3" fill="#4b5ecb"/>
<circle cx="695.1" cy="447.9" r="5.3" fill="#4260d0"/>
<circle cx="717.8" cy="449.8" r="5.3" fill="#465fce"/>
<circle cx="626.0" cy="473.0" r="5.3" fill="#535cc6"/>
<circle cx="655.0" cy="473.0" r="5.3" fill="#4c5eca"/>
<circle cx="627.5" cy="474.6" r="5.3" fill="#445fcf"/>
<circle cx="648.0" cy="474.4" r="5.3" fill="#4260d0"/>
<circle cx="628.2" cy="474.2" r="5.3" fill="#535cc6"/>
<circle cx="647.8" cy="474.7" r="5.3" fill="#515dc8"/>
<circle cx="654.9" cy="472.9" r="5.3" fill="#465fce"/>
<circle cx="629.9" cy="472.8" r="5.3" fill="#515dc7"/>
<circle cx="652.1" cy="472.3" r="5.3" fill="#4260d0"/>
<circle cx="654.9" cy="473.2" r="5.3" fill="#4b5ecb"/>
<circle cx="643.3" cy="474.1" r="5.3" fill="#4260d0"/>
<circle cx="636.7" cy="473.9" r="5.3" fill="#505dc8"/>
<circle cx="646.1" cy="470.4" r="5.3" fill="#4260d0"/>
<circle cx="652.6" cy="474.5" r="5.3" fill="#4260d0"/>
<circle cx="643.9" cy="474.2" r="5.3" fill="#4260d0"/>
<circle cx="646.0" cy="473.0" r="5.3" fill="#4c5eca"/>
<circle cx="650.4" cy="473.4" r="5.3" fill="#4260d0"/>
<circle cx="635.2" cy="474.1" r="5.3" fill="#4f5dc9"/>
<circle cx="638.1" cy="470.6" r="5.3" fill="#495fcc"/>
<circle cx="646.3" cy="475.1" r="5.3" fill="#4e5dc9"/>
<circle cx="653.5" cy="472.0" r="5.3" fill="#4360cf"/>
<circle cx="649.4" cy="475.3" r="5.3" fill="#455fce"/>
<circle cx="635.1" cy="476.2" r="5.3" fill="#475fcd"/>
<circle cx="654.2" cy="472.5" r="5.3" fill="#4260d0"/>
<circle cx="636.7" cy="471.3" r="5.3" fill="#585bc3"/>
<circle cx="649.3" cy="473.5" r="5.3" fill="#505dc8"/>
<circle cx="632.3" cy="474.6" r="5.3" fill="#535cc6"/>
<circle cx="631.0" cy="472.9" r="5.3" fill="#505dc8"/>
<circle cx="642.5" cy="473.5" r="5.3" fill="#495fcc"/>
<circle cx="649.1" cy="472.0" r="5.3" fill="#4d5ec9"/>
<circle cx="673.0" cy="473.0" r="5.3" fill="#535cc6"/>
<circle cx="765.0" cy="473.0" r="5.3" fill="#4c5eca"/>
<circle cx="680.9" cy="472.2" r="5.3" fill="#445fcf"/>
<circle cx="687.7" cy="473.3" r="5.3" fill="#4260d0"/>
<circle cx="727.8" cy="472.2" r="5.3" fill="#4b5ecb"/>
<circle cx="753.2" cy="474.9" r="5.3" fill="#4260d0"/>
<circle cx="761.9" cy="468.9" r="5.3" fill="#545cc6"/>
<circle cx="743.2" cy="476.2" r="5.3" fill="#455fce"/>
<circle cx="721.2" cy="474.6" r="5.3" fill="#4260d0"/>
<circle cx="755.0" cy="472.3" r="5.3" fill="#485fcd"/>
<circle cx="710.4" cy="470.9" r="5.3" fill="#495fcc"/>
<circle cx="738.8" cy="474.2" r="5.3" fill="#4e5ec9"/>
<circle cx="753.6" cy="474.0" r="5.3" fill="#4360d0"/>
<circle cx="759.6" cy="473.2" r="5.3" fill="#4260d0"/>
<circle cx="710.2" cy="476.1" r="5.3" fill="#4460cf"/>
<circle cx="712.4" cy="473.3" r="5.3" fill="#455fce"/>
<circle cx="674.1" cy="472.6" r="5.3" fill="#475fcd"/>
<circle cx="742.0" cy="476.6" r="5.3" fill="#4460cf"/>
<circle cx="711.3" cy="474.8" r="5.3" fill="#455fce"/>
<circle cx="705.7" cy="471.6" r="5.3" fill="#495fcc"/>
<circle cx="712.5" cy="473.0" r="5.3" fill="#4460cf"/>
<circle cx="678.1" cy="470.9" r="5.3" fill="#495fcc"/>
<circle cx="694.3" cy="474.9" r="5.3" fill="#4a5ecb"/>
<circle cx="706.5" cy="474.5" r="5.3" fill="#4260d0"/>
<circle cx="679.0" cy="476.3" r="5.3" fill="#4260d0"/>
<circle cx="724.0" cy="472.6" r="5.3" fill="#4a5ecb"/>
<circle cx="730.6" cy="472.5" r="5.3" fill="#4260d0"/>
<circle cx="678.5" cy="471.9" r="5.3" fill="#4260d0"/>
<circle cx="728.1" cy="476.5" r="5.3" fill="#4460cf"/>
<circle cx="702.8" cy="471.2" r="5.3" fill="#475fcd"/>
<circle cx="757.0" cy="470.8" r="5.3" fill="#4260d0"/>
<circle cx="736.6" cy="474.4" r="5.3" fill="#4260d0"/>
<circle cx="745.5" cy="471.9" r="5.3" fill="#4260d0"/>
<circle cx="703.3" cy="474.6" r="5.3" fill="#465fce"/>
<circle cx="690.2" cy="471.6" r="5.3" fill="#455fce"/>
<circle cx="738.5" cy="475.9" r="5.3" fill="#4260d0"/>
<circle cx="679.0" cy="472.0" r="5.3" fill="#4260d0"/>
<circle cx="739.1" cy="471.7" r="5.3" fill="#4b5ecb"/>
<circle cx="675.8" cy="473.1" r="5.3" fill="#4260d0"/>
<circle cx="715.3" cy="476.0" r="5.3" fill="#4260d0"/>
<circle cx="722.1" cy="470.8" r="5.3" fill="#4360cf"/>
<circle cx="709.9" cy="473.0" r="5.3" fill="#465fce"/>
<circle cx="753.1" cy="472.9" r="5.3" fill="#4260d0"/>
<circle cx="697.9" cy="474.9" r="5.3" fill="#495ecc"/>
<circle cx="699.6" cy="474.4" r="5.3" fill="#4260d0"/>
<circle cx="730.6" cy="475.3" r="5.3" fill="#4260d0"/>
<circle cx="682.8" cy="475.4" r="5.3" fill="#4360d0"/>
<circle cx="706.5" cy="474.4" r="5.3" fill="#525dc7"/>
<circle cx="682.3" cy="473.2" r="5.3" fill="#4c5eca"/>
<circle cx="696.7" cy="471.9" r="5.3" fill="#485fcc"/>
<circle cx="754.6" cy="474.5" r="5.3" fill="#4260d0"/>
<circle cx="679.3" cy="471.0" r="5.3" fill="#4b5ecb"/>
<circle cx="713.0" cy="475.6" r="5.3" fill="#4b5ecb"/>
<circle cx="676.7" cy="474.6" r="5.3" fill="#4a5ecc"/>
<circle cx="683.4" cy="470.8" r="5.3" fill="#4f5dc8"/>
<circle cx="697.1" cy="474.8" r="5.3" fill="#4a5ecc"/>
<circle cx="723.8" cy="472.7" r="5.3" fill="#485fcc"/>
<circle cx="758.1" cy="474.0" r="5.3" fill="#4c5eca"/>
<circle cx="703.8" cy="466.9" r="5.3" fill="#4a5ecb"/>
<circle cx="752.8" cy="473.4" r="5.3" fill="#4a5ecb"/>
<circle cx="689.3" cy="475.0" r="5.3" fill="#495fcc"/>
<circle cx="757.1" cy="472.6" r="5.3" fill="#4f5dc9"/>
<circle cx="725.1" cy="476.3" r="5.3" fill="#485fcc"/>
<circle cx="758.6" cy="474.9" r="5.3" fill="#485fcd"/>
<circle cx="725.1" cy="469.9" r="5.3" fill="#465fcd"/>
<circle cx="749.5" cy="472.3" r="5.3" fill="#4a5ecc"/>
<circle cx="701.0" cy="471.0" r="5.3" fill="#4360cf"/>
<circle cx="702.5" cy="470.8" r="5.3" fill="#4260d0"/>
<circle cx="735.5" cy="472.8" r="5.3" fill="#4260d0"/>
<circle cx="708.4" cy="470.7" r="5.3" fill="#4260d0"/>
<circle cx="734.8" cy="471.9" r="5.3" fill="#4b5ecb"/>
<circle cx="677.2" cy="473.8" r="5.3" fill="#4260d0"/>
<circle cx="727.7" cy="470.8" r="5.3" fill="#505dc8"/>
<circle cx="675.0" cy="473.7" r="5.3" fill="#485fcd"/>
<circle cx="728.9" cy="473.8" r="5.3" fill="#495ecc"/>
<circle cx="755.6" cy="475.0" r="5.3" fill="#465fcd"/>
<circle cx="674.2" cy="473.5" r="5.3" fill="#4260d0"/>
<circle cx="713.6" cy="471.3" r="5.3" fill="#4260d0"/>
<circle cx="673.1" cy="473.2" r="5.3" fill="#4260d0"/>
<circle cx="702.6" cy="472.7" r="5.3" fill="#4c5eca"/>
<circle cx="693.5" cy="473.4" r="5.3" fill="#4a5ecc"/>
<circle cx="763.6" cy="471.0" r="5.3" fill="#4260d0"/>
<circle cx="705.0" cy="478.0" r="5.3" fill="#535cc6"/>
<circle cx="755.0" cy="478.0" r="5.3" fill="#4c5eca"/>
<circle cx="710.1" cy="478.9" r="5.3" fill="#455fce"/>
<circle cx="706.5" cy="479.3" r="5.3" fill="#4260d0"/>
<circle cx="742.2" cy="476.5" r="5.3" fill="#4260d0"/>
<circle cx="706.2" cy="474.7" r="5.3" fill="#4f5dc9"/>
<circle cx="736.6" cy="476.0" r="5.3" fill="#495ecc"/>
<circle cx="746.1" cy="476.7" r="5.3" fill="#4a5ecc"/>
<circle cx="729.8" cy="477.6" r="5.3" fill="#485fcd"/>
<circle cx="738.6" cy="478.2" r="5.3" fill="#4260d0"/>
<circle cx="705.5" cy="475.5" r="5.3" fill="#4d5eca"/>
<circle cx="711.6" cy="479.9" r="5.3" fill="#4e5dc9"/>
<circle cx="731.7" cy="477.9" r="5.3" fill="#4460cf"/>
<circle cx="740.2" cy="478.3" r="5.3" fill="#4260d0"/>
<circle cx="731.2" cy="480.3" r="5.3" fill="#4460cf"/>
<circle cx="753.7" cy="477.0" r="5.3" fill="#4460cf"/>
<circle cx="714.2" cy="473.9" r="5.3" fill="#455fce"/>
<circle cx="740.0" cy="476.1" r="5.3" fill="#465fce"/>
<circle cx="752.4" cy="476.1" r="5.3" fill="#4b5ecb"/>
<circle cx="740.8" cy="478.8" r="5.3" fill="#4260d0"/>
<circle cx="629.0" cy="502.0" r="5.3" fill="#535cc6"/>
<circle cx="772.0" cy="502.0" r="5.3" fill="#4c5eca"/>
<circle cx="676.5" cy="505.1" r="5.3" fill="#4260d0"/>
<circle cx="646.7" cy="501.3" r="5.3" fill="#485fcd"/>
<circle cx="691.9" cy="501.3" r="5.3" fill="#4260d0"/>
<circle cx="734.4" cy="504.7" r="5.3" fill="#455fce"/>
<circle cx="635.7" cy="501.1" r="5.3" fill="#525dc7"/>
<circle cx="731.4" cy="501.6" r="5.3" fill="#535cc7"/>
<circle cx="746.0" cy="500.8" r="5.3" fill="#4b5ecb"/>
<circle cx="701.6" cy="499.2" r="5.3" fill="#4460cf"/>
<circle cx="729.6" cy="502.6" r="5.3" fill="#485fcc"/>
<circle cx="702.2" cy="499.8" r="5.3" fill="#525dc7"/>
<circle cx="682.8" cy="503.1" r="5.3" fill="#4260d0"/>
<circle cx="737.9" cy="505.4" r="5.3" fill="#4260d0"/>
<circle cx="691.4" cy="498.8" r="5.3" fill="#4260d0"/>
<circle cx="699.1" cy="503.7" r="5.3" fill="#4d5eca"/>
<circle cx="664.8" cy="504.1" r="5.3" fill="#4260d0"/>
<circle cx="669.6" cy="501.8" r="5.3" fill="#4260d0"/>
<circle cx="732.7" cy="500.8" r="5.3" fill="#455fce"/>
<circle cx="696.2" cy="503.8" r="5.3" fill="#4360cf"/>
<circle cx="763.5" cy="505.4" r="5.3" fill="#4260d0"/>
<circle cx="632.7" cy="501.5" r="5.3" fill="#5a5bc2"/>
<circle cx="707.2" cy="503.1" r="5.3" fill="#4260d0"/>
<circle cx="726.6" cy="500.7" r="5.3" fill="#4460cf"/>
<circle cx="638.3" cy="503.8" r="5.3" fill="#585bc3"/>
<circle cx="674.2" cy="503.9" r="5.3" fill="#4260d0"/>
<circle cx="757.1" cy="504.1" r="5.3" fill="#465fce"/>
<circle cx="690.7" cy="501.3" r="5.3" fill="#4260d0"/>
<circle cx="688.8" cy="505.3" r="5.3" fill="#515dc8"/>
<circle cx="671.5" cy="503.3" r="5.3" fill="#565cc5"/>
<circle cx="672.8" cy="503.6" r="5.3" fill="#4d5eca"/>
<circle cx="676.9" cy="501.4" r="5.3" fill="#495fcc"/>
<circle cx="747.8" cy="500.6" r="5.3" fill="#4e5dc9"/>
<circle cx="711.0" cy="501.0" r="5.3" fill="#465fce"/>
<circle cx="650.1" cy="500.3" r="5.3" fill="#485fcd"/>
<circle cx="631.1" cy="503.2" r="5.3" fill="#4e5dc9"/>
<circle cx="697.7" cy="499.8" r="5.3" fill="#445fcf"/>
<circle cx="647.0" cy="501.4" r="5.3" fill="#4460cf"/>
<circle cx="753.3" cy="501.5" r="5.3" fill="#555cc5"/>
<circle cx="751.9" cy="501.8" r="5.3" fill="#495fcc"/>
<circle cx="691.1" cy="502.9" r="5.3" fill="#4360d0"/>
<circle cx="732.0" cy="500.0" r="5.3" fill="#4260d0"/>
<circle cx="702.4" cy="501.8" r="5.3" fill="#4460cf"/>
<circle cx="712.1" cy="499.9" r="5.3" fill="#515dc7"/>
<circle cx="770.2" cy="504.0" r="5.3" fill="#4c5ecb"/>
<circle cx="643.7" cy="501.0" r="5.3" fill="#525dc7"/>
<circle cx="663.7" cy="500.3" r="5.3" fill="#4360cf"/>
<circle cx="731.1" cy="500.6" r="5.3" fill="#455fce"/>
<circle cx="739.9" cy="504.4" r="5.3" fill="#4260d0"/>
<circle cx="703.9" cy="502.7" r="5.3" fill="#4360cf"/>
<circle cx="708.3" cy="503.5" r="5.3" fill="#4460cf"/>
<circle cx="639.0" cy="500.9" r="5.3" fill="#4e5dc9"/>
<circle cx="686.6" cy="504.5" r="5.3" fill="#4360d0"/>
<circle cx="681.6" cy="499.1" r="5.3" fill="#475fcd"/>
<circle cx="716.1" cy="501.5" r="5.3" fill="#475fcd"/>
<circle cx="724.3" cy="500.9" r="5.3" fill="#4260d0"/>
<circle cx="707.3" cy="505.7" r="5.3" fill="#4260d0"/>
<circle cx="659.7" cy="500.7" r="5.3" fill="#455fce"/>
<circle cx="683.1" cy="499.5" r="5.3" fill="#485fcd"/>
<circle cx="726.2" cy="499.2" r="5.3" fill="#4260d0"/>
<circle cx="759.1" cy="506.6" r="5.3" fill="#525dc7"/>
<circle cx="771.1" cy="503.7" r="5.3" fill="#465fce"/>
<circle cx="663.9" cy="503.0" r="5.3" fill="#475fcd"/>
<circle cx="662.9" cy="502.1" r="5.3" fill="#4460cf"/>
<circle cx="716.5" cy="501.7" r="5.3" fill="#4d5eca"/>
<circle cx="666.0" cy="503.5" r="5.3" fill="#485fcc"/>
<circle cx="631.3" cy="502.2" r="5.3" fill="#4b5ecb"/>
<circle cx="671.2" cy="500.7" r="5.3" fill="#4260d0"/>
<circle cx="706.4" cy="501.3" r="5.3" fill="#4260d0"/>
<circle cx="754.2" cy="503.4" r="5.3" fill="#4260d0"/>
<circle cx="759.8" cy="499.0" r="5.3" fill="#4360cf"/>
<circle cx="647.6" cy="502.6" r="5.3" fill="#495fcc"/>
<circle cx="681.8" cy="500.2" r="5.3" fill="#455fce"/>
<circle cx="715.9" cy="500.8" r="5.3" fill="#475fcd"/>
<circle cx="739.9" cy="502.5" r="5.3" fill="#4260d0"/>
<circle cx="737.8" cy="505.0" r="5.3" fill="#4a5ecb"/>
<circle cx="658.3" cy="502.8" r="5.3" fill="#4260d0"/>
<circle cx="682.0" cy="504.1" r="5.3" fill="#4a5ecc"/>
<circle cx="667.1" cy="501.3" r="5.3" fill="#4260d0"/>
<circle cx="690.9" cy="504.6" r="5.3" fill="#4260d0"/>
<circle cx="651.0" cy="505.0" r="5.3" fill="#4360cf"/>
<circle cx="709.0" cy="503.0" r="5.3" fill="#4360cf"/>
<circle cx="761.3" cy="501.6" r="5.3" fill="#475fcd"/>
<circle cx="689.3" cy="498.8" r="5.3" fill="#465fcd"/>
<circle cx="666.5" cy="502.3" r="5.3" fill="#4260d0"/>
<circle cx="757.8" cy="500.9" r="5.3" fill="#4260d0"/>
<circle cx="649.1" cy="498.5" r="5.3" fill="#4f5dc9"/>
<circle cx="673.5" cy="503.6" r="5.3" fill="#4460cf"/>
<circle cx="705.3" cy="502.4" r="5.3" fill="#485fcd"/>
<circle cx="666.0" cy="501.6" r="5.3" fill="#465fcd"/>
<circle cx="741.4" cy="501.2" r="5.3" fill="#4260d0"/>
<circle cx="647.6" cy="500.6" r="5.3" fill="#495fcc"/>
<circle cx="644.0" cy="501.4" r="5.3" fill="#465fce"/>
<circle cx="667.8" cy="499.8" r="5.3" fill="#4360cf"/>
<circle cx="760.1" cy="504.9" r="5.3" fill="#495fcc"/>
<circle cx="660.6" cy="503.9" r="5.3" fill="#4c5eca"/>
<circle cx="672.6" cy="502.5" r="5.3" fill="#4a5ecb"/>
<circle cx="635.2" cy="500.6" r="5.3" fill="#4a5ecb"/>
<circle cx="650.1" cy="503.3" r="5.3" fill="#4c5eca"/>
<circle cx="718.4" cy="501.3" r="5.3" fill="#4260d0"/>
<circle cx="739.3" cy="500.4" r="5.3" fill="#4260d0"/>
<circle cx="761.9" cy="504.4" r="5.3" fill="#4e5dc9"/>
<circle cx="707.7" cy="500.2" r="5.3" fill="#475fcd"/>
<circle cx="697.7" cy="502.4" r="5.3" fill="#465fcd"/>
<circle cx="756.8" cy="498.9" r="5.3" fill="#545cc6"/>
<circle cx="682.2" cy="501.5" r="5.3" fill="#4260d0"/>
<circle cx="706.3" cy="502.2" r="5.3" fill="#4360cf"/>
<circle cx="632.6" cy="500.7" r="5.3" fill="#505dc8"/>
<circle cx="750.8" cy="500.8" r="5.3" fill="#475fcd"/>
<circle cx="703.5" cy="501.6" r="5.3" fill="#4360cf"/>
<circle cx="765.7" cy="500.7" r="5.3" fill="#4260d0"/>
<circle cx="714.0" cy="502.4" r="5.3" fill="#485fcd"/>
<circle cx="695.0" cy="507.0" r="5.3" fill="#535cc6"/>
<circle cx="765.0" cy="507.0" r="5.3" fill="#4c5eca"/>
<circle cx="759.6" cy="504.3" r="5.3" fill="#4360cf"/>
<circle cx="732.6" cy="507.6" r="5.3" fill="#485fcd"/>
<circle cx="722.7" cy="508.8" r="5.3" fill="#4260d0"/>
<circle cx="743.4" cy="505.8" r="5.3" fill="#495fcc"/>
<circle cx="758.8" cy="506.3" r="5.3" fill="#4460cf"/>
<circle cx="708.5" cy="508.9" r="5.3" fill="#475fcd"/>
<circle cx="720.6" cy="503.8" r="5.3" fill="#4260d0"/>
<circle cx="718.6" cy="509.0" r="5.3" fill="#4d5eca"/>
<circle cx="695.1" cy="506.0" r="5.3" fill="#4260d0"/>
<circle cx="755.8" cy="508.2" r="5.3" fill="#4260d0"/>
<circle cx="724.8" cy="507.8" r="5.3" fill="#4260d0"/>
<circle cx="762.0" cy="505.4" r="5.3" fill="#4260d0"/>
<circle cx="699.0" cy="509.6" r="5.3" fill="#525dc7"/>
<circle cx="745.5" cy="503.5" r="5.3" fill="#4260d0"/>
<circle cx="761.9" cy="505.9" r="5.3" fill="#4260d0"/>
<circle cx="749.0" cy="506.0" r="5.3" fill="#4260d0"/>
<circle cx="722.4" cy="506.2" r="5.3" fill="#4360d0"/>
<circle cx="759.2" cy="504.2" r="5.3" fill="#4a5ecb"/>
<circle cx="706.7" cy="508.0" r="5.3" fill="#465fce"/>
<circle cx="713.3" cy="511.4" r="5.3" fill="#4260d0"/>
<circle cx="734.9" cy="504.6" r="5.3" fill="#4460cf"/>
<circle cx="703.3" cy="507.1" r="5.3" fill="#4260d0"/>
<circle cx="762.4" cy="502.1" r="5.3" fill="#475fcd"/>
<circle cx="725.8" cy="512.1" r="5.3" fill="#4e5ec9"/>
<circle cx="752.4" cy="510.6" r="5.3" fill="#465fce"/>
<circle cx="702.5" cy="505.4" r="5.3" fill="#4260d0"/>
<circle cx="708.4" cy="508.6" r="5.3" fill="#495fcc"/>
<circle cx="710.1" cy="506.2" r="5.3" fill="#4260d0"/>
<circle cx="695.2" cy="505.5" r="5.3" fill="#4260d0"/>
<circle cx="697.1" cy="507.2" r="5.3" fill="#455fce"/>
<circle cx="643.0" cy="545.0" r="5.3" fill="#535cc6"/>
<circle cx="771.0" cy="545.0" r="5.3" fill="#4c5eca"/>
<circle cx="703.1" cy="544.9" r="5.3" fill="#4a5ecc"/>
<circle cx="670.7" cy="543.5" r="5.3" fill="#4260d0"/>
<circle cx="747.2" cy="540.9" r="5.3" fill="#4260d0"/>
<circle cx="690.1" cy="543.0" r="5.3" fill="#4a5ecb"/>
<circle cx="743.7" cy="544.5" r="5.3" fill="#4260d0"/>
<circle cx="700.7" cy="546.1" r="5.3" fill="#575bc4"/>
<circle cx="686.0" cy="543.5" r="5.3" fill="#4260d0"/>
<circle cx="755.2" cy="545.0" r="5.3" fill="#4260d0"/>
<circle cx="719.8" cy="546.2" r="5.3" fill="#4260d0"/>
<circle cx="720.7" cy="543.6" r="5.3" fill="#4260d0"/>
<circle cx="715.3" cy="543.6" r="5.3" fill="#495fcc"/>
<circle cx="736.5" cy="547.2" r="5.3" fill="#485fcd"/>
<circle cx="692.2" cy="542.6" r="5.3" fill="#455fce"/>
<circle cx="672.8" cy="543.4" r="5.3" fill="#4260d0"/>
<circle cx="664.8" cy="546.3" r="5.3" fill="#455fce"/>
<circle cx="690.6" cy="546.5" r="5.3" fill="#535cc6"/>
<circle cx="710.4" cy="547.4" r="5.3" fill="#4a5ecb"/>
<circle cx="713.1" cy="544.4" r="5.3" fill="#4260d0"/>
<circle cx="708.6" cy="543.0" r="5.3" fill="#465fce"/>
<circle cx="670.3" cy="545.9" r="5.3" fill="#4260d0"/>
<circle cx="648.2" cy="545.8" r="5.3" fill="#4b5ecb"/>
<circle cx="657.7" cy="546.2" r="5.3" fill="#4360cf"/>
<circle cx="722.8" cy="543.0" r="5.3" fill="#4f5dc9"/>
<circle cx="730.0" cy="546.4" r="5.3" fill="#4260d0"/>
<circle cx="676.9" cy="546.6" r="5.3" fill="#4460cf"/>
<circle cx="671.7" cy="543.3" r="5.3" fill="#4260d0"/>
<circle cx="658.2" cy="546.1" r="5.3" fill="#4460cf"/>
<circle cx="649.5" cy="549.2" r="5.3" fill="#4a5ecc"/>
<circle cx="730.1" cy="546.0" r="5.3" fill="#4260d0"/>
<circle cx="683.8" cy="540.2" r="5.3" fill="#4260d0"/>
<circle cx="643.6" cy="545.6" r="5.3" fill="#455fce"/>
<circle cx="757.5" cy="547.5" r="5.3" fill="#4260d0"/>
<circle cx="756.8" cy="545.8" r="5.3" fill="#495ecc"/>
<circle cx="652.2" cy="544.1" r="5.3" fill="#4260d0"/>
<circle cx="721.9" cy="545.4" r="5.3" fill="#4260d0"/>
<circle cx="747.7" cy="545.8" r="5.3" fill="#4260d0"/>
<circle cx="695.9" cy="545.0" r="5.3" fill="#4c5eca"/>
<circle cx="729.9" cy="543.1" r="5.3" fill="#495ecc"/>
<circle cx="723.2" cy="545.7" r="5.3" fill="#535cc6"/>
<circle cx="710.7" cy="546.0" r="5.3" fill="#4c5eca"/>
<circle cx="704.7" cy="543.6" r="5.3" fill="#4e5ec9"/>
<circle cx="719.8" cy="545.1" r="5.3" fill="#4260d0"/>
<circle cx="706.3" cy="545.0" r="5.3" fill="#4260d0"/>
<circle cx="713.9" cy="544.5" r="5.3" fill="#455fce"/>
<circle cx="696.2" cy="546.1" r="5.3" fill="#4a5ecb"/>
<circle cx="675.8" cy="545.9" r="5.3" fill="#4c5eca"/>
<circle cx="656.1" cy="545.3" r="5.3" fill="#495ecc"/>
<circle cx="668.0" cy="542.6" r="5.3" fill="#4460cf"/>
<circle cx="703.4" cy="545.5" r="5.3" fill="#475fcd"/>
<circle cx="718.4" cy="543.3" r="5.3" fill="#455fce"/>
<circle cx="649.9" cy="544.7" r="5.3" fill="#535cc6"/>
<circle cx="733.4" cy="544.8" r="5.3" fill="#495fcc"/>
<circle cx="659.9" cy="545.5" r="5.3" fill="#4b5ecb"/>
<circle cx="693.3" cy="542.6" r="5.3" fill="#4260d0"/>
<circle cx="733.5" cy="545.7" r="5.3" fill="#4360d0"/>
<circle cx="756.6" cy="543.2" r="5.3" fill="#455fce"/>
<circle cx="669.2" cy="545.3" r="5.3" fill="#4260d0"/>
<circle cx="654.1" cy="543.2" r="5.3" fill="#455fce"/>
<circle cx="704.6" cy="546.8" r="5.3" fill="#4260d0"/>
<circle cx="711.0" cy="545.6" r="5.3" fill="#4460cf"/>
<circle cx="716.1" cy="545.5" r="5.3" fill="#4260d0"/>
<circle cx="752.9" cy="543.8" r="5.3" fill="#4260d0"/>
<circle cx="650.3" cy="543.1" r="5.3" fill="#475fcd"/>
<circle cx="696.3" cy="547.2" r="5.3" fill="#4360cf"/>
<circle cx="753.8" cy="545.7" r="5.3" fill="#465fcd"/>
<circle cx="703.2" cy="543.7" r="5.3" fill="#4260d0"/>
<circle cx="723.5" cy="544.3" r="5.3" fill="#4260d0"/>
<circle cx="745.5" cy="548.9" r="5.3" fill="#4260d0"/>
<circle cx="708.0" cy="544.4" r="5.3" fill="#465fcd"/>
<circle cx="765.0" cy="546.5" r="5.3" fill="#4260d0"/>
<circle cx="759.3" cy="543.9" r="5.3" fill="#4e5ec9"/>
<circle cx="759.2" cy="545.2" r="5.3" fill="#515dc7"/>
<circle cx="745.0" cy="546.7" r="5.3" fill="#455fce"/>
<circle cx="731.4" cy="546.7" r="5.3" fill="#4260d0"/>
<circle cx="667.8" cy="546.2" r="5.3" fill="#4260d0"/>
<circle cx="770.7" cy="547.4" r="5.3" fill="#4260d0"/>
<circle cx="738.5" cy="543.1" r="5.3" fill="#465fcd"/>
<circle cx="709.6" cy="543.2" r="5.3" fill="#4260d0"/>
<circle cx="687.0" cy="546.0" r="5.3" fill="#4a5ecc"/>
<circle cx="673.9" cy="547.1" r="5.3" fill="#4360d0"/>
<circle cx="743.1" cy="548.7" r="5.3" fill="#4260d0"/>
<circle cx="668.0" cy="543.7" r="5.3" fill="#505dc8"/>
<circle cx="746.2" cy="545.3" r="5.3" fill="#4360d0"/>
<circle cx="718.4" cy="547.0" r="5.3" fill="#4260d0"/>
<circle cx="737.9" cy="545.1" r="5.3" fill="#475fcd"/>
<circle cx="716.1" cy="543.3" r="5.3" fill="#4a5ecc"/>
<circle cx="653.9" cy="544.7" r="5.3" fill="#4460cf"/>
<circle cx="698.7" cy="541.9" r="5.3" fill="#4260d0"/>
<circle cx="731.5" cy="541.7" r="5.3" fill="#4260d0"/>
<circle cx="648.1" cy="540.6" r="5.3" fill="#4260d0"/>
<circle cx="742.6" cy="544.3" r="5.3" fill="#4460cf"/>
<circle cx="718.1" cy="544.2" r="5.3" fill="#4260d0"/>
<circle cx="686.4" cy="546.6" r="5.3" fill="#485fcd"/>
<circle cx="746.6" cy="546.0" r="5.3" fill="#475fcd"/>
<circle cx="737.9" cy="543.8" r="5.3" fill="#4260d0"/>
<circle cx="720.4" cy="548.0" r="5.3" fill="#4360d0"/>
<circle cx="769.1" cy="542.5" r="5.3" fill="#465fce"/>
<circle cx="718.6" cy="543.1" r="5.3" fill="#495fcc"/>
<circle cx="682.2" cy="544.4" r="5.3" fill="#4260d0"/>
<circle cx="766.5" cy="541.8" r="5.3" fill="#475fcd"/>
<circle cx="693.6" cy="543.0" r="5.3" fill="#465fcd"/>
<circle cx="763.7" cy="542.5" r="5.3" fill="#4460cf"/>
<circle cx="678.6" cy="543.2" r="5.3" fill="#4260d0"/>
<circle cx="697.8" cy="545.9" r="5.3" fill="#455fce"/>
<circle cx="706.4" cy="545.4" r="5.3" fill="#4260d0"/>
<circle cx="738.2" cy="544.1" r="5.3" fill="#4360cf"/>
<circle cx="719.3" cy="542.4" r="5.3" fill="#4460cf"/>
<circle cx="717.8" cy="547.7" r="5.3" fill="#4260d0"/>
<circle cx="688.4" cy="544.6" r="5.3" fill="#4260d0"/>
<circle cx="686.7" cy="543.6" r="5.3" fill="#465fce"/>
<circle cx="695.0" cy="551.0" r="5.3" fill="#535cc6"/>
<circle cx="755.0" cy="551.0" r="5.3" fill="#4c5eca"/>
<circle cx="706.3" cy="549.8" r="5.3" fill="#4260d0"/>
<circle cx="743.1" cy="549.1" r="5.3" fill="#4260d0"/>
<circle cx="709.2" cy="553.8" r="5.3" fill="#4260d0"/>
<circle cx="718.6" cy="547.8" r="5.3" fill="#475fcd"/>
<circle cx="707.6" cy="552.1" r="5.3" fill="#465fce"/>
<circle cx="701.3" cy="549.0" r="5.3" fill="#495ecc"/>
<circle cx="754.3" cy="552.8" r="5.3" fill="#495fcc"/>
<circle cx="753.3" cy="552.7" r="5.3" fill="#455fce"/>
<circle cx="718.9" cy="548.3" r="5.3" fill="#4360cf"/>
<circle cx="723.3" cy="552.4" r="5.3" fill="#465fce"/>
<circle cx="723.6" cy="550.1" r="5.3" fill="#4260d0"/>
<circle cx="715.7" cy="554.0" r="5.3" fill="#4a5ecc"/>
<circle cx="719.3" cy="547.2" r="5.3" fill="#465fce"/>
<circle cx="707.7" cy="551.7" r="5.3" fill="#4c5eca"/>
<circle cx="703.3" cy="547.9" r="5.3" fill="#4260d0"/>
<circle cx="716.9" cy="550.2" r="5.3" fill="#4d5ec9"/>
<circle cx="714.8" cy="550.1" r="5.3" fill="#4b5ecb"/>
<circle cx="724.1" cy="554.0" r="5.3" fill="#4c5eca"/>
<circle cx="702.0" cy="552.2" r="5.3" fill="#495ecc"/>
<circle cx="705.0" cy="551.4" r="5.3" fill="#4e5dc9"/>
<circle cx="726.6" cy="550.4" r="5.3" fill="#4e5dc9"/>
<circle cx="720.3" cy="551.0" r="5.3" fill="#4260d0"/>
<circle cx="695.5" cy="550.8" r="5.3" fill="#4d5eca"/>
<circle cx="717.9" cy="549.4" r="5.3" fill="#495fcc"/>
<circle cx="709.6" cy="552.4" r="5.3" fill="#4260d0"/>
<circle cx="711.7" cy="546.2" r="5.3" fill="#4b5ecb"/>
<circle cx="702.9" cy="549.9" r="5.3" fill="#455fcf"/>
<circle cx="754.4" cy="547.9" r="5.3" fill="#4260d0"/>
<circle cx="710.7" cy="548.1" r="5.3" fill="#4260d0"/>
<circle cx="701.5" cy="553.9" r="5.3" fill="#455fce"/>
<circle cx="737.3" cy="549.6" r="5.3" fill="#4260d0"/>
<circle cx="747.1" cy="551.4" r="5.3" fill="#4b5ecb"/>
<circle cx="753.3" cy="550.7" r="5.3" fill="#4360d0"/>
<circle cx="737.4" cy="549.3" r="5.3" fill="#495ecc"/>
<circle cx="713.8" cy="552.8" r="5.3" fill="#4360d0"/>
<circle cx="711.4" cy="553.1" r="5.3" fill="#4260d0"/>
<circle cx="717.7" cy="555.7" r="5.3" fill="#4f5dc9"/>
<circle cx="735.7" cy="549.3" r="5.3" fill="#4260d0"/>
<circle cx="750.9" cy="556.1" r="5.3" fill="#4260d0"/>
<circle cx="744.8" cy="549.1" r="5.3" fill="#455fce"/>
<circle cx="705.0" cy="563.0" r="5.3" fill="#535cc6"/>
<circle cx="743.0" cy="563.0" r="5.3" fill="#4c5eca"/>
<circle cx="719.3" cy="561.8" r="5.3" fill="#465fcd"/>
<circle cx="741.0" cy="555.9" r="5.3" fill="#4260d0"/>
<circle cx="742.3" cy="552.0" r="5.3" fill="#4c5eca"/>
<circle cx="705.1" cy="573.9" r="5.3" fill="#4360d0"/>
<circle cx="724.0" cy="560.5" r="5.3" fill="#465fce"/>
<circle cx="729.2" cy="563.8" r="5.3" fill="#4360d0"/>
<circle cx="714.3" cy="558.9" r="5.3" fill="#4360d0"/>
<circle cx="705.7" cy="555.7" r="5.3" fill="#495ecc"/>
<circle cx="715.5" cy="576.5" r="5.3" fill="#455fce"/>
<circle cx="738.7" cy="569.4" r="5.3" fill="#4260d0"/>
<circle cx="730.3" cy="557.5" r="5.3" fill="#4260d0"/>
<circle cx="719.1" cy="563.4" r="5.3" fill="#465fce"/>
<circle cx="706.6" cy="560.5" r="5.3" fill="#4260d0"/>
<circle cx="707.1" cy="559.9" r="5.3" fill="#4260d0"/>
<circle cx="715.9" cy="564.2" r="5.3" fill="#4c5eca"/>
<circle cx="715.9" cy="558.8" r="5.3" fill="#4a5ecc"/>
<circle cx="727.0" cy="562.5" r="5.3" fill="#4260d0"/>
<circle cx="705.0" cy="568.3" r="5.3" fill="#4260d0"/>
<circle cx="726.1" cy="561.1" r="5.3" fill="#4260d0"/>
<circle cx="715.1" cy="569.0" r="5.3" fill="#4b5ecb"/>
<circle cx="737.1" cy="554.9" r="5.3" fill="#4260d0"/>
<circle cx="725.9" cy="561.9" r="5.3" fill="#475fcd"/>
<circle cx="724.3" cy="567.0" r="5.3" fill="#4260d0"/>
<circle cx="733.4" cy="562.7" r="5.3" fill="#485fcd"/>
<circle cx="715.1" cy="570.3" r="5.3" fill="#455fce"/>
<circle cx="716.8" cy="556.1" r="5.3" fill="#4460cf"/>
<circle cx="708.7" cy="563.2" r="5.3" fill="#4260d0"/>
<circle cx="720.1" cy="561.6" r="5.3" fill="#455fcf"/>
<circle cx="740.4" cy="561.6" r="5.3" fill="#4260d0"/>
<circle cx="721.5" cy="577.8" r="5.3" fill="#4c5ecb"/>
<circle cx="633.0" cy="579.7" r="5.3" fill="#535cc6"/>
<circle cx="771.0" cy="579.7" r="5.3" fill="#4c5eca"/>
<circle cx="645.3" cy="578.3" r="5.3" fill="#4f5dc9"/>
<circle cx="742.0" cy="579.6" r="5.3" fill="#455fce"/>
<circle cx="650.7" cy="576.7" r="5.3" fill="#4a5ecb"/>
<circle cx="638.6" cy="581.0" r="5.3" fill="#4f5dc8"/>
<circle cx="710.9" cy="578.8" r="5.3" fill="#4460cf"/>
<circle cx="764.5" cy="580.9" r="5.3" fill="#4c5eca"/>
<circle cx="716.7" cy="577.5" r="5.3" fill="#505dc8"/>
<circle cx="641.7" cy="578.1" r="5.3" fill="#475fcd"/>
<circle cx="715.3" cy="580.7" r="5.3" fill="#505dc8"/>
<circle cx="665.2" cy="582.5" r="5.3" fill="#455fce"/>
<circle cx="732.5" cy="584.1" r="5.3" fill="#4a5ecc"/>
<circle cx="734.3" cy="580.5" r="5.3" fill="#4260d0"/>
<circle cx="664.3" cy="582.3" r="5.3" fill="#4360d0"/>
<circle cx="759.2" cy="579.0" r="5.3" fill="#4360d0"/>
<circle cx="655.1" cy="579.4" r="5.3" fill="#4260d0"/>
<circle cx="673.3" cy="577.8" r="5.3" fill="#4260d0"/>
<circle cx="667.1" cy="577.2" r="5.3" fill="#465fce"/>
<circle cx="652.6" cy="577.8" r="5.3" fill="#4260d0"/>
<circle cx="666.6" cy="577.1" r="5.3" fill="#4d5eca"/>
<circle cx="684.2" cy="581.0" r="5.3" fill="#4460cf"/>
<circle cx="764.2" cy="582.1" r="5.3" fill="#4260d0"/>
<circle cx="699.7" cy="580.6" r="5.3" fill="#4260d0"/>
<circle cx="634.2" cy="579.1" r="5.3" fill="#525dc7"/>
<circle cx="661.6" cy="578.9" r="5.3" fill="#4260d0"/>
<circle cx="770.1" cy="581.5" r="5.3" fill="#4260d0"/>
<circle cx="757.0" cy="579.3" r="5.3" fill="#455fce"/>
<circle cx="757.3" cy="579.0" r="5.3" fill="#465fcd"/>
<circle cx="651.2" cy="585.2" r="5.3" fill="#4260d0"/>
<circle cx="704.1" cy="578.3" r="5.3" fill="#4260d0"/>
<circle cx="737.8" cy="581.8" r="5.3" fill="#555cc5"/>
<circle cx="706.8" cy="577.8" r="5.3" fill="#4260d0"/>
<circle cx="734.7" cy="579.1" r="5.3" fill="#4f5dc9"/>
<circle cx="679.4" cy="577.3" r="5.3" fill="#505dc8"/>
<circle cx="668.3" cy="580.5" r="5.3" fill="#4d5eca"/>
<circle cx="722.5" cy="582.5" r="5.3" fill="#455fce"/>
<circle cx="738.4" cy="579.7" r="5.3" fill="#485fcd"/>
<circle cx="686.3" cy="580.5" r="5.3" fill="#4260d0"/>
<circle cx="743.0" cy="582.6" r="5.3" fill="#4260d0"/>
<circle cx="655.2" cy="579.1" r="5.3" fill="#575bc4"/>
<circle cx="633.1" cy="582.8" r="5.3" fill="#525dc7"/>
<circle cx="656.6" cy="580.7" r="5.3" fill="#455fce"/>
<circle cx="642.3" cy="582.4" r="5.3" fill="#4260d0"/>
<circle cx="656.9" cy="578.1" r="5.3" fill="#4260d0"/>
<circle cx="681.2" cy="581.1" r="5.3" fill="#475fcd"/>
<circle cx="682.0" cy="579.7" r="5.3" fill="#465fcd"/>
<circle cx="702.2" cy="579.7" r="5.3" fill="#4260d0"/>
<circle cx="650.8" cy="577.5" r="5.3" fill="#465fce"/>
<circle cx="652.6" cy="579.1" r="5.3" fill="#4260d0"/>
<circle cx="657.5" cy="579.8" r="5.3" fill="#4460cf"/>
<circle cx="756.5" cy="580.7" r="5.3" fill="#4260d0"/>
<circle cx="744.3" cy="582.1" r="5.3" fill="#4c5eca"/>
<circle cx="679.0" cy="580.5" r="5.3" fill="#4260d0"/>
<circle cx="643.7" cy="576.9" r="5.3" fill="#455fce"/>
<circle cx="699.4" cy="578.6" r="5.3" fill="#4260d0"/>
<circle cx="723.4" cy="581.8" r="5.3" fill="#4460cf"/>
<circle cx="640.5" cy="577.9" r="5.3" fill="#525dc7"/>
<circle cx="709.2" cy="581.1" r="5.3" fill="#4c5eca"/>
<circle cx="721.0" cy="577.4" r="5.3" fill="#4260d0"/>
<circle cx="734.9" cy="578.1" r="5.3" fill="#4260d0"/>
<circle cx="669.5" cy="578.7" r="5.3" fill="#465fce"/>
<circle cx="752.0" cy="577.1" r="5.3" fill="#4360d0"/>
<circle cx="656.6" cy="577.9" r="5.3" fill="#455fce"/>
<circle cx="701.3" cy="578.9" r="5.3" fill="#455fce"/>
<circle cx="723.3" cy="581.7" r="5.3" fill="#4a5ecb"/>
<circle cx="641.4" cy="577.6" r="5.3" fill="#4260d0"/>
<circle cx="758.2" cy="577.8" r="5.3" fill="#4b5ecb"/>
<circle cx="755.6" cy="577.8" r="5.3" fill="#4460cf"/>
<circle cx="638.5" cy="576.9" r="5.3" fill="#455fce"/>
<circle cx="749.9" cy="580.2" r="5.3" fill="#475fcd"/>
<circle cx="693.9" cy="580.6" r="5.3" fill="#4260d0"/>
<circle cx="651.0" cy="576.9" r="5.3" fill="#4260d0"/>
<circle cx="735.9" cy="581.0" r="5.3" fill="#4460cf"/>
<circle cx="689.8" cy="583.9" r="5.3" fill="#4260d0"/>
<circle cx="652.3" cy="581.6" r="5.3" fill="#4360d0"/>
<circle cx="690.5" cy="579.4" r="5.3" fill="#455fce"/>
<circle cx="663.6" cy="580.1" r="5.3" fill="#4260d0"/>
<circle cx="691.1" cy="579.4" r="5.3" fill="#4260d0"/>
<circle cx="751.3" cy="576.6" r="5.3" fill="#455fce"/>
<circle cx="703.6" cy="577.1" r="5.3" fill="#465fce"/>
<circle cx="767.3" cy="577.0" r="5.3" fill="#4260d0"/>
<circle cx="737.2" cy="583.6" r="5.3" fill="#505dc8"/>
<circle cx="672.5" cy="581.1" r="5.3" fill="#4b5ecb"/>
<circle cx="766.8" cy="581.4" r="5.3" fill="#4360cf"/>
<circle cx="723.7" cy="583.6" r="5.3" fill="#4260d0"/>
<circle cx="724.6" cy="578.9" r="5.3" fill="#4260d0"/>
<circle cx="729.4" cy="577.0" r="5.3" fill="#4260d0"/>
<circle cx="709.3" cy="577.3" r="5.3" fill="#4260d0"/>
<circle cx="767.8" cy="582.0" r="5.3" fill="#4260d0"/>
<circle cx="674.9" cy="579.5" r="5.3" fill="#4360d0"/>
<circle cx="658.1" cy="583.5" r="5.3" fill="#4360cf"/>
<circle cx="679.9" cy="578.4" r="5.3" fill="#4260d0"/>
<circle cx="713.3" cy="579.5" r="5.3" fill="#455fce"/>
<circle cx="642.3" cy="583.0" r="5.3" fill="#465fce"/>
<circle cx="765.1" cy="578.3" r="5.3" fill="#485fcc"/>
<circle cx="637.0" cy="582.3" r="5.3" fill="#475fcd"/>
<circle cx="759.2" cy="578.6" r="5.3" fill="#4460cf"/>
<circle cx="735.6" cy="579.0" r="5.3" fill="#475fcd"/>
<circle cx="755.9" cy="580.6" r="5.3" fill="#475fcd"/>
<circle cx="642.9" cy="578.1" r="5.3" fill="#455fce"/>
<circle cx="666.0" cy="579.1" r="5.3" fill="#4260d0"/>
<circle cx="736.2" cy="580.1" r="5.3" fill="#465fce"/>
<circle cx="671.5" cy="585.5" r="5.3" fill="#4260d0"/>
<circle cx="721.8" cy="576.6" r="5.3" fill="#475fcd"/>
<circle cx="747.4" cy="579.0" r="5.3" fill="#4260d0"/>
<circle cx="658.8" cy="578.5" r="5.3" fill="#4260d0"/>
<circle cx="767.1" cy="580.5" r="5.3" fill="#465fce"/>
<circle cx="705.5" cy="581.2" r="5.3" fill="#4260d0"/>
<circle cx="740.6" cy="580.5" r="5.3" fill="#4460cf"/>
<circle cx="757.2" cy="580.2" r="5.3" fill="#4260d0"/>
<circle cx="662.1" cy="576.5" r="5.3" fill="#4260d0"/>
<circle cx="637.4" cy="578.9" r="5.3" fill="#455fce"/>
<circle cx="658.4" cy="579.3" r="5.3" fill="#4260d0"/>
<circle cx="720.8" cy="578.0" r="5.3" fill="#4260d0"/>
<circle cx="742.3" cy="579.9" r="5.3" fill="#4260d0"/>
<circle cx="642.6" cy="579.8" r="5.3" fill="#475fcd"/>
<circle cx="741.2" cy="579.2" r="5.3" fill="#4f5dc9"/>
<circle cx="759.0" cy="580.7" r="5.3" fill="#4260d0"/>
<circle cx="683.3" cy="579.5" r="5.3" fill="#4260d0"/>
<circle cx="762.5" cy="578.0" r="5.3" fill="#495fcc"/>
<circle cx="668.3" cy="582.1" r="5.3" fill="#455fcf"/>
<circle cx="710.0" cy="592.0" r="5.3" fill="#535cc6"/>
<circle cx="750.0" cy="592.0" r="5.3" fill="#4c5eca"/>
<circle cx="726.9" cy="588.8" r="5.3" fill="#465fce"/>
<circle cx="715.6" cy="584.6" r="5.3" fill="#4260d0"/>
<circle cx="740.7" cy="594.4" r="5.3" fill="#495fcc"/>
<circle cx="742.3" cy="586.4" r="5.3" fill="#4360cf"/>
<circle cx="710.2" cy="596.7" r="5.3" fill="#495ecc"/>
<circle cx="720.4" cy="596.3" r="5.3" fill="#4260d0"/>
<circle cx="727.7" cy="589.3" r="5.3" fill="#465fce"/>
<circle cx="736.5" cy="589.4" r="5.3" fill="#455fce"/>
<circle cx="714.2" cy="592.7" r="5.3" fill="#4b5ecb"/>
<circle cx="587.0" cy="616.0" r="5.3" fill="#535cc6"/>
<circle cx="742.0" cy="616.0" r="5.3" fill="#4c5eca"/>
<circle cx="692.4" cy="612.7" r="5.3" fill="#4260d0"/>
<circle cx="707.7" cy="613.5" r="5.3" fill="#4260d0"/>
<circle cx="669.4" cy="613.5" r="5.3" fill="#4260d0"/>
<circle cx="600.3" cy="617.4" r="5.3" fill="#4a5ecb"/>
<circle cx="632.3" cy="617.4" r="5.3" fill="#5b5bc2"/>
<circle cx="628.7" cy="614.4" r="5.3" fill="#455fce"/>
<circle cx="616.8" cy="613.4" r="5.3" fill="#535cc6"/>
<circle cx="597.0" cy="615.2" r="5.3" fill="#4f5dc9"/>
<circle cx="588.2" cy="617.5" r="5.3" fill="#4360cf"/>
<circle cx="721.1" cy="616.6" r="5.3" fill="#4260d0"/>
<circle cx="590.6" cy="615.4" r="5.3" fill="#4b5ecb"/>
<circle cx="640.5" cy="614.3" r="5.3" fill="#465fce"/>
<circle cx="638.0" cy="613.4" r="5.3" fill="#4d5ec9"/>
<circle cx="697.4" cy="616.9" r="5.3" fill="#4260d0"/>
<circle cx="621.6" cy="615.7" r="5.3" fill="#555cc5"/>
<circle cx="662.8" cy="615.7" r="5.3" fill="#495fcc"/>
<circle cx="605.2" cy="616.0" r="5.3" fill="#5a5bc2"/>
<circle cx="608.4" cy="618.0" r="5.3" fill="#5b5bc2"/>
<circle cx="675.4" cy="615.1" r="5.3" fill="#4d5eca"/>
<circle cx="708.1" cy="620.1" r="5.3" fill="#4260d0"/>
<circle cx="662.0" cy="616.0" r="5.3" fill="#505dc8"/>
<circle cx="683.1" cy="617.3" r="5.3" fill="#4b5ecb"/>
<circle cx="725.1" cy="615.2" r="5.3" fill="#465fce"/>
<circle cx="614.3" cy="616.9" r="5.3" fill="#4f5dc8"/>
<circle cx="738.4" cy="617.0" r="5.3" fill="#4f5dc9"/>
<circle cx="657.4" cy="614.7" r="5.3" fill="#485fcc"/>
<circle cx="725.1" cy="615.8" r="5.3" fill="#4a5ecc"/>
<circle cx="702.1" cy="617.1" r="5.3" fill="#4260d0"/>
<circle cx="661.6" cy="610.4" r="5.3" fill="#4f5dc9"/>
<circle cx="652.9" cy="617.9" r="5.3" fill="#4260d0"/>
<circle cx="634.4" cy="618.4" r="5.3" fill="#505dc8"/>
<circle cx="641.1" cy="619.8" r="5.3" fill="#485fcd"/>
<circle cx="604.7" cy="614.7" r="5.3" fill="#4d5eca"/>
<circle cx="696.3" cy="612.3" r="5.3" fill="#475fcd"/>
<circle cx="664.7" cy="615.1" r="5.3" fill="#4260d0"/>
<circle cx="678.6" cy="612.7" r="5.3" fill="#465fcd"/>
<circle cx="595.6" cy="615.0" r="5.3" fill="#4f5dc9"/>
<circle cx="626.3" cy="615.7" r="5.3" fill="#585bc4"/>
<circle cx="695.0" cy="618.0" r="5.3" fill="#4260d0"/>
<circle cx="629.1" cy="612.2" r="5.3" fill="#4f5dc8"/>
<circle cx="638.1" cy="617.1" r="5.3" fill="#4260d0"/>
<circle cx="676.1" cy="619.4" r="5.3" fill="#465fce"/>
<circle cx="728.4" cy="616.0" r="5.3" fill="#4360cf"/>
<circle cx="618.7" cy="619.8" r="5.3" fill="#505dc8"/>
<circle cx="669.9" cy="617.2" r="5.3" fill="#465fce"/>
<circle cx="697.8" cy="618.8" r="5.3" fill="#4360cf"/>
<circle cx="666.9" cy="617.2" r="5.3" fill="#4a5ecc"/>
<circle cx="644.1" cy="617.4" r="5.3" fill="#4260d0"/>
<circle cx="699.7" cy="617.0" r="5.3" fill="#4a5ecb"/>
<circle cx="686.0" cy="613.5" r="5.3" fill="#485fcd"/>
<circle cx="728.7" cy="615.9" r="5.3" fill="#4b5ecb"/>
<circle cx="627.5" cy="615.5" r="5.3" fill="#5d5ac1"/>
<circle cx="650.0" cy="620.3" r="5.3" fill="#4360d0"/>
<circle cx="679.9" cy="614.9" r="5.3" fill="#445fcf"/>
<circle cx="634.1" cy="617.6" r="5.3" fill="#575bc4"/>
<circle cx="650.1" cy="617.9" r="5.3" fill="#4260d0"/>
<circle cx="719.6" cy="615.0" r="5.3" fill="#4f5dc9"/>
<circle cx="648.2" cy="617.5" r="5.3" fill="#4460cf"/>
<circle cx="685.7" cy="620.7" r="5.3" fill="#455fce"/>
<circle cx="697.1" cy="613.4" r="5.3" fill="#4260d0"/>
<circle cx="737.2" cy="615.0" r="5.3" fill="#475fcd"/>
<circle cx="723.9" cy="617.5" r="5.3" fill="#4260d0"/>
<circle cx="654.5" cy="612.0" r="5.3" fill="#525dc7"/>
<circle cx="618.4" cy="618.8" r="5.3" fill="#4d5eca"/>
<circle cx="633.9" cy="617.2" r="5.3" fill="#555cc5"/>
<circle cx="658.3" cy="617.1" r="5.3" fill="#4260d0"/>
<circle cx="665.8" cy="616.4" r="5.3" fill="#4260d0"/>
<circle cx="727.3" cy="616.8" r="5.3" fill="#4d5eca"/>
<circle cx="720.3" cy="611.6" r="5.3" fill="#455fce"/>
<circle cx="596.2" cy="616.0" r="5.3" fill="#5b5bc2"/>
<circle cx="638.4" cy="614.1" r="5.3" fill="#485fcd"/>
<circle cx="670.5" cy="618.7" r="5.3" fill="#475fcd"/>
<circle cx="672.8" cy="616.2" r="5.3" fill="#4d5eca"/>
<circle cx="726.8" cy="614.5" r="5.3" fill="#4260d0"/>
<circle cx="636.8" cy="617.9" r="5.3" fill="#555cc5"/>
<circle cx="712.2" cy="617.0" r="5.3" fill="#465fce"/>
<circle cx="660.5" cy="616.3" r="5.3" fill="#4360cf"/>
<circle cx="594.9" cy="616.3" r="5.3" fill="#555cc5"/>
<circle cx="587.1" cy="617.6" r="5.3" fill="#465fce"/>
<circle cx="671.3" cy="619.6" r="5.3" fill="#4260d0"/>
<circle cx="734.9" cy="615.7" r="5.3" fill="#465fce"/>
<circle cx="594.8" cy="614.0" r="5.3" fill="#485fcc"/>
<circle cx="689.6" cy="619.1" r="5.3" fill="#455fce"/>
<circle cx="686.2" cy="617.3" r="5.3" fill="#4260d0"/>
<circle cx="741.5" cy="615.3" r="5.3" fill="#485fcc"/>
<circle cx="615.3" cy="615.7" r="5.3" fill="#535cc6"/>
<circle cx="618.5" cy="611.1" r="5.3" fill="#4f5dc8"/>
<circle cx="619.3" cy="617.2" r="5.3" fill="#4e5dc9"/>
<circle cx="623.9" cy="618.3" r="5.3" fill="#525dc7"/>
<circle cx="628.3" cy="614.6" r="5.3" fill="#535cc6"/>
<circle cx="594.9" cy="616.7" r="5.3" fill="#4f5dc9"/>
<circle cx="691.5" cy="616.1" r="5.3" fill="#4260d0"/>
<circle cx="724.8" cy="616.8" r="5.3" fill="#485fcd"/>
<circle cx="649.3" cy="614.8" r="5.3" fill="#495fcc"/>
<circle cx="595.3" cy="616.9" r="5.3" fill="#4d5eca"/>
<circle cx="619.2" cy="617.0" r="5.3" fill="#515dc7"/>
<circle cx="682.4" cy="616.9" r="5.3" fill="#4260d0"/>
<circle cx="694.4" cy="618.5" r="5.3" fill="#4f5dc9"/>
<circle cx="707.9" cy="616.1" r="5.3" fill="#485fcd"/>
<circle cx="593.6" cy="616.5" r="5.3" fill="#525dc7"/>
<circle cx="632.1" cy="614.0" r="5.3" fill="#4c5eca"/>
<circle cx="725.2" cy="616.7" r="5.3" fill="#515dc8"/>
<circle cx="717.9" cy="616.7" r="5.3" fill="#4460cf"/>
<circle cx="724.4" cy="617.6" r="5.3" fill="#4360cf"/>
<circle cx="732.2" cy="619.0" r="5.3" fill="#4b5ecb"/>
<circle cx="735.4" cy="616.5" r="5.3" fill="#4260d0"/>
<circle cx="696.6" cy="612.2" r="5.3" fill="#4360cf"/>
<circle cx="590.3" cy="616.7" r="5.3" fill="#485fcd"/>
<circle cx="723.9" cy="614.7" r="5.3" fill="#4260d0"/>
<circle cx="737.4" cy="615.6" r="5.3" fill="#4460cf"/>
<circle cx="730.0" cy="605.0" r="5.3" fill="#535cc6"/>
<circle cx="750.0" cy="605.0" r="5.3" fill="#4c5eca"/>
<circle cx="735.4" cy="607.5" r="5.3" fill="#4260d0"/>
<circle cx="737.0" cy="604.7" r="5.3" fill="#505dc8"/>
<circle cx="746.1" cy="605.8" r="5.3" fill="#4260d0"/>
<circle cx="734.6" cy="602.7" r="5.3" fill="#535cc6"/>
<circle cx="742.3" cy="604.2" r="5.3" fill="#4260d0"/>
<circle cx="740.1" cy="603.1" r="5.3" fill="#4260d0"/>
<circle cx="745.9" cy="602.4" r="5.3" fill="#4260d0"/>
<circle cx="557.0" cy="651.0" r="5.3" fill="#535cc6"/>
<circle cx="668.0" cy="651.0" r="5.3" fill="#4c5eca"/>
<circle cx="633.5" cy="649.0" r="5.3" fill="#525dc7"/>
<circle cx="614.7" cy="649.0" r="5.3" fill="#4a5ecb"/>
<circle cx="666.5" cy="647.2" r="5.3" fill="#4a5ecb"/>
<circle cx="618.1" cy="653.2" r="5.3" fill="#4c5eca"/>
<circle cx="608.8" cy="649.8" r="5.3" fill="#505dc8"/>
<circle cx="635.8" cy="654.6" r="5.3" fill="#4c5eca"/>
<circle cx="572.7" cy="651.0" r="5.3" fill="#595bc3"/>
<circle cx="595.2" cy="649.1" r="5.3" fill="#485fcd"/>
<circle cx="625.2" cy="652.3" r="5.3" fill="#545cc6"/>
<circle cx="595.5" cy="651.7" r="5.3" fill="#4e5dc9"/>
<circle cx="599.4" cy="654.6" r="5.3" fill="#515dc7"/>
<circle cx="582.4" cy="648.5" r="5.3" fill="#515dc7"/>
<circle cx="652.8" cy="653.9" r="5.3" fill="#4260d0"/>
<circle cx="585.8" cy="650.4" r="5.3" fill="#4c5eca"/>
<circle cx="599.9" cy="651.8" r="5.3" fill="#525cc7"/>
<circle cx="622.6" cy="646.6" r="5.3" fill="#4b5ecb"/>
<circle cx="572.9" cy="652.5" r="5.3" fill="#515dc7"/>
<circle cx="612.7" cy="653.6" r="5.3" fill="#4d5eca"/>
<circle cx="656.5" cy="652.4" r="5.3" fill="#4a5ecb"/>
<circle cx="592.8" cy="649.0" r="5.3" fill="#535cc6"/>
<circle cx="558.7" cy="654.2" r="5.3" fill="#595bc3"/>
<circle cx="627.5" cy="646.9" r="5.3" fill="#4e5dc9"/>
<circle cx="644.1" cy="651.2" r="5.3" fill="#4260d0"/>
<circle cx="629.3" cy="652.9" r="5.3" fill="#525dc7"/>
<circle cx="632.7" cy="649.5" r="5.3" fill="#495fcc"/>
<circle cx="601.0" cy="649.8" r="5.3" fill="#555cc5"/>
<circle cx="633.3" cy="647.3" r="5.3" fill="#455fce"/>
<circle cx="663.2" cy="649.5" r="5.3" fill="#4460cf"/>
<circle cx="580.3" cy="654.0" r="5.3" fill="#4b5ecb"/>
<circle cx="662.0" cy="652.2" r="5.3" fill="#455fce"/>
<circle cx="659.9" cy="652.7" r="5.3" fill="#4260d0"/>
<circle cx="596.1" cy="650.6" r="5.3" fill="#4e5dc9"/>
<circle cx="558.1" cy="650.3" r="5.3" fill="#4a5ecc"/>
<circle cx="583.8" cy="651.7" r="5.3" fill="#4b5ecb"/>
<circle cx="651.5" cy="649.3" r="5.3" fill="#4a5ecb"/>
<circle cx="594.7" cy="651.1" r="5.3" fill="#485fcc"/>
<circle cx="662.6" cy="651.6" r="5.3" fill="#4260d0"/>
<circle cx="567.9" cy="650.2" r="5.3" fill="#5b5bc2"/>
<circle cx="574.1" cy="652.3" r="5.3" fill="#4b5ecb"/>
<circle cx="566.3" cy="651.5" r="5.3" fill="#505dc8"/>
<circle cx="666.7" cy="647.8" r="5.3" fill="#4260d0"/>
<circle cx="645.1" cy="652.0" r="5.3" fill="#4260d0"/>
<circle cx="665.8" cy="651.7" r="5.3" fill="#4360cf"/>
<circle cx="577.8" cy="650.3" r="5.3" fill="#525dc7"/>
<circle cx="605.4" cy="650.0" r="5.3" fill="#4e5dc9"/>
<circle cx="610.8" cy="651.7" r="5.3" fill="#5c5ac1"/>
<circle cx="557.4" cy="650.0" r="5.3" fill="#515dc7"/>
<circle cx="618.3" cy="651.6" r="5.3" fill="#4c5eca"/>
<circle cx="664.6" cy="652.5" r="5.3" fill="#4a5ecc"/>
<circle cx="624.2" cy="648.6" r="5.3" fill="#4c5eca"/>
<circle cx="664.7" cy="653.9" r="5.3" fill="#4260d0"/>
<circle cx="595.2" cy="653.0" r="5.3" fill="#4c5eca"/>
<circle cx="651.5" cy="653.8" r="5.3" fill="#4260d0"/>
<circle cx="612.6" cy="652.1" r="5.3" fill="#4d5eca"/>
<circle cx="666.9" cy="653.3" r="5.3" fill="#4260d0"/>
<circle cx="579.4" cy="651.3" r="5.3" fill="#4b5ecb"/>
<circle cx="662.2" cy="653.3" r="5.3" fill="#4c5eca"/>
<circle cx="634.6" cy="651.5" r="5.3" fill="#445fcf"/>
<circle cx="594.0" cy="647.0" r="5.3" fill="#495fcc"/>
<circle cx="624.2" cy="655.0" r="5.3" fill="#4d5eca"/>
<circle cx="644.6" cy="650.2" r="5.3" fill="#4260d0"/>
<circle cx="570.4" cy="651.7" r="5.3" fill="#545cc6"/>
<circle cx="630.0" cy="652.6" r="5.3" fill="#495fcc"/>
<circle cx="621.2" cy="650.2" r="5.3" fill="#555cc5"/>
<circle cx="586.4" cy="652.0" r="5.3" fill="#4a5ecb"/>
<circle cx="562.5" cy="651.0" r="5.3" fill="#535cc6"/>
<circle cx="567.7" cy="651.0" r="5.3" fill="#4c5eca"/>
<circle cx="566.3" cy="651.0" r="5.3" fill="#4c5eca"/>
<circle cx="564.8" cy="649.5" r="5.3" fill="#535cc6"/>
<circle cx="563.8" cy="651.3" r="5.3" fill="#465fcd"/>
<circle cx="564.6" cy="651.0" r="5.3" fill="#575bc4"/>
<circle cx="564.0" cy="650.7" r="5.3" fill="#565cc5"/>
<circle cx="567.2" cy="651.5" r="5.3" fill="#4b5ecb"/>
<circle cx="564.9" cy="650.5" r="5.3" fill="#4d5eca"/>
<circle cx="563.2" cy="653.4" r="5.3" fill="#505dc8"/>
<circle cx="592.6" cy="686.5" r="5.3" fill="#535cc6"/>
<circle cx="610.4" cy="686.5" r="5.3" fill="#4c5eca"/>
<circle cx="600.8" cy="686.5" r="5.3" fill="#515dc8"/>
<circle cx="595.3" cy="686.6" r="5.3" fill="#575bc4"/>
<circle cx="598.0" cy="686.5" r="5.3" fill="#4a5ecc"/>
<circle cx="598.8" cy="686.9" r="5.3" fill="#485fcc"/>
<circle cx="596.5" cy="687.5" r="5.3" fill="#5a5bc2"/>
<circle cx="592.9" cy="686.1" r="5.3" fill="#595bc3"/>
<circle cx="608.5" cy="686.5" r="5.3" fill="#545cc6"/>
<circle cx="604.4" cy="684.4" r="5.3" fill="#4d5ec9"/>
<circle cx="606.1" cy="688.7" r="5.3" fill="#5d5ac1"/>
<circle cx="593.5" cy="686.7" r="5.3" fill="#4a5ecb"/>
<circle cx="602.3" cy="685.9" r="5.3" fill="#4e5dc9"/>
<circle cx="601.4" cy="685.8" r="5.3" fill="#4e5ec9"/>
<circle cx="609.6" cy="686.5" r="5.3" fill="#4e5dc9"/>
<circle cx="594.7" cy="687.7" r="5.3" fill="#485fcc"/>
<circle cx="607.8" cy="685.9" r="5.3" fill="#505dc8"/>
<circle cx="597.0" cy="687.8" r="5.3" fill="#585bc3"/>
<path d="M720.4 444.0 C721.2 448.8 723.9 463.3 725.4 473.0 C726.9 482.7 727.9 493.0 729.2 502.2 C730.5 511.4 732.7 521.4 733.3 528.0 C733.9 534.6 733.7 537.2 733.0 542.0 C732.3 546.8 731.0 551.7 728.9 556.5 C726.8 561.3 723.9 566.4 720.5 571.0 C717.1 575.6 713.6 579.3 708.7 584.0 C703.8 588.7 697.7 593.7 691.0 599.0 C684.3 604.3 676.0 610.7 668.5 616.0 C661.0 621.3 653.5 626.2 646.0 631.0 C638.5 635.8 631.1 640.2 623.7 644.5 C616.3 648.8 608.9 652.7 601.4 656.5 C593.9 660.3 586.5 663.8 579.0 667.3 C571.5 670.8 564.1 674.0 556.6 677.3 C549.1 680.6 542.0 683.8 534.2 687.0 C526.4 690.2 514.0 695.2 510.0 696.8" fill="none" stroke="#000" stroke-width="3.3" stroke-linecap="butt" stroke-linejoin="round"/>
<rect x="92.5" y="424.5" width="778.0" height="312.1" fill="none" stroke="#333" stroke-width="1.15"/>
<line x1="88.5" x2="92.5" y1="438.5" y2="438.5" stroke="#333" stroke-width="1.1"/>
<text x="64.8" y="448.0" font-size="27.3" fill="#4d4d4d" stroke="#4d4d4d" stroke-width="0.4">0</text>
<line x1="88.5" x2="92.5" y1="509.6" y2="509.6" stroke="#333" stroke-width="1.1"/>
<text x="52.6" y="519.0" font-size="27.3" fill="#4d4d4d" stroke="#4d4d4d" stroke-width="0.4">50</text>
<line x1="88.5" x2="92.5" y1="580.6" y2="580.6" stroke="#333" stroke-width="1.1"/>
<text x="40.5" y="590.1" font-size="27.3" fill="#4d4d4d" stroke="#4d4d4d" stroke-width="0.4">100</text>
<line x1="88.5" x2="92.5" y1="651.7" y2="651.7" stroke="#333" stroke-width="1.1"/>
<text x="40.5" y="661.2" font-size="27.3" fill="#4d4d4d" stroke="#4d4d4d" stroke-width="0.4">150</text>
<line x1="88.5" x2="92.5" y1="722.7" y2="722.7" stroke="#333" stroke-width="1.1"/>
<text x="40.5" y="732.2" font-size="27.3" fill="#4d4d4d" stroke="#4d4d4d" stroke-width="0.4">200</text>
<line x1="128.0" x2="128.0" y1="736.6" y2="740.4" stroke="#333" stroke-width="1.1"/>
<line x1="269.4" x2="269.4" y1="736.6" y2="740.4" stroke="#333" stroke-width="1.1"/>
<line x1="410.9" x2="410.9" y1="736.6" y2="740.4" stroke="#333" stroke-width="1.1"/>
<line x1="552.5" x2="552.5" y1="736.6" y2="740.4" stroke="#333" stroke-width="1.1"/>
<line x1="694.0" x2="694.0" y1="736.6" y2="740.4" stroke="#333" stroke-width="1.1"/>
<line x1="835.5" x2="835.5" y1="736.6" y2="740.4" stroke="#333" stroke-width="1.1"/>
<text x="122.6" y="415.1" font-size="34.0" letter-spacing="0" fill="#000" stroke="#000" stroke-width="0.6">HOT</text>
</g>
<g>
<line x1="198.7" x2="198.7" y1="785.0" y2="1097.5" stroke="#eeeeee" stroke-width="0.7"/>
<line x1="340.2" x2="340.2" y1="785.0" y2="1097.5" stroke="#eeeeee" stroke-width="0.7"/>
<line x1="481.7" x2="481.7" y1="785.0" y2="1097.5" stroke="#eeeeee" stroke-width="0.7"/>
<line x1="623.2" x2="623.2" y1="785.0" y2="1097.5" stroke="#eeeeee" stroke-width="0.7"/>
<line x1="764.7" x2="764.7" y1="785.0" y2="1097.5" stroke="#eeeeee" stroke-width="0.7"/>
<line x1="92.5" x2="870.5" y1="831.2" y2="831.2" stroke="#eeeeee" stroke-width="0.7"/>
<line x1="92.5" x2="870.5" y1="901.5" y2="901.5" stroke="#eeeeee" stroke-width="0.7"/>
<line x1="92.5" x2="870.5" y1="971.8" y2="971.8" stroke="#eeeeee" stroke-width="0.7"/>
<line x1="92.5" x2="870.5" y1="1042.1" y2="1042.1" stroke="#eeeeee" stroke-width="0.7"/>
<line x1="128.0" x2="128.0" y1="785.0" y2="1097.5" stroke="#ebebeb" stroke-width="1.35"/>
<line x1="269.4" x2="269.4" y1="785.0" y2="1097.5" stroke="#ebebeb" stroke-width="1.35"/>
<line x1="410.9" x2="410.9" y1="785.0" y2="1097.5" stroke="#ebebeb" stroke-width="1.35"/>
<line x1="552.5" x2="552.5" y1="785.0" y2="1097.5" stroke="#ebebeb" stroke-width="1.35"/>
<line x1="694.0" x2="694.0" y1="785.0" y2="1097.5" stroke="#ebebeb" stroke-width="1.35"/>
<line x1="835.5" x2="835.5" y1="785.0" y2="1097.5" stroke="#ebebeb" stroke-width="1.35"/>
<line x1="92.5" x2="870.5" y1="796.1" y2="796.1" stroke="#ebebeb" stroke-width="1.35"/>
<line x1="92.5" x2="870.5" y1="866.4" y2="866.4" stroke="#ebebeb" stroke-width="1.35"/>
<line x1="92.5" x2="870.5" y1="936.7" y2="936.7" stroke="#ebebeb" stroke-width="1.35"/>
<line x1="92.5" x2="870.5" y1="1006.9" y2="1006.9" stroke="#ebebeb" stroke-width="1.35"/>
<line x1="92.5" x2="870.5" y1="1077.2" y2="1077.2" stroke="#ebebeb" stroke-width="1.35"/>
<circle cx="503.7" cy="803.2" r="5.3" fill="#7156b5"/>
<circle cx="550.6" cy="803.2" r="5.3" fill="#5a5bc3"/>
<circle cx="563.1" cy="803.2" r="5.3" fill="#535cc6"/>
<circle cx="578.6" cy="803.5" r="5.3" fill="#535cc6"/>
<circle cx="583.5" cy="804.0" r="5.3" fill="#535cc6"/>
<circle cx="624.4" cy="803.5" r="5.3" fill="#4f5dc8"/>
<circle cx="672.6" cy="803.2" r="5.3" fill="#4c5eca"/>
<circle cx="720.8" cy="798.8" r="5.3" fill="#7b54af"/>
<circle cx="736.1" cy="811.6" r="5.3" fill="#7b54af"/>
<circle cx="622.7" cy="818.7" r="5.3" fill="#4f5dc8"/>
<circle cx="579.7" cy="821.4" r="5.3" fill="#535cc6"/>
<circle cx="565.3" cy="826.9" r="5.3" fill="#6758bb"/>
<circle cx="602.6" cy="823.6" r="5.3" fill="#4f5dc8"/>
<circle cx="597.7" cy="830.9" r="5.3" fill="#4f5dc8"/>
<circle cx="603.1" cy="831.0" r="5.3" fill="#4f5dc8"/>
<circle cx="670.7" cy="835.6" r="5.3" fill="#9a4d9c"/>
<circle cx="639.1" cy="849.5" r="5.3" fill="#4c5eca"/>
<circle cx="652.4" cy="850.8" r="5.3" fill="#9f4c97"/>
<circle cx="674.0" cy="853.5" r="5.3" fill="#4c5eca"/>
<circle cx="711.0" cy="849.5" r="5.3" fill="#495fcc"/>
<circle cx="627.9" cy="863.6" r="5.3" fill="#4c5eca"/>
<circle cx="692.5" cy="863.6" r="5.3" fill="#4c5eca"/>
<circle cx="638.0" cy="869.9" r="5.3" fill="#4c5eca"/>
<circle cx="637.5" cy="876.7" r="5.3" fill="#4c5eca"/>
<circle cx="641.3" cy="877.0" r="5.3" fill="#4c5eca"/>
<circle cx="698.5" cy="883.8" r="5.3" fill="#4c5eca"/>
<circle cx="679.7" cy="886.5" r="5.3" fill="#565cc4"/>
<circle cx="650.8" cy="895.8" r="5.3" fill="#4c5eca"/>
<circle cx="676.7" cy="900.7" r="5.3" fill="#4c5eca"/>
<circle cx="647.5" cy="911.3" r="5.3" fill="#7b54af"/>
<circle cx="693.8" cy="911.6" r="5.3" fill="#4c5eca"/>
<circle cx="650.3" cy="917.6" r="5.3" fill="#4c5eca"/>
<circle cx="669.9" cy="922.5" r="5.3" fill="#4c5eca"/>
<circle cx="683.2" cy="922.2" r="5.3" fill="#4c5eca"/>
<circle cx="689.2" cy="927.9" r="5.3" fill="#4c5eca"/>
<circle cx="580.2" cy="922.5" r="5.3" fill="#535cc6"/>
<circle cx="514.3" cy="936.6" r="5.3" fill="#9a4d9c"/>
<circle cx="506.4" cy="944.0" r="5.3" fill="#9a4d9c"/>
<circle cx="654.9" cy="942.5" r="5.3" fill="#4c5eca"/>
<circle cx="690.6" cy="948.1" r="5.3" fill="#495fcc"/>
<circle cx="693.6" cy="948.3" r="5.3" fill="#495fcc"/>
<circle cx="627.1" cy="956.6" r="5.3" fill="#565cc4"/>
<circle cx="552.7" cy="964.9" r="5.3" fill="#535cc6"/>
<circle cx="683.8" cy="973.6" r="5.3" fill="#4c5eca"/>
<circle cx="664.4" cy="985.8" r="5.3" fill="#4c5eca"/>
<circle cx="289.5" cy="932.7" r="5.3" fill="#ee2a35"/>
<circle cx="322.7" cy="1083.1" r="5.3" fill="#7156b5"/>
<circle cx="428.7" cy="1083.1" r="5.3" fill="#565cc4"/>
<path d="M603.1 799.6 C605.3 802.7 611.3 812.3 616.2 818.1 C621.1 823.9 627.0 829.3 632.5 834.5 C638.0 839.7 643.9 844.5 648.9 849.5 C653.9 854.5 659.5 860.3 662.5 864.4 C665.5 868.5 666.5 871.0 666.6 874.0 C666.7 877.0 665.7 878.8 663.0 882.2 C660.3 885.6 654.9 890.1 650.3 894.4 C645.7 898.7 639.6 903.5 635.3 908.0 C631.0 912.5 626.8 917.2 624.4 921.7 C622.0 926.2 621.6 931.4 621.1 935.3 C620.6 939.2 621.2 941.4 621.6 945.0 C622.0 948.6 623.7 953.6 623.6 957.2 C623.5 960.8 622.7 963.1 620.8 966.5 C618.9 969.9 616.5 973.6 612.4 977.7 C608.3 981.8 602.5 986.8 596.1 991.3 C589.8 995.8 582.5 1000.4 574.3 1004.9 C566.1 1009.4 556.2 1014.1 547.1 1018.3 C538.0 1022.5 528.9 1026.4 519.8 1030.3 C510.7 1034.2 501.7 1038.0 492.6 1041.7 C483.5 1045.4 474.4 1049.0 465.3 1052.6 C456.2 1056.1 447.2 1059.6 438.1 1063.0 C429.0 1066.4 420.0 1069.7 410.9 1073.0 C401.8 1076.3 388.2 1081.4 383.6 1083.1" fill="none" stroke="#000" stroke-width="3.3" stroke-linecap="butt" stroke-linejoin="round"/>
<rect x="92.5" y="785.0" width="778.0" height="312.5" fill="none" stroke="#333" stroke-width="1.15"/>
<line x1="92.0" x2="871.0" y1="785" y2="785" stroke="#333" stroke-width="1.7"/>
<line x1="88.5" x2="92.5" y1="796.1" y2="796.1" stroke="#333" stroke-width="1.1"/>
<text x="64.8" y="805.6" font-size="27.3" fill="#4d4d4d" stroke="#4d4d4d" stroke-width="0.4">0</text>
<line x1="88.5" x2="92.5" y1="866.4" y2="866.4" stroke="#333" stroke-width="1.1"/>
<text x="52.6" y="875.9" font-size="27.3" fill="#4d4d4d" stroke="#4d4d4d" stroke-width="0.4">50</text>
<line x1="88.5" x2="92.5" y1="936.7" y2="936.7" stroke="#333" stroke-width="1.1"/>
<text x="40.5" y="946.2" font-size="27.3" fill="#4d4d4d" stroke="#4d4d4d" stroke-width="0.4">100</text>
<line x1="88.5" x2="92.5" y1="1006.9" y2="1006.9" stroke="#333" stroke-width="1.1"/>
<text x="40.5" y="1016.4" font-size="27.3" fill="#4d4d4d" stroke="#4d4d4d" stroke-width="0.4">150</text>
<line x1="88.5" x2="92.5" y1="1077.2" y2="1077.2" stroke="#333" stroke-width="1.1"/>
<text x="40.5" y="1086.7" font-size="27.3" fill="#4d4d4d" stroke="#4d4d4d" stroke-width="0.4">200</text>
<line x1="128.0" x2="128.0" y1="1097.5" y2="1101.3" stroke="#333" stroke-width="1.1"/>
<line x1="269.4" x2="269.4" y1="1097.5" y2="1101.3" stroke="#333" stroke-width="1.1"/>
<line x1="410.9" x2="410.9" y1="1097.5" y2="1101.3" stroke="#333" stroke-width="1.1"/>
<line x1="552.5" x2="552.5" y1="1097.5" y2="1101.3" stroke="#333" stroke-width="1.1"/>
<line x1="694.0" x2="694.0" y1="1097.5" y2="1101.3" stroke="#333" stroke-width="1.1"/>
<line x1="835.5" x2="835.5" y1="1097.5" y2="1101.3" stroke="#333" stroke-width="1.1"/>
<text x="100.7" y="774.2" font-size="34.0" letter-spacing="0" fill="#000" stroke="#000" stroke-width="0.6">this study</text>
</g>
<text x="111.2" y="1127.9" font-size="27.3" fill="#4d4d4d" stroke="#4d4d4d" stroke-width="0.4">10<tspan font-size="20.3" dx="0.3" dy="-10.9">1</tspan></text>
<text x="252.6" y="1127.9" font-size="27.3" fill="#4d4d4d" stroke="#4d4d4d" stroke-width="0.4">10<tspan font-size="20.3" dx="0.3" dy="-10.9">2</tspan></text>
<text x="394.1" y="1127.9" font-size="27.3" fill="#4d4d4d" stroke="#4d4d4d" stroke-width="0.4">10<tspan font-size="20.3" dx="0.3" dy="-10.9">3</tspan></text>
<text x="535.7" y="1127.9" font-size="27.3" fill="#4d4d4d" stroke="#4d4d4d" stroke-width="0.4">10<tspan font-size="20.3" dx="0.3" dy="-10.9">4</tspan></text>
<text x="677.2" y="1127.9" font-size="27.3" fill="#4d4d4d" stroke="#4d4d4d" stroke-width="0.4">10<tspan font-size="20.3" dx="0.3" dy="-10.9">5</tspan></text>
<text x="818.7" y="1127.9" font-size="27.3" fill="#4d4d4d" stroke="#4d4d4d" stroke-width="0.4">10<tspan font-size="20.3" dx="0.3" dy="-10.9">6</tspan></text>
<text x="342.3" y="1164" font-size="27.4" fill="#000" stroke="#000" stroke-width="0.5">abundance (cells mL<tspan font-size="26" dx="-0.2" dy="-8.0">−</tspan><tspan font-size="19.2" dx="1.3" dy="-2.6">1</tspan><tspan dx="-0.9" dy="10.6">)</tspan></text>
<text transform="translate(20.4 583.5) rotate(-90)" font-size="27.4" text-anchor="middle" fill="#000" stroke="#000" stroke-width="0.5">depth (m)</text>
<text x="873.9" y="466.9" font-size="27.2" fill="#000" stroke="#000" stroke-width="0.5">(<tspan font-style="italic">Pro.</tspan> <tspan dx="0.8" dy="1.2">+</tspan><tspan dx="-0.8" dy="-1.2"> </tspan><tspan font-style="italic">Syn.</tspan>)</text>
<line x1="876" x2="1028" y1="474.5" y2="474.5" stroke="#000" stroke-width="1.35"/>
<text x="885" y="499.6" font-size="27.2" fill="#000" stroke="#000" stroke-width="0.5">total phyto.</text>
<rect x="894.3" y="523.1" width="23.9" height="117.5" fill="url(#cb)"/>
<line x1="894.3" x2="899.1" y1="552.4" y2="552.4" stroke="#fff" stroke-width="0.9"/>
<line x1="913.4" x2="918.2" y1="552.4" y2="552.4" stroke="#fff" stroke-width="0.9"/>
<line x1="894.3" x2="899.1" y1="581.9" y2="581.9" stroke="#fff" stroke-width="0.9"/>
<line x1="913.4" x2="918.2" y1="581.9" y2="581.9" stroke="#fff" stroke-width="0.9"/>
<line x1="894.3" x2="899.1" y1="611.3" y2="611.3" stroke="#fff" stroke-width="0.9"/>
<line x1="913.4" x2="918.2" y1="611.3" y2="611.3" stroke="#fff" stroke-width="0.9"/>
<text x="924.7" y="530.8" font-size="21.8" fill="#000" stroke="#000" stroke-width="0.3">1.0</text>
<text x="924.7" y="589.6" font-size="21.8" fill="#000" stroke="#000" stroke-width="0.3">0.5</text>
<text x="924.7" y="648.4" font-size="21.8" fill="#000" stroke="#000" stroke-width="0.3">0.0</text>
</svg>
</body></html>
